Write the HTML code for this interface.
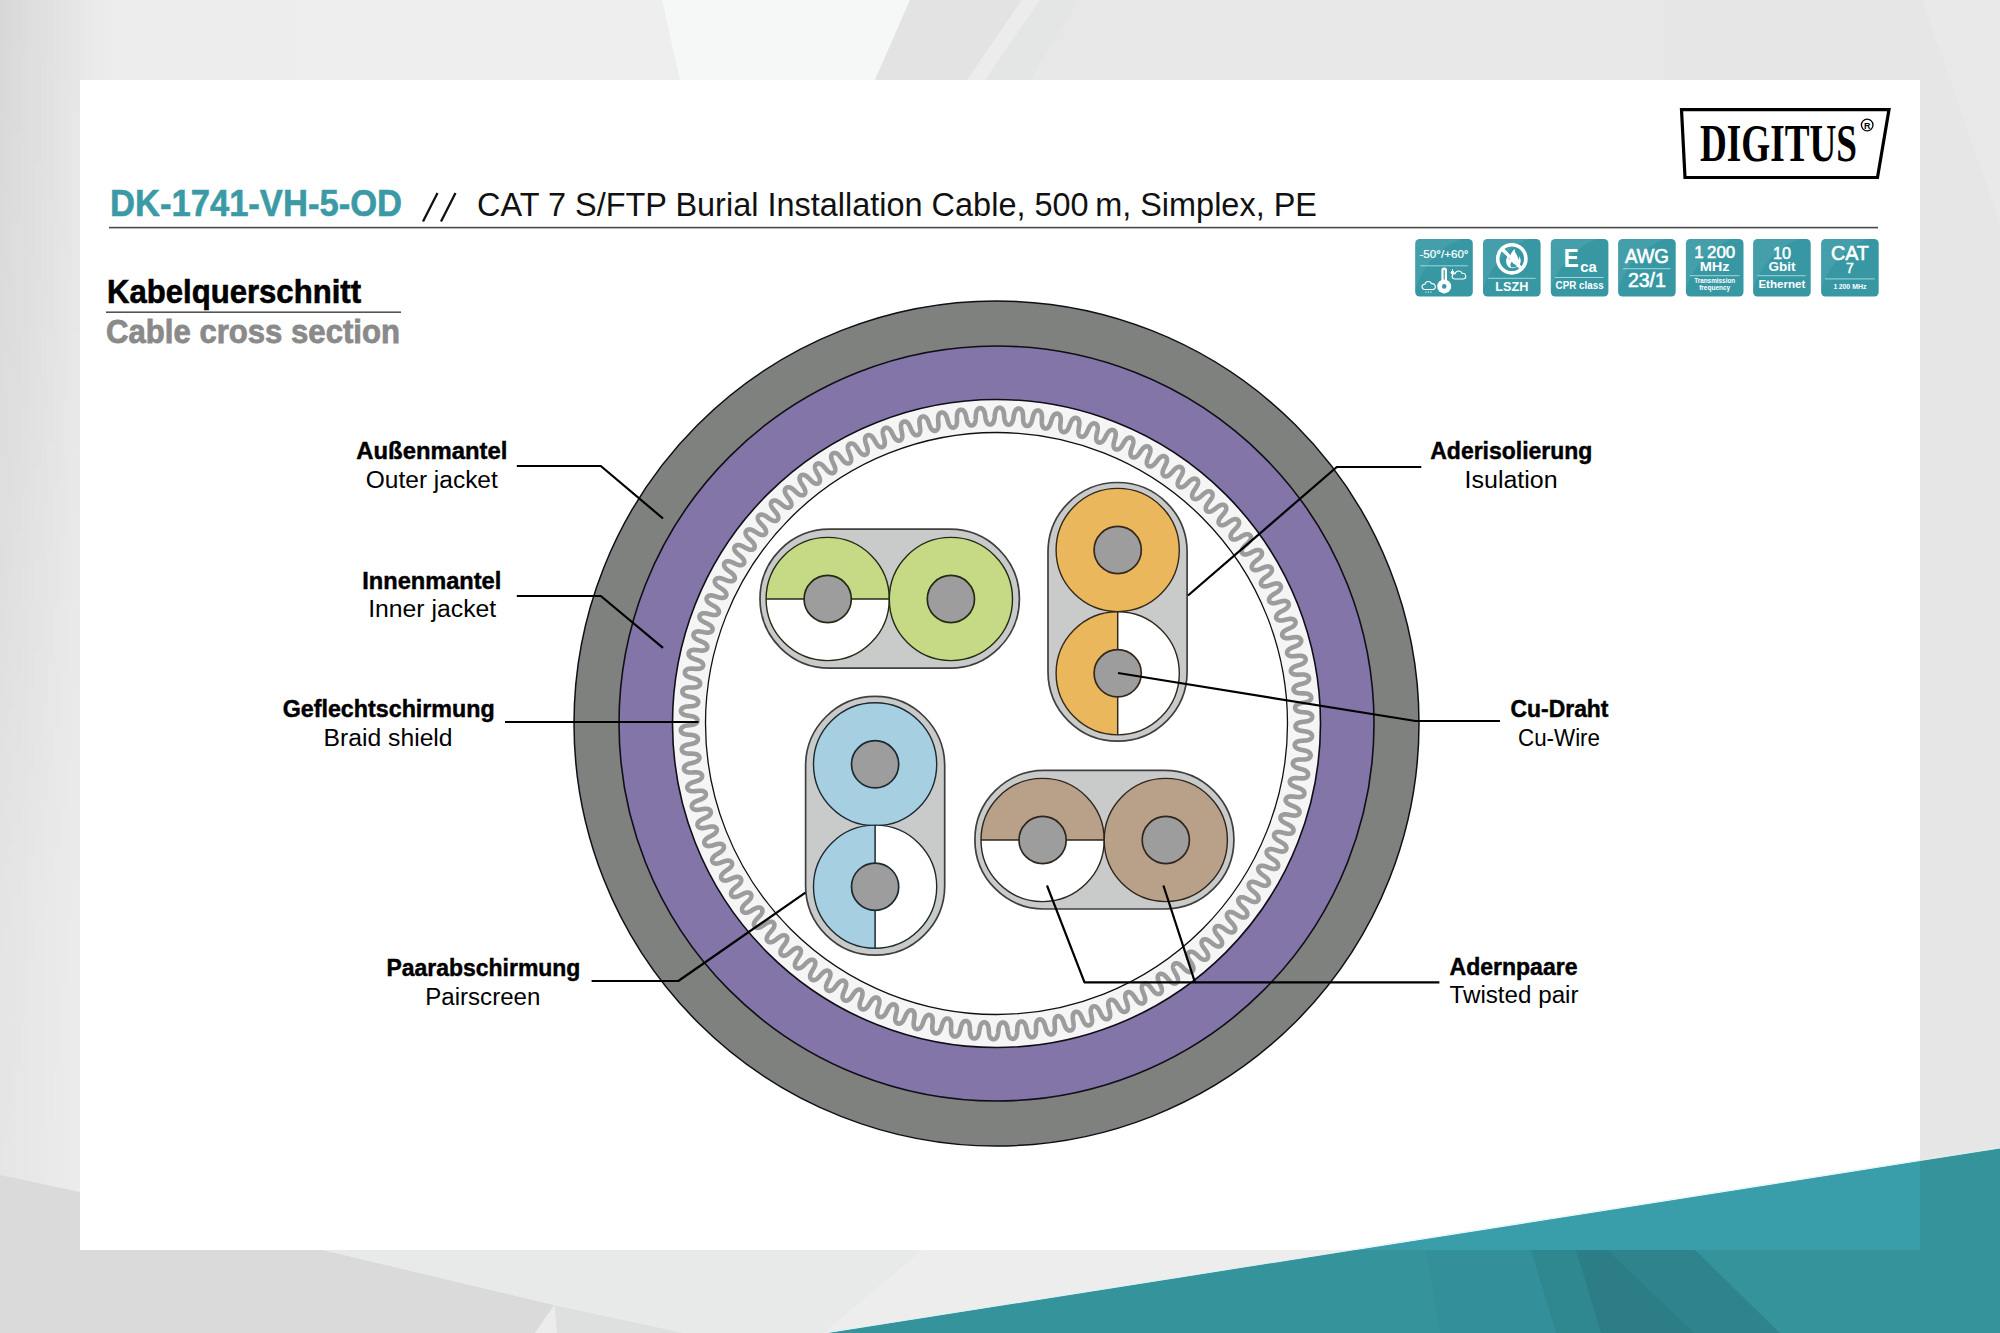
<!DOCTYPE html><html><head><meta charset="utf-8"><style>html,body{margin:0;padding:0;width:2000px;height:1333px;overflow:hidden;background:#e9e9e9}svg{display:block}text{font-family:"Liberation Sans",sans-serif}</style></head><body>
<svg width="2000" height="1333" viewBox="0 0 2000 1333">
<defs><linearGradient id="bgL" x1="0" y1="0" x2="1" y2="0"><stop offset="0" stop-color="#e8e8e8"/><stop offset="0.045" stop-color="#ededed"/><stop offset="0.33" stop-color="#eeeeee"/><stop offset="0.54" stop-color="#e7e7e7"/><stop offset="1" stop-color="#e6e6e6"/></linearGradient><linearGradient id="gloss" x1="0" y1="0" x2="1" y2="1"><stop offset="0" stop-color="#ffffff" stop-opacity="0.10"/><stop offset="0.45" stop-color="#ffffff" stop-opacity="0.06"/><stop offset="0.46" stop-color="#ffffff" stop-opacity="0"/><stop offset="1" stop-color="#ffffff" stop-opacity="0"/></linearGradient><linearGradient id="core" x1="0" y1="0" x2="0" y2="1"><stop offset="0" stop-color="#a9a9a9"/><stop offset="1" stop-color="#979797"/></linearGradient></defs>
<rect x="0" y="0" width="2000" height="1333" fill="url(#bgL)"/>
<defs><linearGradient id="tl" x1="0" y1="0" x2="1" y2="0"><stop offset="0" stop-color="#000" stop-opacity="0.07"/><stop offset="1" stop-color="#000" stop-opacity="0"/></linearGradient><linearGradient id="tv" x1="0" y1="0" x2="0" y2="1"><stop offset="0" stop-color="#fff"/><stop offset="0.25" stop-color="#fff" stop-opacity="0.75"/><stop offset="0.7" stop-color="#fff" stop-opacity="0.2"/><stop offset="1" stop-color="#fff" stop-opacity="0.1"/></linearGradient><mask id="mv" maskUnits="userSpaceOnUse" x="0" y="0" width="200" height="1333"><rect x="0" y="0" width="200" height="1333" fill="url(#tv)"/></mask></defs>
<rect x="0" y="0" width="115" height="1333" fill="url(#tl)" mask="url(#mv)"/>
<polygon points="662,0 910,0 875,80 680,80" fill="#f6f7f7"/>
<polygon points="910,0 1022,0 967,80 875,80" fill="#e3e3e3"/>
<polygon points="1022,0 1040,0 985,80 967,80" fill="#ececec"/>
<polygon points="1040,0 1079,0 1030,80 985,80" fill="#e4e5e5"/>
<polygon points="0,1175 80,1192 80,1250 323,1250 554.5,1305 535,1333 0,1333" fill="#dadada"/>
<polygon points="554.5,1305 557,1333 535,1333" fill="#ececec"/>
<polygon points="554.5,1305 684,1333 557,1333" fill="#dedfdf"/>
<polygon points="323,1250 922,1250 824,1333 684,1333 554.5,1305" fill="#e8e9e9"/>
<polygon points="922,1250 2000,1250 2000,1333 824,1333" fill="#ededed"/>
<polygon points="1923,0 2000,0 2000,225" fill="#e9e9e9"/>
<polygon points="828,1333 2000,1148.4 2000,1333" fill="#34939b"/>
<polygon points="1426,1250 1531,1250 1560,1333 1440,1333" fill="#33909a"/>
<polygon points="1531,1250 1576,1250 1601,1333 1556,1333" fill="#2f8790"/>
<polygon points="1576,1250 1608,1250 1695,1333 1601,1333" fill="#2c7d86"/>
<polygon points="1608,1250 1695,1250 1780,1333 1695,1333" fill="#2f838c"/>
<rect x="80" y="80" width="1840" height="1170" fill="#ffffff"/>
<polygon points="1355.8,1250 1920,1161.1 1920,1250" fill="#3a9eaa"/>
<line x1="828" y1="1332.2" x2="2000" y2="1147.6" stroke="#d6f3f5" stroke-width="1" stroke-opacity="0.8"/>
<circle cx="996.5" cy="723.5" r="422.5" fill="#7f817f" stroke="#110e18" stroke-width="1.5"/>
<circle cx="996.5" cy="723.5" r="377.5" fill="#8475a9" stroke="#110e18" stroke-width="1.6"/>
<circle cx="996.5" cy="723.5" r="324" fill="#f5f5f6" stroke="#110e18" stroke-width="1.6"/>
<path d="M1299.21,722.54 L1298.85,722.66 L1298.50,722.80 L1298.16,722.94 L1297.84,723.10 L1297.54,723.27 L1297.26,723.45 L1296.99,723.64 L1296.75,723.84 L1296.52,724.05 L1296.32,724.27 L1296.13,724.50 L1295.97,724.74 L1295.83,724.98 L1295.72,725.23 L1295.63,725.49 L1295.56,725.75 L1295.51,726.02 L1295.49,726.28 L1295.49,726.55 L1295.51,726.81 L1295.56,727.08 L1295.64,727.34 L1295.73,727.59 L1295.85,727.85 L1295.99,728.09 L1296.16,728.33 L1296.34,728.56 L1296.55,728.78 L1296.78,729.00 L1297.02,729.20 L1297.29,729.39 L1297.58,729.57 L1297.88,729.74 L1298.20,729.90 L1298.54,730.05 L1298.90,730.19 L1299.26,730.31 L1299.64,730.43 L1300.04,730.54 L1300.44,730.63 L1300.85,730.72 L1301.27,730.81 L1301.70,730.88 L1302.14,730.95 L1302.58,731.02 L1303.02,731.08 L1303.47,731.14 L1303.92,731.20 L1304.36,731.26 L1304.81,731.32 L1305.25,731.39 L1305.69,731.45 L1306.12,731.53 L1306.55,731.61 L1306.97,731.70 L1307.37,731.79 L1307.77,731.90 L1308.16,732.02 L1308.53,732.14 L1308.89,732.28 L1309.23,732.43 L1309.56,732.59 L1309.87,732.77 L1310.17,732.95 L1310.44,733.15 L1310.70,733.36 L1310.93,733.58 L1311.15,733.81 L1311.34,734.05 L1311.51,734.30 L1311.66,734.56 L1311.78,734.82 L1311.88,735.09 L1311.96,735.37 L1312.01,735.65 L1312.04,735.93 L1312.04,736.21 L1312.02,736.49 L1311.98,736.77 L1311.91,737.04 L1311.82,737.31 L1311.71,737.58 L1311.57,737.83 L1311.41,738.08 L1311.23,738.32 L1311.02,738.55 L1310.80,738.77 L1310.55,738.97 L1310.28,739.16 L1310.00,739.34 L1309.70,739.51 L1309.38,739.66 L1309.04,739.80 L1308.69,739.92 L1308.33,740.04 L1307.95,740.14 L1307.56,740.23 L1307.16,740.30 L1306.75,740.37 L1306.33,740.43 L1305.90,740.47 L1305.46,740.52 L1305.02,740.55 L1304.58,740.58 L1304.13,740.61 L1303.68,740.63 L1303.23,740.65 L1302.78,740.68 L1302.33,740.70 L1301.88,740.73 L1301.44,740.76 L1301.01,740.80 L1300.58,740.85 L1300.16,740.90 L1299.74,740.96 L1299.34,741.03 L1298.95,741.12 L1298.57,741.21 L1298.20,741.31 L1297.85,741.43 L1297.51,741.56 L1297.18,741.70 L1296.88,741.85 L1296.59,742.02 L1296.32,742.20 L1296.07,742.39 L1295.84,742.59 L1295.63,742.80 L1295.44,743.02 L1295.27,743.25 L1295.13,743.49 L1295.00,743.74 L1294.90,743.99 L1294.83,744.25 L1294.77,744.51 L1294.74,744.78 L1294.74,745.04 L1294.75,745.31 L1294.79,745.57 L1294.86,745.84 L1294.95,746.10 L1295.06,746.36 L1295.19,746.61 L1295.35,746.85 L1295.53,747.09 L1295.73,747.33 L1295.95,747.55 L1296.19,747.76 L1296.45,747.97 L1296.73,748.16 L1297.03,748.35 L1297.35,748.52 L1297.69,748.69 L1298.04,748.84 L1298.40,748.99 L1298.78,749.13 L1299.17,749.25 L1299.57,749.37 L1299.98,749.49 L1300.40,749.59 L1300.82,749.69 L1301.25,749.79 L1301.69,749.88 L1302.13,749.97 L1302.57,750.05 L1303.02,750.14 L1303.46,750.23 L1303.90,750.32 L1304.33,750.41 L1304.76,750.51 L1305.19,750.61 L1305.61,750.72 L1306.01,750.84 L1306.41,750.96 L1306.80,751.09 L1307.17,751.24 L1307.53,751.39 L1307.88,751.55 L1308.21,751.73 L1308.52,751.91 L1308.81,752.11 L1309.09,752.32 L1309.34,752.54 L1309.57,752.76 L1309.79,753.00 L1309.98,753.25 L1310.15,753.50 L1310.29,753.77 L1310.42,754.04 L1310.52,754.31 L1310.59,754.59 L1310.64,754.87 L1310.67,755.15 L1310.67,755.43 L1310.65,755.71 L1310.61,755.99 L1310.54,756.26 L1310.45,756.53 L1310.33,756.79 L1310.19,757.04 L1310.03,757.29 L1309.85,757.52 L1309.64,757.74 L1309.42,757.96 L1309.17,758.15 L1308.91,758.34 L1308.62,758.51 L1308.32,758.66 L1308.01,758.81 L1307.67,758.93 L1307.32,759.05 L1306.96,759.15 L1306.58,759.23 L1306.20,759.30 L1305.80,759.36 L1305.39,759.41 L1304.97,759.45 L1304.54,759.48 L1304.11,759.49 L1303.67,759.51 L1303.23,759.51 L1302.78,759.51 L1302.33,759.51 L1301.88,759.51 L1301.43,759.50 L1300.98,759.50 L1300.53,759.50 L1300.09,759.50 L1299.65,759.51 L1299.21,759.52 L1298.78,759.54 L1298.36,759.57 L1297.95,759.61 L1297.54,759.66 L1297.15,759.73 L1296.77,759.80 L1296.40,759.89 L1296.05,759.98 L1295.71,760.10 L1295.38,760.22 L1295.07,760.36 L1294.78,760.51 L1294.51,760.68 L1294.25,760.86 L1294.02,761.05 L1293.80,761.25 L1293.60,761.47 L1293.43,761.69 L1293.28,761.92 L1293.15,762.16 L1293.04,762.41 L1292.96,762.67 L1292.89,762.93 L1292.86,763.19 L1292.84,763.45 L1292.85,763.72 L1292.88,763.99 L1292.94,764.26 L1293.02,764.52 L1293.12,764.78 L1293.25,765.04 L1293.40,765.30 L1293.57,765.54 L1293.76,765.79 L1293.98,766.02 L1294.21,766.25 L1294.47,766.46 L1294.75,766.67 L1295.04,766.87 L1295.35,767.06 L1295.68,767.25 L1296.03,767.42 L1296.39,767.58 L1296.76,767.74 L1297.14,767.89 L1297.54,768.03 L1297.95,768.17 L1298.36,768.29 L1298.78,768.42 L1299.21,768.54 L1299.64,768.66 L1300.08,768.77 L1300.51,768.89 L1300.95,769.00 L1301.38,769.12 L1301.82,769.23 L1302.24,769.35 L1302.67,769.48 L1303.08,769.61 L1303.49,769.75 L1303.88,769.89 L1304.27,770.04 L1304.64,770.20 L1305.00,770.37 L1305.34,770.55 L1305.67,770.74 L1305.98,770.94 L1306.28,771.14 L1306.55,771.36 L1306.81,771.59 L1307.04,771.82 L1307.25,772.07 L1307.44,772.32 L1307.61,772.58 L1307.76,772.85 L1307.88,773.12 L1307.97,773.40 L1308.05,773.68 L1308.10,773.96 L1308.12,774.25 L1308.12,774.53 L1308.10,774.81 L1308.05,775.09 L1307.98,775.36 L1307.89,775.62 L1307.77,775.88 L1307.63,776.13 L1307.47,776.37 L1307.29,776.60 L1307.08,776.82 L1306.86,777.03 L1306.61,777.22 L1306.35,777.40 L1306.07,777.56 L1305.77,777.71 L1305.45,777.84 L1305.12,777.95 L1304.78,778.06 L1304.42,778.14 L1304.04,778.21 L1303.66,778.27 L1303.26,778.31 L1302.86,778.34 L1302.45,778.36 L1302.02,778.37 L1301.59,778.37 L1301.16,778.36 L1300.72,778.34 L1300.27,778.32 L1299.83,778.29 L1299.38,778.26 L1298.93,778.23 L1298.48,778.19 L1298.03,778.16 L1297.58,778.14 L1297.14,778.11 L1296.70,778.10 L1296.27,778.09 L1295.84,778.08 L1295.42,778.09 L1295.01,778.11 L1294.61,778.14 L1294.21,778.18 L1293.83,778.24 L1293.46,778.30 L1293.11,778.39 L1292.77,778.48 L1292.44,778.59 L1292.13,778.72 L1291.83,778.86 L1291.56,779.01 L1291.30,779.18 L1291.06,779.36 L1290.84,779.55 L1290.64,779.76 L1290.46,779.97 L1290.30,780.20 L1290.16,780.44 L1290.04,780.68 L1289.95,780.93 L1289.88,781.19 L1289.84,781.45 L1289.81,781.72 L1289.81,781.98 L1289.84,782.25 L1289.89,782.52 L1289.96,782.79 L1290.05,783.06 L1290.17,783.33 L1290.31,783.59 L1290.48,783.84 L1290.66,784.09 L1290.87,784.34 L1291.10,784.57 L1291.35,784.81 L1291.62,785.03 L1291.91,785.24 L1292.21,785.45 L1292.54,785.65 L1292.88,785.84 L1293.23,786.03 L1293.60,786.20 L1293.98,786.37 L1294.37,786.54 L1294.77,786.69 L1295.18,786.85 L1295.59,786.99 L1296.01,787.14 L1296.44,787.28 L1296.86,787.42 L1297.29,787.56 L1297.72,787.71 L1298.15,787.85 L1298.57,787.99 L1298.99,788.14 L1299.40,788.29 L1299.80,788.45 L1300.20,788.62 L1300.58,788.79 L1300.95,788.96 L1301.31,789.15 L1301.65,789.34 L1301.98,789.55 L1302.29,789.76 L1302.58,789.98 L1302.85,790.20 L1303.10,790.44 L1303.34,790.69 L1303.55,790.94 L1303.74,791.20 L1303.90,791.47 L1304.05,791.74 L1304.17,792.02 L1304.26,792.30 L1304.33,792.58 L1304.38,792.87 L1304.41,793.15 L1304.41,793.43 L1304.38,793.71 L1304.33,793.99 L1304.26,794.26 L1304.16,794.53 L1304.05,794.79 L1303.91,795.03 L1303.74,795.27 L1303.56,795.50 L1303.35,795.71 L1303.13,795.91 L1302.89,796.10 L1302.62,796.27 L1302.34,796.42 L1302.05,796.56 L1301.73,796.68 L1301.40,796.79 L1301.06,796.88 L1300.71,796.95 L1300.34,797.01 L1299.96,797.06 L1299.57,797.08 L1299.17,797.10 L1298.76,797.10 L1298.34,797.09 L1297.91,797.07 L1297.48,797.03 L1297.05,796.99 L1296.61,796.95 L1296.17,796.89 L1295.72,796.84 L1295.27,796.78 L1294.83,796.72 L1294.38,796.66 L1293.93,796.60 L1293.49,796.55 L1293.05,796.50 L1292.62,796.46 L1292.19,796.43 L1291.76,796.40 L1291.35,796.39 L1290.94,796.38 L1290.54,796.39 L1290.15,796.41 L1289.77,796.45 L1289.40,796.50 L1289.04,796.57 L1288.70,796.65 L1288.37,796.74 L1288.06,796.85 L1287.76,796.98 L1287.48,797.12 L1287.22,797.28 L1286.98,797.45 L1286.75,797.63 L1286.54,797.83 L1286.36,798.04 L1286.19,798.26 L1286.05,798.49 L1285.93,798.73 L1285.83,798.98 L1285.75,799.23 L1285.70,799.49 L1285.67,799.76 L1285.66,800.03 L1285.67,800.30 L1285.71,800.57 L1285.78,800.84 L1285.86,801.12 L1285.97,801.39 L1286.11,801.65 L1286.26,801.92 L1286.44,802.18 L1286.64,802.43 L1286.86,802.68 L1287.11,802.93 L1287.37,803.16 L1287.65,803.39 L1287.95,803.62 L1288.26,803.83 L1288.59,804.04 L1288.94,804.24 L1289.30,804.44 L1289.67,804.63 L1290.06,804.82 L1290.45,805.00 L1290.85,805.17 L1291.26,805.35 L1291.67,805.52 L1292.09,805.68 L1292.51,805.85 L1292.93,806.02 L1293.35,806.19 L1293.76,806.36 L1294.17,806.53 L1294.58,806.70 L1294.98,806.88 L1295.36,807.07 L1295.74,807.26 L1296.11,807.45 L1296.47,807.65 L1296.81,807.86 L1297.13,808.08 L1297.44,808.31 L1297.73,808.54 L1298.00,808.78 L1298.25,809.03 L1298.48,809.28 L1298.69,809.54 L1298.88,809.81 L1299.04,810.08 L1299.18,810.36 L1299.30,810.64 L1299.40,810.93 L1299.47,811.21 L1299.51,811.50 L1299.53,811.79 L1299.53,812.07 L1299.50,812.35 L1299.45,812.63 L1299.38,812.90 L1299.28,813.17 L1299.16,813.42 L1299.02,813.67 L1298.86,813.90 L1298.67,814.13 L1298.47,814.34 L1298.25,814.53 L1298.00,814.71 L1297.74,814.88 L1297.46,815.02 L1297.17,815.16 L1296.86,815.27 L1296.53,815.37 L1296.19,815.45 L1295.84,815.51 L1295.48,815.56 L1295.10,815.59 L1294.72,815.60 L1294.32,815.60 L1293.92,815.58 L1293.51,815.56 L1293.09,815.51 L1292.66,815.46 L1292.23,815.40 L1291.80,815.33 L1291.36,815.26 L1290.92,815.17 L1290.48,815.09 L1290.04,815.00 L1289.60,814.92 L1289.16,814.83 L1288.72,814.75 L1288.28,814.67 L1287.84,814.59 L1287.41,814.53 L1286.99,814.47 L1286.57,814.42 L1286.15,814.39 L1285.75,814.36 L1285.35,814.35 L1284.96,814.36 L1284.59,814.37 L1284.22,814.41 L1283.87,814.46 L1283.52,814.52 L1283.20,814.60 L1282.88,814.70 L1282.58,814.81 L1282.30,814.94 L1282.04,815.09 L1281.79,815.25 L1281.56,815.42 L1281.35,815.61 L1281.15,815.81 L1280.98,816.03 L1280.83,816.25 L1280.70,816.49 L1280.60,816.73 L1280.51,816.98 L1280.45,817.24 L1280.41,817.51 L1280.40,817.78 L1280.40,818.05 L1280.43,818.33 L1280.49,818.60 L1280.57,818.88 L1280.67,819.16 L1280.79,819.43 L1280.94,819.70 L1281.11,819.97 L1281.30,820.24 L1281.52,820.50 L1281.75,820.75 L1282.00,821.00 L1282.28,821.25 L1282.57,821.49 L1282.87,821.72 L1283.20,821.95 L1283.54,822.17 L1283.89,822.39 L1284.25,822.60 L1284.63,822.81 L1285.01,823.01 L1285.40,823.21 L1285.80,823.41 L1286.21,823.60 L1286.61,823.79 L1287.02,823.99 L1287.43,824.18 L1287.83,824.37 L1288.24,824.57 L1288.64,824.76 L1289.03,824.97 L1289.41,825.17 L1289.78,825.38 L1290.15,825.59 L1290.50,825.81 L1290.83,826.04 L1291.15,826.27 L1291.46,826.51 L1291.75,826.76 L1292.01,827.01 L1292.26,827.27 L1292.49,827.53 L1292.70,827.80 L1292.88,828.08 L1293.05,828.36 L1293.18,828.64 L1293.30,828.93 L1293.39,829.22 L1293.46,829.51 L1293.50,829.80 L1293.52,830.09 L1293.52,830.38 L1293.49,830.66 L1293.44,830.94 L1293.36,831.21 L1293.26,831.47 L1293.14,831.73 L1293.00,831.97 L1292.84,832.20 L1292.65,832.42 L1292.45,832.63 L1292.22,832.82 L1291.98,832.99 L1291.72,833.15 L1291.45,833.30 L1291.15,833.42 L1290.85,833.53 L1290.52,833.62 L1290.19,833.69 L1289.84,833.74 L1289.48,833.77 L1289.11,833.79 L1288.73,833.79 L1288.34,833.78 L1287.95,833.75 L1287.54,833.70 L1287.13,833.64 L1286.71,833.57 L1286.29,833.49 L1285.87,833.40 L1285.44,833.30 L1285.00,833.20 L1284.57,833.09 L1284.13,832.97 L1283.70,832.86 L1283.26,832.74 L1282.82,832.63 L1282.39,832.52 L1281.96,832.42 L1281.53,832.32 L1281.11,832.23 L1280.69,832.15 L1280.27,832.08 L1279.87,832.03 L1279.47,831.98 L1279.07,831.95 L1278.69,831.94 L1278.32,831.94 L1277.95,831.95 L1277.60,831.99 L1277.26,832.04 L1276.93,832.10 L1276.62,832.19 L1276.32,832.29 L1276.03,832.41 L1275.76,832.54 L1275.51,832.69 L1275.28,832.86 L1275.06,833.04 L1274.86,833.23 L1274.69,833.44 L1274.53,833.66 L1274.40,833.89 L1274.28,834.13 L1274.19,834.38 L1274.12,834.64 L1274.07,834.90 L1274.05,835.17 L1274.05,835.45 L1274.07,835.72 L1274.12,836.00 L1274.18,836.29 L1274.28,836.57 L1274.39,836.85 L1274.53,837.13 L1274.69,837.41 L1274.87,837.68 L1275.08,837.96 L1275.30,838.22 L1275.55,838.49 L1275.81,838.75 L1276.09,839.00 L1276.39,839.25 L1276.71,839.50 L1277.04,839.74 L1277.38,839.98 L1277.73,840.21 L1278.10,840.44 L1278.47,840.66 L1278.85,840.88 L1279.24,841.10 L1279.63,841.32 L1280.03,841.54 L1280.42,841.76 L1280.82,841.97 L1281.21,842.19 L1281.60,842.41 L1281.98,842.64 L1282.36,842.86 L1282.72,843.09 L1283.08,843.32 L1283.42,843.56 L1283.76,843.81 L1284.07,844.05 L1284.37,844.31 L1284.66,844.57 L1284.92,844.83 L1285.17,845.10 L1285.39,845.38 L1285.59,845.66 L1285.78,845.94 L1285.94,846.23 L1286.07,846.52 L1286.19,846.81 L1286.28,847.11 L1286.34,847.40 L1286.38,847.69 L1286.40,847.99 L1286.39,848.27 L1286.36,848.56 L1286.31,848.84 L1286.23,849.11 L1286.13,849.37 L1286.01,849.62 L1285.87,849.87 L1285.70,850.10 L1285.52,850.31 L1285.31,850.52 L1285.09,850.70 L1284.85,850.87 L1284.59,851.03 L1284.31,851.17 L1284.02,851.28 L1283.72,851.38 L1283.40,851.47 L1283.07,851.53 L1282.73,851.57 L1282.37,851.60 L1282.01,851.60 L1281.63,851.59 L1281.25,851.56 L1280.86,851.52 L1280.47,851.46 L1280.06,851.38 L1279.65,851.29 L1279.24,851.19 L1278.82,851.08 L1278.40,850.96 L1277.98,850.83 L1277.55,850.70 L1277.12,850.56 L1276.70,850.42 L1276.27,850.28 L1275.84,850.14 L1275.41,850.00 L1274.99,849.87 L1274.56,849.74 L1274.14,849.62 L1273.73,849.51 L1273.32,849.41 L1272.91,849.32 L1272.51,849.24 L1272.11,849.18 L1271.73,849.13 L1271.35,849.09 L1270.98,849.08 L1270.62,849.08 L1270.26,849.09 L1269.93,849.13 L1269.60,849.18 L1269.28,849.25 L1268.98,849.34 L1268.70,849.45 L1268.43,849.57 L1268.17,849.71 L1267.93,849.87 L1267.71,850.04 L1267.51,850.23 L1267.33,850.43 L1267.17,850.64 L1267.02,850.87 L1266.90,851.10 L1266.80,851.35 L1266.73,851.61 L1266.67,851.87 L1266.64,852.14 L1266.63,852.42 L1266.64,852.70 L1266.68,852.98 L1266.74,853.27 L1266.82,853.56 L1266.93,853.84 L1267.06,854.13 L1267.21,854.42 L1267.38,854.70 L1267.58,854.99 L1267.79,855.27 L1268.03,855.55 L1268.28,855.82 L1268.55,856.09 L1268.84,856.36 L1269.14,856.62 L1269.46,856.88 L1269.79,857.14 L1270.14,857.39 L1270.49,857.64 L1270.85,857.88 L1271.22,858.13 L1271.60,858.37 L1271.98,858.61 L1272.36,858.86 L1272.74,859.10 L1273.12,859.34 L1273.50,859.58 L1273.87,859.83 L1274.23,860.07 L1274.59,860.32 L1274.94,860.57 L1275.28,860.83 L1275.60,861.09 L1275.91,861.36 L1276.21,861.62 L1276.49,861.90 L1276.75,862.17 L1276.99,862.46 L1277.21,862.74 L1277.41,863.03 L1277.59,863.33 L1277.74,863.62 L1277.88,863.92 L1277.99,864.22 L1278.07,864.52 L1278.14,864.82 L1278.17,865.11 L1278.19,865.41 L1278.18,865.70 L1278.15,865.98 L1278.09,866.26 L1278.01,866.53 L1277.91,866.80 L1277.79,867.05 L1277.64,867.29 L1277.48,867.52 L1277.29,867.73 L1277.09,867.93 L1276.86,868.12 L1276.62,868.28 L1276.37,868.43 L1276.09,868.57 L1275.80,868.68 L1275.50,868.77 L1275.19,868.85 L1274.86,868.90 L1274.52,868.94 L1274.17,868.95 L1273.82,868.95 L1273.45,868.92 L1273.07,868.88 L1272.69,868.83 L1272.30,868.75 L1271.91,868.66 L1271.51,868.56 L1271.11,868.44 L1270.70,868.31 L1270.29,868.17 L1269.87,868.02 L1269.46,867.86 L1269.04,867.70 L1268.62,867.54 L1268.20,867.37 L1267.78,867.21 L1267.37,867.04 L1266.95,866.88 L1266.53,866.72 L1266.12,866.57 L1265.71,866.42 L1265.30,866.29 L1264.90,866.17 L1264.50,866.06 L1264.11,865.96 L1263.72,865.88 L1263.34,865.81 L1262.96,865.76 L1262.60,865.73 L1262.24,865.71 L1261.89,865.71 L1261.56,865.73 L1261.23,865.77 L1260.92,865.83 L1260.61,865.91 L1260.33,866.00 L1260.06,866.11 L1259.80,866.25 L1259.56,866.39 L1259.33,866.56 L1259.13,866.74 L1258.94,866.93 L1258.77,867.14 L1258.62,867.36 L1258.49,867.59 L1258.39,867.84 L1258.30,868.09 L1258.24,868.35 L1258.19,868.62 L1258.18,868.90 L1258.18,869.18 L1258.21,869.47 L1258.26,869.76 L1258.33,870.05 L1258.43,870.35 L1258.55,870.64 L1258.69,870.94 L1258.85,871.24 L1259.03,871.53 L1259.24,871.82 L1259.46,872.11 L1259.71,872.40 L1259.97,872.69 L1260.24,872.97 L1260.54,873.25 L1260.84,873.53 L1261.16,873.80 L1261.49,874.08 L1261.84,874.35 L1262.18,874.61 L1262.54,874.88 L1262.90,875.15 L1263.27,875.41 L1263.63,875.67 L1264.00,875.94 L1264.36,876.20 L1264.72,876.47 L1265.07,876.74 L1265.42,877.01 L1265.76,877.28 L1266.09,877.55 L1266.40,877.83 L1266.71,878.11 L1267.00,878.40 L1267.27,878.68 L1267.52,878.97 L1267.76,879.27 L1267.97,879.57 L1268.17,879.87 L1268.34,880.17 L1268.50,880.47 L1268.63,880.78 L1268.73,881.08 L1268.82,881.39 L1268.88,881.69 L1268.91,881.99 L1268.92,882.29 L1268.91,882.58 L1268.88,882.87 L1268.82,883.15 L1268.74,883.42 L1268.63,883.68 L1268.51,883.94 L1268.36,884.18 L1268.20,884.40 L1268.01,884.62 L1267.80,884.81 L1267.58,884.99 L1267.34,885.16 L1267.09,885.30 L1266.81,885.43 L1266.53,885.54 L1266.23,885.63 L1265.92,885.69 L1265.60,885.74 L1265.26,885.77 L1264.92,885.78 L1264.57,885.76 L1264.21,885.73 L1263.84,885.68 L1263.47,885.61 L1263.09,885.52 L1262.70,885.42 L1262.31,885.30 L1261.92,885.16 L1261.52,885.02 L1261.12,884.86 L1260.72,884.69 L1260.32,884.51 L1259.91,884.33 L1259.50,884.14 L1259.10,883.95 L1258.69,883.76 L1258.28,883.57 L1257.87,883.38 L1257.47,883.19 L1257.06,883.01 L1256.66,882.83 L1256.26,882.67 L1255.86,882.51 L1255.47,882.37 L1255.08,882.24 L1254.69,882.12 L1254.31,882.02 L1253.94,881.94 L1253.57,881.87 L1253.21,881.82 L1252.86,881.79 L1252.51,881.78 L1252.18,881.78 L1251.86,881.81 L1251.54,881.86 L1251.24,881.92 L1250.95,882.00 L1250.68,882.11 L1250.42,882.23 L1250.18,882.37 L1249.95,882.52 L1249.74,882.69 L1249.54,882.88 L1249.37,883.08 L1249.21,883.30 L1249.08,883.53 L1248.96,883.77 L1248.87,884.02 L1248.80,884.28 L1248.75,884.55 L1248.72,884.83 L1248.72,885.12 L1248.73,885.41 L1248.77,885.70 L1248.84,886.00 L1248.92,886.30 L1249.03,886.60 L1249.16,886.91 L1249.31,887.21 L1249.49,887.52 L1249.68,887.82 L1249.89,888.13 L1250.12,888.43 L1250.37,888.73 L1250.64,889.03 L1250.92,889.33 L1251.21,889.62 L1251.52,889.91 L1251.84,890.21 L1252.16,890.50 L1252.50,890.78 L1252.84,891.07 L1253.18,891.36 L1253.53,891.64 L1253.88,891.93 L1254.23,892.22 L1254.57,892.50 L1254.91,892.79 L1255.25,893.08 L1255.58,893.37 L1255.89,893.67 L1256.20,893.96 L1256.49,894.26 L1256.77,894.56 L1257.04,894.86 L1257.29,895.17 L1257.52,895.47 L1257.73,895.78 L1257.92,896.09 L1258.09,896.40 L1258.23,896.72 L1258.36,897.03 L1258.46,897.34 L1258.54,897.65 L1258.60,897.96 L1258.63,898.27 L1258.64,898.57 L1258.62,898.86 L1258.59,899.15 L1258.53,899.43 L1258.44,899.71 L1258.34,899.97 L1258.21,900.22 L1258.06,900.46 L1257.89,900.69 L1257.71,900.90 L1257.50,901.09 L1257.28,901.27 L1257.04,901.43 L1256.78,901.57 L1256.52,901.70 L1256.23,901.80 L1255.94,901.88 L1255.63,901.94 L1255.31,901.98 L1254.98,902.00 L1254.64,902.00 L1254.30,901.98 L1253.95,901.94 L1253.59,901.88 L1253.22,901.80 L1252.85,901.70 L1252.48,901.58 L1252.10,901.45 L1251.71,901.30 L1251.33,901.14 L1250.94,900.96 L1250.55,900.77 L1250.16,900.58 L1249.76,900.38 L1249.37,900.17 L1248.98,899.95 L1248.58,899.74 L1248.19,899.52 L1247.79,899.30 L1247.40,899.09 L1247.00,898.88 L1246.61,898.68 L1246.22,898.48 L1245.83,898.29 L1245.44,898.12 L1245.06,897.96 L1244.68,897.81 L1244.31,897.67 L1243.93,897.55 L1243.57,897.45 L1243.21,897.37 L1242.85,897.30 L1242.51,897.26 L1242.17,897.23 L1241.83,897.22 L1241.51,897.24 L1241.20,897.27 L1240.90,897.32 L1240.61,897.40 L1240.34,897.49 L1240.08,897.60 L1239.83,897.73 L1239.60,897.88 L1239.38,898.04 L1239.19,898.22 L1239.00,898.42 L1238.84,898.63 L1238.70,898.86 L1238.58,899.09 L1238.48,899.34 L1238.40,899.60 L1238.34,899.87 L1238.30,900.15 L1238.29,900.44 L1238.29,900.73 L1238.32,901.03 L1238.38,901.33 L1238.45,901.64 L1238.55,901.95 L1238.67,902.26 L1238.81,902.58 L1238.97,902.89 L1239.15,903.21 L1239.35,903.53 L1239.57,903.84 L1239.80,904.16 L1240.06,904.47 L1240.32,904.78 L1240.60,905.10 L1240.89,905.41 L1241.20,905.72 L1241.51,906.03 L1241.83,906.34 L1242.15,906.64 L1242.48,906.95 L1242.81,907.26 L1243.14,907.56 L1243.47,907.87 L1243.79,908.18 L1244.11,908.49 L1244.43,908.80 L1244.73,909.11 L1245.03,909.42 L1245.31,909.74 L1245.58,910.05 L1245.84,910.37 L1246.08,910.69 L1246.30,911.01 L1246.50,911.33 L1246.69,911.65 L1246.85,911.97 L1246.99,912.29 L1247.11,912.61 L1247.21,912.93 L1247.29,913.25 L1247.34,913.56 L1247.37,913.87 L1247.37,914.18 L1247.36,914.48 L1247.31,914.77 L1247.25,915.05 L1247.17,915.33 L1247.06,915.59 L1246.93,915.84 L1246.78,916.08 L1246.61,916.30 L1246.42,916.51 L1246.22,916.71 L1245.99,916.88 L1245.75,917.04 L1245.50,917.18 L1245.23,917.30 L1244.95,917.40 L1244.66,917.48 L1244.35,917.53 L1244.04,917.57 L1243.72,917.58 L1243.38,917.57 L1243.05,917.54 L1242.70,917.49 L1242.35,917.42 L1241.99,917.33 L1241.63,917.22 L1241.26,917.09 L1240.90,916.95 L1240.53,916.79 L1240.15,916.61 L1239.78,916.42 L1239.40,916.21 L1239.02,916.00 L1238.64,915.78 L1238.26,915.55 L1237.88,915.31 L1237.50,915.07 L1237.12,914.83 L1236.74,914.59 L1236.36,914.35 L1235.98,914.12 L1235.60,913.89 L1235.22,913.66 L1234.84,913.45 L1234.46,913.24 L1234.09,913.05 L1233.72,912.86 L1233.35,912.70 L1232.98,912.55 L1232.62,912.41 L1232.26,912.29 L1231.91,912.19 L1231.56,912.11 L1231.22,912.05 L1230.89,912.01 L1230.56,911.99 L1230.24,911.99 L1229.93,912.01 L1229.63,912.06 L1229.35,912.12 L1229.07,912.20 L1228.81,912.30 L1228.56,912.42 L1228.32,912.56 L1228.10,912.72 L1227.90,912.90 L1227.71,913.09 L1227.55,913.29 L1227.40,913.51 L1227.27,913.75 L1227.16,914.00 L1227.07,914.25 L1227.00,914.52 L1226.95,914.80 L1226.93,915.09 L1226.93,915.39 L1226.95,915.69 L1226.99,916.00 L1227.05,916.31 L1227.14,916.63 L1227.24,916.95 L1227.37,917.27 L1227.52,917.59 L1227.69,917.92 L1227.87,918.25 L1228.08,918.58 L1228.30,918.91 L1228.54,919.24 L1228.79,919.57 L1229.05,919.90 L1229.33,920.22 L1229.62,920.55 L1229.91,920.88 L1230.21,921.21 L1230.52,921.53 L1230.83,921.86 L1231.14,922.19 L1231.45,922.51 L1231.76,922.84 L1232.06,923.17 L1232.36,923.50 L1232.65,923.83 L1232.94,924.16 L1233.21,924.49 L1233.47,924.82 L1233.71,925.15 L1233.94,925.48 L1234.15,925.81 L1234.35,926.15 L1234.53,926.48 L1234.68,926.81 L1234.82,927.14 L1234.93,927.47 L1235.03,927.80 L1235.10,928.12 L1235.14,928.44 L1235.17,928.76 L1235.17,929.06 L1235.15,929.37 L1235.10,929.66 L1235.04,929.95 L1234.95,930.22 L1234.84,930.49 L1234.71,930.74 L1234.56,930.98 L1234.39,931.20 L1234.20,931.41 L1233.99,931.60 L1233.77,931.77 L1233.53,931.93 L1233.28,932.06 L1233.01,932.18 L1232.73,932.27 L1232.44,932.35 L1232.14,932.40 L1231.83,932.43 L1231.51,932.44 L1231.18,932.42 L1230.85,932.39 L1230.51,932.33 L1230.17,932.25 L1229.82,932.15 L1229.47,932.03 L1229.11,931.89 L1228.76,931.74 L1228.40,931.56 L1228.04,931.37 L1227.67,931.17 L1227.31,930.95 L1226.95,930.72 L1226.58,930.48 L1226.22,930.23 L1225.85,929.98 L1225.49,929.72 L1225.12,929.45 L1224.75,929.19 L1224.39,928.93 L1224.02,928.66 L1223.66,928.41 L1223.29,928.16 L1222.93,927.91 L1222.57,927.68 L1222.21,927.45 L1221.84,927.24 L1221.49,927.04 L1221.13,926.86 L1220.77,926.69 L1220.42,926.54 L1220.07,926.40 L1219.73,926.29 L1219.39,926.20 L1219.05,926.12 L1218.72,926.07 L1218.40,926.04 L1218.08,926.02 L1217.78,926.03 L1217.48,926.06 L1217.19,926.12 L1216.92,926.19 L1216.65,926.28 L1216.40,926.39 L1216.16,926.52 L1215.94,926.67 L1215.73,926.84 L1215.54,927.03 L1215.36,927.23 L1215.21,927.45 L1215.07,927.68 L1214.95,927.92 L1214.86,928.18 L1214.78,928.45 L1214.72,928.73 L1214.69,929.02 L1214.67,929.31 L1214.68,929.62 L1214.71,929.93 L1214.77,930.25 L1214.84,930.57 L1214.93,930.90 L1215.05,931.23 L1215.18,931.57 L1215.34,931.90 L1215.51,932.24 L1215.70,932.59 L1215.91,932.93 L1216.13,933.27 L1216.36,933.62 L1216.61,933.96 L1216.87,934.31 L1217.14,934.65 L1217.42,935.00 L1217.70,935.34 L1217.99,935.69 L1218.28,936.03 L1218.57,936.38 L1218.85,936.72 L1219.14,937.07 L1219.42,937.41 L1219.70,937.76 L1219.97,938.11 L1220.22,938.45 L1220.47,938.80 L1220.70,939.14 L1220.92,939.49 L1221.13,939.84 L1221.31,940.18 L1221.48,940.53 L1221.63,940.87 L1221.76,941.21 L1221.87,941.55 L1221.95,941.88 L1222.02,942.21 L1222.06,942.54 L1222.08,942.86 L1222.08,943.17 L1222.05,943.47 L1222.00,943.77 L1221.93,944.06 L1221.84,944.34 L1221.73,944.60 L1221.60,944.85 L1221.44,945.09 L1221.27,945.31 L1221.08,945.52 L1220.87,945.71 L1220.65,945.88 L1220.41,946.04 L1220.16,946.17 L1219.89,946.28 L1219.62,946.37 L1219.33,946.44 L1219.03,946.49 L1218.72,946.52 L1218.41,946.52 L1218.09,946.50 L1217.76,946.46 L1217.43,946.39 L1217.09,946.31 L1216.75,946.20 L1216.41,946.07 L1216.07,945.92 L1215.72,945.76 L1215.37,945.57 L1215.03,945.37 L1214.68,945.15 L1214.33,944.92 L1213.98,944.68 L1213.63,944.42 L1213.28,944.16 L1212.93,943.88 L1212.58,943.61 L1212.23,943.32 L1211.88,943.04 L1211.54,942.75 L1211.19,942.47 L1210.84,942.18 L1210.49,941.91 L1210.14,941.63 L1209.79,941.37 L1209.45,941.12 L1209.10,940.88 L1208.75,940.65 L1208.41,940.43 L1208.06,940.23 L1207.72,940.05 L1207.38,939.88 L1207.04,939.73 L1206.70,939.61 L1206.37,939.50 L1206.04,939.41 L1205.72,939.34 L1205.40,939.30 L1205.09,939.27 L1204.78,939.27 L1204.49,939.29 L1204.20,939.33 L1203.92,939.40 L1203.66,939.48 L1203.40,939.58 L1203.16,939.71 L1202.93,939.85 L1202.72,940.01 L1202.53,940.19 L1202.35,940.39 L1202.18,940.60 L1202.04,940.83 L1201.91,941.07 L1201.81,941.32 L1201.72,941.59 L1201.65,941.87 L1201.61,942.16 L1201.58,942.46 L1201.58,942.77 L1201.60,943.08 L1201.64,943.41 L1201.70,943.74 L1201.78,944.07 L1201.88,944.41 L1202.00,944.76 L1202.14,945.10 L1202.30,945.46 L1202.48,945.81 L1202.67,946.16 L1202.87,946.52 L1203.09,946.88 L1203.32,947.24 L1203.56,947.60 L1203.81,947.96 L1204.07,948.32 L1204.33,948.68 L1204.60,949.05 L1204.87,949.41 L1205.13,949.77 L1205.40,950.13 L1205.66,950.50 L1205.92,950.86 L1206.17,951.22 L1206.42,951.58 L1206.65,951.94 L1206.87,952.31 L1207.08,952.66 L1207.27,953.02 L1207.44,953.38 L1207.60,953.74 L1207.74,954.09 L1207.86,954.44 L1207.96,954.78 L1208.04,955.13 L1208.10,955.46 L1208.14,955.79 L1208.15,956.12 L1208.14,956.44 L1208.11,956.75 L1208.06,957.05 L1207.99,957.34 L1207.89,957.62 L1207.78,957.88 L1207.64,958.13 L1207.49,958.37 L1207.31,958.59 L1207.12,958.80 L1206.91,958.99 L1206.69,959.16 L1206.45,959.31 L1206.20,959.44 L1205.93,959.55 L1205.66,959.64 L1205.37,959.71 L1205.07,959.75 L1204.77,959.77 L1204.46,959.77 L1204.15,959.75 L1203.83,959.70 L1203.50,959.63 L1203.17,959.54 L1202.84,959.42 L1202.51,959.29 L1202.17,959.13 L1201.84,958.96 L1201.50,958.76 L1201.17,958.55 L1200.83,958.32 L1200.50,958.08 L1200.17,957.82 L1199.83,957.55 L1199.50,957.27 L1199.17,956.98 L1198.84,956.69 L1198.51,956.38 L1198.18,956.08 L1197.84,955.77 L1197.51,955.46 L1197.18,955.16 L1196.85,954.86 L1196.52,954.56 L1196.19,954.27 L1195.86,953.99 L1195.53,953.72 L1195.20,953.46 L1194.86,953.22 L1194.53,952.98 L1194.20,952.77 L1193.87,952.57 L1193.54,952.39 L1193.21,952.23 L1192.88,952.09 L1192.56,951.97 L1192.24,951.87 L1191.92,951.79 L1191.61,951.73 L1191.30,951.70 L1191.00,951.68 L1190.71,951.69 L1190.42,951.72 L1190.14,951.78 L1189.88,951.85 L1189.62,951.95 L1189.38,952.06 L1189.14,952.20 L1188.93,952.35 L1188.73,952.53 L1188.54,952.72 L1188.37,952.92 L1188.22,953.15 L1188.08,953.39 L1187.97,953.64 L1187.87,953.91 L1187.80,954.19 L1187.74,954.48 L1187.71,954.78 L1187.69,955.09 L1187.70,955.41 L1187.72,955.74 L1187.77,956.07 L1187.84,956.41 L1187.93,956.76 L1188.03,957.11 L1188.16,957.47 L1188.30,957.83 L1188.46,958.20 L1188.63,958.56 L1188.82,958.93 L1189.02,959.31 L1189.23,959.68 L1189.45,960.05 L1189.68,960.43 L1189.92,960.81 L1190.16,961.18 L1190.40,961.56 L1190.65,961.94 L1190.90,962.32 L1191.14,962.70 L1191.38,963.08 L1191.61,963.45 L1191.84,963.83 L1192.05,964.21 L1192.26,964.58 L1192.45,964.95 L1192.63,965.32 L1192.79,965.69 L1192.94,966.06 L1193.07,966.42 L1193.18,966.78 L1193.27,967.14 L1193.35,967.49 L1193.40,967.83 L1193.43,968.17 L1193.44,968.50 L1193.42,968.82 L1193.39,969.13 L1193.33,969.44 L1193.25,969.73 L1193.15,970.01 L1193.03,970.28 L1192.90,970.53 L1192.74,970.77 L1192.56,970.99 L1192.37,971.20 L1192.16,971.38 L1191.93,971.55 L1191.70,971.70 L1191.44,971.83 L1191.18,971.94 L1190.91,972.02 L1190.62,972.09 L1190.33,972.13 L1190.03,972.15 L1189.72,972.14 L1189.41,972.11 L1189.10,972.06 L1188.78,971.98 L1188.46,971.89 L1188.14,971.77 L1187.81,971.62 L1187.49,971.46 L1187.17,971.28 L1186.84,971.08 L1186.52,970.85 L1186.20,970.62 L1185.88,970.36 L1185.56,970.09 L1185.24,969.81 L1184.93,969.52 L1184.61,969.22 L1184.30,968.90 L1183.99,968.59 L1183.68,968.26 L1183.37,967.94 L1183.05,967.61 L1182.74,967.28 L1182.43,966.96 L1182.12,966.64 L1181.81,966.33 L1181.50,966.02 L1181.18,965.72 L1180.87,965.44 L1180.55,965.16 L1180.24,964.90 L1179.92,964.66 L1179.60,964.43 L1179.28,964.21 L1178.96,964.02 L1178.64,963.85 L1178.33,963.69 L1178.01,963.56 L1177.70,963.45 L1177.39,963.36 L1177.08,963.29 L1176.78,963.24 L1176.48,963.22 L1176.19,963.22 L1175.90,963.24 L1175.63,963.28 L1175.36,963.35 L1175.10,963.44 L1174.85,963.54 L1174.62,963.67 L1174.40,963.82 L1174.19,963.99 L1174.00,964.17 L1173.82,964.37 L1173.66,964.59 L1173.52,964.83 L1173.40,965.08 L1173.29,965.35 L1173.20,965.62 L1173.14,965.92 L1173.09,966.22 L1173.07,966.53 L1173.06,966.85 L1173.07,967.19 L1173.11,967.53 L1173.16,967.87 L1173.23,968.23 L1173.32,968.59 L1173.43,968.95 L1173.56,969.33 L1173.70,969.70 L1173.85,970.08 L1174.02,970.46 L1174.20,970.85 L1174.39,971.23 L1174.60,971.62 L1174.80,972.01 L1175.02,972.40 L1175.24,972.79 L1175.46,973.19 L1175.68,973.58 L1175.90,973.97 L1176.12,974.36 L1176.33,974.76 L1176.54,975.15 L1176.74,975.54 L1176.93,975.92 L1177.11,976.31 L1177.27,976.69 L1177.42,977.07 L1177.56,977.45 L1177.68,977.82 L1177.78,978.19 L1177.86,978.56 L1177.92,978.91 L1177.97,979.26 L1177.99,979.61 L1177.99,979.94 L1177.97,980.27 L1177.93,980.59 L1177.87,980.90 L1177.79,981.19 L1177.68,981.47 L1177.56,981.74 L1177.42,982.00 L1177.26,982.24 L1177.08,982.46 L1176.88,982.66 L1176.67,982.85 L1176.45,983.02 L1176.21,983.16 L1175.96,983.29 L1175.69,983.40 L1175.42,983.48 L1175.14,983.54 L1174.85,983.58 L1174.55,983.59 L1174.25,983.58 L1173.94,983.55 L1173.63,983.49 L1173.32,983.41 L1173.01,983.31 L1172.69,983.19 L1172.38,983.04 L1172.06,982.87 L1171.75,982.68 L1171.44,982.47 L1171.13,982.24 L1170.82,981.99 L1170.52,981.73 L1170.22,981.45 L1169.92,981.16 L1169.62,980.86 L1169.32,980.54 L1169.03,980.21 L1168.73,979.88 L1168.44,979.54 L1168.15,979.20 L1167.86,978.86 L1167.57,978.51 L1167.28,978.17 L1166.99,977.82 L1166.70,977.49 L1166.41,977.16 L1166.11,976.84 L1165.82,976.52 L1165.52,976.22 L1165.22,975.93 L1164.92,975.66 L1164.62,975.40 L1164.31,975.16 L1164.01,974.93 L1163.70,974.73 L1163.40,974.54 L1163.09,974.37 L1162.78,974.23 L1162.48,974.11 L1162.17,974.00 L1161.87,973.92 L1161.57,973.87 L1161.28,973.83 L1160.99,973.82 L1160.70,973.84 L1160.43,973.87 L1160.16,973.93 L1159.90,974.01 L1159.65,974.11 L1159.41,974.23 L1159.19,974.37 L1158.98,974.53 L1158.78,974.71 L1158.59,974.91 L1158.43,975.12 L1158.28,975.35 L1158.14,975.60 L1158.03,975.87 L1157.93,976.14 L1157.85,976.43 L1157.80,976.74 L1157.76,977.05 L1157.74,977.38 L1157.74,977.71 L1157.76,978.06 L1157.80,978.41 L1157.85,978.77 L1157.93,979.14 L1158.02,979.51 L1158.13,979.89 L1158.25,980.28 L1158.39,980.67 L1158.54,981.06 L1158.70,981.46 L1158.87,981.85 L1159.05,982.26 L1159.23,982.66 L1159.43,983.06 L1159.62,983.47 L1159.82,983.87 L1160.02,984.28 L1160.21,984.68 L1160.40,985.09 L1160.59,985.49 L1160.77,985.89 L1160.94,986.29 L1161.10,986.69 L1161.25,987.09 L1161.39,987.48 L1161.51,987.87 L1161.62,988.25 L1161.71,988.63 L1161.78,989.00 L1161.83,989.36 L1161.86,989.72 L1161.88,990.07 L1161.87,990.42 L1161.85,990.75 L1161.80,991.07 L1161.73,991.38 L1161.65,991.68 L1161.54,991.96 L1161.41,992.23 L1161.27,992.49 L1161.10,992.73 L1160.92,992.95 L1160.72,993.15 L1160.51,993.34 L1160.28,993.50 L1160.04,993.65 L1159.79,993.78 L1159.53,993.88 L1159.26,993.96 L1158.97,994.02 L1158.69,994.05 L1158.39,994.06 L1158.10,994.05 L1157.79,994.02 L1157.49,993.96 L1157.18,993.87 L1156.88,993.77 L1156.57,993.64 L1156.26,993.48 L1155.96,993.31 L1155.66,993.11 L1155.36,992.90 L1155.06,992.66 L1154.77,992.41 L1154.48,992.14 L1154.19,991.85 L1153.91,991.55 L1153.63,991.23 L1153.35,990.91 L1153.07,990.57 L1152.80,990.23 L1152.53,989.87 L1152.26,989.52 L1151.99,989.15 L1151.72,988.79 L1151.45,988.43 L1151.18,988.07 L1150.91,987.71 L1150.64,987.36 L1150.37,987.02 L1150.10,986.68 L1149.82,986.35 L1149.54,986.04 L1149.26,985.74 L1148.98,985.45 L1148.69,985.18 L1148.40,984.92 L1148.11,984.69 L1147.82,984.47 L1147.52,984.27 L1147.22,984.09 L1146.93,983.94 L1146.63,983.80 L1146.33,983.69 L1146.04,983.60 L1145.74,983.53 L1145.45,983.49 L1145.16,983.47 L1144.88,983.47 L1144.61,983.50 L1144.34,983.55 L1144.08,983.62 L1143.83,983.71 L1143.59,983.82 L1143.36,983.96 L1143.14,984.11 L1142.93,984.29 L1142.74,984.48 L1142.57,984.69 L1142.41,984.92 L1142.27,985.16 L1142.14,985.42 L1142.04,985.70 L1141.95,985.99 L1141.88,986.29 L1141.83,986.61 L1141.79,986.94 L1141.78,987.28 L1141.79,987.63 L1141.81,987.98 L1141.85,988.35 L1141.91,988.73 L1141.98,989.11 L1142.07,989.49 L1142.17,989.89 L1142.29,990.29 L1142.42,990.69 L1142.56,991.10 L1142.71,991.51 L1142.87,991.92 L1143.03,992.33 L1143.20,992.75 L1143.37,993.16 L1143.54,993.58 L1143.71,994.00 L1143.88,994.41 L1144.05,994.83 L1144.21,995.24 L1144.36,995.65 L1144.50,996.06 L1144.63,996.47 L1144.75,996.87 L1144.86,997.27 L1144.95,997.66 L1145.03,998.05 L1145.09,998.43 L1145.13,998.80 L1145.16,999.17 L1145.16,999.52 L1145.15,999.87 L1145.11,1000.21 L1145.06,1000.53 L1144.99,1000.85 L1144.89,1001.15 L1144.78,1001.43 L1144.65,1001.71 L1144.50,1001.96 L1144.33,1002.20 L1144.15,1002.43 L1143.95,1002.63 L1143.73,1002.81 L1143.51,1002.98 L1143.26,1003.12 L1143.01,1003.25 L1142.75,1003.35 L1142.48,1003.43 L1142.20,1003.48 L1141.91,1003.52 L1141.62,1003.52 L1141.33,1003.51 L1141.03,1003.47 L1140.73,1003.41 L1140.43,1003.32 L1140.13,1003.21 L1139.83,1003.08 L1139.53,1002.92 L1139.24,1002.74 L1138.95,1002.54 L1138.66,1002.32 L1138.37,1002.08 L1138.09,1001.82 L1137.82,1001.54 L1137.55,1001.25 L1137.28,1000.94 L1137.01,1000.62 L1136.75,1000.28 L1136.50,999.93 L1136.25,999.58 L1135.99,999.21 L1135.75,998.84 L1135.50,998.47 L1135.25,998.09 L1135.01,997.71 L1134.76,997.33 L1134.52,996.96 L1134.27,996.59 L1134.02,996.22 L1133.77,995.86 L1133.51,995.51 L1133.26,995.17 L1133.00,994.85 L1132.73,994.53 L1132.47,994.23 L1132.20,993.95 L1131.92,993.69 L1131.64,993.44 L1131.36,993.21 L1131.08,993.00 L1130.79,992.81 L1130.51,992.65 L1130.22,992.50 L1129.93,992.38 L1129.64,992.28 L1129.35,992.20 L1129.06,992.15 L1128.78,992.12 L1128.50,992.12 L1128.22,992.13 L1127.96,992.17 L1127.69,992.23 L1127.44,992.32 L1127.20,992.42 L1126.96,992.55 L1126.74,992.70 L1126.53,992.87 L1126.33,993.05 L1126.15,993.26 L1125.98,993.49 L1125.83,993.73 L1125.70,993.99 L1125.58,994.26 L1125.48,994.55 L1125.40,994.85 L1125.33,995.17 L1125.29,995.50 L1125.26,995.84 L1125.25,996.19 L1125.25,996.56 L1125.28,996.93 L1125.32,997.31 L1125.37,997.70 L1125.45,998.09 L1125.53,998.49 L1125.63,998.90 L1125.73,999.31 L1125.85,999.73 L1125.98,1000.15 L1126.11,1000.57 L1126.25,1000.99 L1126.40,1001.42 L1126.54,1001.84 L1126.69,1002.27 L1126.83,1002.70 L1126.97,1003.12 L1127.11,1003.55 L1127.24,1003.97 L1127.37,1004.39 L1127.48,1004.80 L1127.58,1005.22 L1127.67,1005.62 L1127.75,1006.02 L1127.81,1006.42 L1127.86,1006.81 L1127.89,1007.19 L1127.91,1007.56 L1127.90,1007.92 L1127.88,1008.27 L1127.84,1008.62 L1127.77,1008.95 L1127.69,1009.26 L1127.59,1009.57 L1127.48,1009.86 L1127.34,1010.13 L1127.19,1010.39 L1127.01,1010.63 L1126.83,1010.85 L1126.62,1011.06 L1126.41,1011.24 L1126.18,1011.40 L1125.93,1011.55 L1125.68,1011.67 L1125.42,1011.77 L1125.15,1011.85 L1124.87,1011.90 L1124.58,1011.93 L1124.30,1011.94 L1124.00,1011.92 L1123.71,1011.88 L1123.41,1011.81 L1123.12,1011.72 L1122.83,1011.61 L1122.53,1011.47 L1122.24,1011.31 L1121.96,1011.13 L1121.68,1010.92 L1121.40,1010.70 L1121.13,1010.45 L1120.86,1010.19 L1120.60,1009.91 L1120.34,1009.61 L1120.09,1009.29 L1119.85,1008.96 L1119.60,1008.62 L1119.37,1008.26 L1119.13,1007.90 L1118.90,1007.52 L1118.68,1007.14 L1118.45,1006.75 L1118.23,1006.36 L1118.01,1005.97 L1117.79,1005.58 L1117.56,1005.19 L1117.34,1004.80 L1117.12,1004.41 L1116.89,1004.04 L1116.66,1003.67 L1116.43,1003.31 L1116.19,1002.96 L1115.95,1002.62 L1115.70,1002.29 L1115.45,1001.98 L1115.20,1001.69 L1114.94,1001.41 L1114.68,1001.16 L1114.41,1000.92 L1114.14,1000.70 L1113.86,1000.50 L1113.58,1000.33 L1113.30,1000.17 L1113.02,1000.04 L1112.74,999.93 L1112.46,999.85 L1112.17,999.78 L1111.89,999.74 L1111.61,999.73 L1111.34,999.74 L1111.07,999.77 L1110.81,999.82 L1110.55,999.90 L1110.31,1000.00 L1110.07,1000.12 L1109.84,1000.26 L1109.63,1000.42 L1109.42,1000.60 L1109.23,1000.80 L1109.06,1001.02 L1108.90,1001.26 L1108.75,1001.52 L1108.62,1001.79 L1108.51,1002.08 L1108.42,1002.38 L1108.34,1002.70 L1108.28,1003.03 L1108.24,1003.38 L1108.21,1003.73 L1108.20,1004.10 L1108.21,1004.47 L1108.23,1004.86 L1108.27,1005.25 L1108.32,1005.65 L1108.38,1006.06 L1108.46,1006.47 L1108.54,1006.89 L1108.64,1007.32 L1108.74,1007.74 L1108.85,1008.17 L1108.96,1008.61 L1109.08,1009.04 L1109.20,1009.48 L1109.32,1009.91 L1109.44,1010.34 L1109.55,1010.78 L1109.66,1011.21 L1109.76,1011.64 L1109.86,1012.06 L1109.94,1012.48 L1110.02,1012.90 L1110.08,1013.31 L1110.13,1013.71 L1110.16,1014.10 L1110.18,1014.49 L1110.18,1014.87 L1110.16,1015.24 L1110.13,1015.60 L1110.08,1015.94 L1110.01,1016.28 L1109.92,1016.60 L1109.81,1016.90 L1109.69,1017.20 L1109.55,1017.47 L1109.39,1017.73 L1109.21,1017.97 L1109.02,1018.20 L1108.82,1018.40 L1108.60,1018.58 L1108.36,1018.75 L1108.12,1018.89 L1107.87,1019.01 L1107.60,1019.11 L1107.33,1019.18 L1107.05,1019.23 L1106.77,1019.26 L1106.48,1019.27 L1106.19,1019.25 L1105.90,1019.20 L1105.61,1019.13 L1105.32,1019.04 L1105.03,1018.93 L1104.75,1018.79 L1104.47,1018.62 L1104.19,1018.44 L1103.92,1018.23 L1103.65,1018.00 L1103.39,1017.75 L1103.14,1017.48 L1102.89,1017.20 L1102.65,1016.89 L1102.41,1016.57 L1102.18,1016.24 L1101.96,1015.89 L1101.74,1015.53 L1101.53,1015.15 L1101.32,1014.77 L1101.12,1014.38 L1100.91,1013.98 L1100.71,1013.58 L1100.52,1013.18 L1100.32,1012.77 L1100.12,1012.37 L1099.92,1011.96 L1099.72,1011.56 L1099.52,1011.17 L1099.32,1010.78 L1099.11,1010.40 L1098.90,1010.03 L1098.68,1009.67 L1098.46,1009.32 L1098.23,1008.99 L1098.00,1008.67 L1097.76,1008.37 L1097.52,1008.08 L1097.27,1007.81 L1097.02,1007.57 L1096.76,1007.34 L1096.49,1007.13 L1096.23,1006.95 L1095.95,1006.78 L1095.68,1006.64 L1095.40,1006.52 L1095.13,1006.43 L1094.85,1006.36 L1094.57,1006.31 L1094.29,1006.29 L1094.02,1006.28 L1093.75,1006.31 L1093.49,1006.35 L1093.23,1006.42 L1092.98,1006.51 L1092.74,1006.63 L1092.51,1006.76 L1092.29,1006.92 L1092.08,1007.09 L1091.88,1007.29 L1091.70,1007.51 L1091.53,1007.74 L1091.37,1007.99 L1091.23,1008.26 L1091.11,1008.55 L1091.00,1008.85 L1090.91,1009.17 L1090.83,1009.50 L1090.78,1009.85 L1090.73,1010.20 L1090.71,1010.57 L1090.70,1010.95 L1090.70,1011.34 L1090.72,1011.74 L1090.75,1012.14 L1090.79,1012.56 L1090.84,1012.98 L1090.91,1013.40 L1090.98,1013.83 L1091.06,1014.27 L1091.14,1014.70 L1091.23,1015.14 L1091.32,1015.59 L1091.42,1016.03 L1091.51,1016.47 L1091.60,1016.91 L1091.68,1017.35 L1091.76,1017.78 L1091.84,1018.21 L1091.90,1018.64 L1091.96,1019.07 L1092.00,1019.48 L1092.03,1019.89 L1092.05,1020.29 L1092.05,1020.69 L1092.04,1021.07 L1092.01,1021.45 L1091.97,1021.81 L1091.91,1022.16 L1091.83,1022.50 L1091.73,1022.82 L1091.62,1023.13 L1091.49,1023.43 L1091.34,1023.70 L1091.18,1023.96 L1091.00,1024.21 L1090.80,1024.43 L1090.59,1024.63 L1090.37,1024.82 L1090.13,1024.98 L1089.89,1025.12 L1089.63,1025.24 L1089.37,1025.34 L1089.10,1025.41 L1088.82,1025.46 L1088.54,1025.49 L1088.25,1025.49 L1087.97,1025.47 L1087.68,1025.42 L1087.39,1025.35 L1087.11,1025.25 L1086.82,1025.14 L1086.54,1024.99 L1086.27,1024.83 L1086.00,1024.64 L1085.74,1024.43 L1085.48,1024.20 L1085.23,1023.95 L1084.99,1023.68 L1084.75,1023.39 L1084.53,1023.08 L1084.31,1022.76 L1084.10,1022.42 L1083.89,1022.06 L1083.69,1021.69 L1083.50,1021.32 L1083.31,1020.93 L1083.13,1020.53 L1082.95,1020.13 L1082.77,1019.72 L1082.60,1019.30 L1082.43,1018.89 L1082.25,1018.47 L1082.08,1018.05 L1081.91,1017.64 L1081.73,1017.23 L1081.56,1016.82 L1081.37,1016.42 L1081.19,1016.03 L1081.00,1015.66 L1080.80,1015.29 L1080.60,1014.93 L1080.39,1014.59 L1080.18,1014.26 L1079.96,1013.95 L1079.73,1013.66 L1079.49,1013.38 L1079.25,1013.13 L1079.01,1012.89 L1078.75,1012.68 L1078.50,1012.48 L1078.23,1012.31 L1077.97,1012.16 L1077.70,1012.03 L1077.42,1011.93 L1077.15,1011.85 L1076.88,1011.79 L1076.60,1011.76 L1076.33,1011.75 L1076.06,1011.77 L1075.80,1011.80 L1075.54,1011.86 L1075.29,1011.95 L1075.04,1012.05 L1074.81,1012.18 L1074.58,1012.33 L1074.36,1012.50 L1074.16,1012.69 L1073.97,1012.90 L1073.79,1013.14 L1073.62,1013.38 L1073.47,1013.65 L1073.33,1013.94 L1073.21,1014.24 L1073.11,1014.55 L1073.02,1014.88 L1072.94,1015.23 L1072.89,1015.59 L1072.84,1015.96 L1072.81,1016.34 L1072.80,1016.73 L1072.79,1017.13 L1072.80,1017.54 L1072.82,1017.96 L1072.86,1018.39 L1072.90,1018.82 L1072.94,1019.25 L1073.00,1019.69 L1073.06,1020.14 L1073.12,1020.58 L1073.19,1021.03 L1073.25,1021.47 L1073.31,1021.92 L1073.38,1022.36 L1073.43,1022.80 L1073.48,1023.24 L1073.53,1023.68 L1073.56,1024.11 L1073.59,1024.53 L1073.60,1024.95 L1073.60,1025.35 L1073.59,1025.75 L1073.57,1026.14 L1073.53,1026.52 L1073.47,1026.89 L1073.40,1027.24 L1073.31,1027.59 L1073.20,1027.91 L1073.08,1028.23 L1072.94,1028.52 L1072.79,1028.80 L1072.62,1029.06 L1072.43,1029.31 L1072.23,1029.53 L1072.02,1029.73 L1071.79,1029.92 L1071.56,1030.08 L1071.31,1030.22 L1071.05,1030.34 L1070.79,1030.43 L1070.51,1030.50 L1070.24,1030.55 L1069.96,1030.58 L1069.67,1030.58 L1069.39,1030.55 L1069.10,1030.50 L1068.82,1030.43 L1068.54,1030.33 L1068.26,1030.21 L1067.99,1030.07 L1067.72,1029.90 L1067.46,1029.71 L1067.20,1029.50 L1066.96,1029.27 L1066.72,1029.02 L1066.49,1028.74 L1066.27,1028.45 L1066.05,1028.14 L1065.85,1027.81 L1065.65,1027.47 L1065.46,1027.11 L1065.28,1026.74 L1065.11,1026.36 L1064.94,1025.97 L1064.78,1025.56 L1064.62,1025.15 L1064.47,1024.74 L1064.32,1024.32 L1064.17,1023.89 L1064.03,1023.46 L1063.88,1023.04 L1063.73,1022.61 L1063.59,1022.19 L1063.44,1021.77 L1063.28,1021.36 L1063.12,1020.95 L1062.96,1020.55 L1062.79,1020.17 L1062.62,1019.79 L1062.43,1019.43 L1062.25,1019.08 L1062.05,1018.75 L1061.84,1018.43 L1061.63,1018.13 L1061.41,1017.84 L1061.19,1017.58 L1060.95,1017.34 L1060.71,1017.11 L1060.46,1016.91 L1060.21,1016.73 L1059.95,1016.57 L1059.69,1016.44 L1059.42,1016.33 L1059.15,1016.24 L1058.88,1016.17 L1058.61,1016.13 L1058.34,1016.12 L1058.07,1016.12 L1057.81,1016.15 L1057.55,1016.20 L1057.29,1016.28 L1057.04,1016.38 L1056.80,1016.50 L1056.57,1016.64 L1056.35,1016.81 L1056.13,1016.99 L1055.93,1017.20 L1055.74,1017.43 L1055.57,1017.67 L1055.41,1017.94 L1055.26,1018.22 L1055.12,1018.52 L1055.00,1018.83 L1054.90,1019.16 L1054.81,1019.51 L1054.73,1019.86 L1054.67,1020.24 L1054.62,1020.62 L1054.59,1021.01 L1054.57,1021.42 L1054.55,1021.83 L1054.55,1022.25 L1054.56,1022.68 L1054.58,1023.11 L1054.60,1023.55 L1054.63,1024.00 L1054.66,1024.44 L1054.70,1024.89 L1054.74,1025.34 L1054.77,1025.79 L1054.81,1026.24 L1054.84,1026.69 L1054.87,1027.13 L1054.89,1027.57 L1054.91,1028.00 L1054.91,1028.43 L1054.91,1028.85 L1054.89,1029.27 L1054.86,1029.67 L1054.82,1030.06 L1054.77,1030.45 L1054.70,1030.82 L1054.61,1031.18 L1054.51,1031.52 L1054.40,1031.85 L1054.27,1032.17 L1054.12,1032.46 L1053.96,1032.75 L1053.78,1033.01 L1053.59,1033.25 L1053.39,1033.48 L1053.17,1033.68 L1052.94,1033.86 L1052.70,1034.02 L1052.45,1034.16 L1052.19,1034.28 L1051.93,1034.37 L1051.65,1034.44 L1051.38,1034.49 L1051.10,1034.51 L1050.81,1034.51 L1050.53,1034.49 L1050.25,1034.44 L1049.97,1034.36 L1049.69,1034.26 L1049.42,1034.14 L1049.15,1034.00 L1048.89,1033.83 L1048.63,1033.64 L1048.39,1033.42 L1048.15,1033.19 L1047.92,1032.93 L1047.70,1032.66 L1047.49,1032.37 L1047.29,1032.05 L1047.10,1031.73 L1046.92,1031.38 L1046.75,1031.02 L1046.58,1030.65 L1046.43,1030.26 L1046.28,1029.87 L1046.14,1029.46 L1046.01,1029.05 L1045.88,1028.63 L1045.75,1028.20 L1045.63,1027.77 L1045.51,1027.33 L1045.39,1026.90 L1045.27,1026.46 L1045.15,1026.03 L1045.03,1025.60 L1044.90,1025.18 L1044.77,1024.76 L1044.64,1024.34 L1044.50,1023.94 L1044.35,1023.55 L1044.20,1023.17 L1044.03,1022.80 L1043.86,1022.44 L1043.68,1022.10 L1043.50,1021.78 L1043.30,1021.47 L1043.10,1021.18 L1042.88,1020.91 L1042.66,1020.66 L1042.43,1020.43 L1042.19,1020.22 L1041.95,1020.03 L1041.70,1019.87 L1041.44,1019.73 L1041.18,1019.61 L1040.92,1019.51 L1040.65,1019.44 L1040.38,1019.39 L1040.12,1019.36 L1039.85,1019.36 L1039.58,1019.38 L1039.32,1019.43 L1039.06,1019.49 L1038.81,1019.58 L1038.56,1019.70 L1038.33,1019.84 L1038.10,1019.99 L1037.88,1020.17 L1037.67,1020.37 L1037.47,1020.60 L1037.28,1020.84 L1037.11,1021.10 L1036.95,1021.38 L1036.80,1021.67 L1036.67,1021.98 L1036.55,1022.31 L1036.44,1022.66 L1036.35,1023.02 L1036.27,1023.39 L1036.20,1023.77 L1036.15,1024.17 L1036.10,1024.57 L1036.07,1024.99 L1036.04,1025.41 L1036.03,1025.84 L1036.02,1026.28 L1036.02,1026.72 L1036.02,1027.16 L1036.03,1027.61 L1036.04,1028.06 L1036.05,1028.51 L1036.06,1028.96 L1036.06,1029.41 L1036.07,1029.86 L1036.07,1030.30 L1036.06,1030.74 L1036.04,1031.17 L1036.02,1031.60 L1035.98,1032.02 L1035.94,1032.42 L1035.88,1032.82 L1035.81,1033.21 L1035.73,1033.58 L1035.63,1033.94 L1035.52,1034.29 L1035.40,1034.62 L1035.26,1034.94 L1035.10,1035.24 L1034.93,1035.52 L1034.75,1035.79 L1034.55,1036.03 L1034.34,1036.26 L1034.12,1036.46 L1033.89,1036.64 L1033.64,1036.80 L1033.39,1036.94 L1033.13,1037.06 L1032.86,1037.15 L1032.59,1037.22 L1032.31,1037.26 L1032.03,1037.28 L1031.75,1037.28 L1031.47,1037.25 L1031.18,1037.20 L1030.91,1037.13 L1030.63,1037.03 L1030.36,1036.90 L1030.10,1036.76 L1029.84,1036.59 L1029.60,1036.39 L1029.36,1036.18 L1029.13,1035.94 L1028.91,1035.69 L1028.70,1035.41 L1028.50,1035.12 L1028.31,1034.81 L1028.14,1034.48 L1027.97,1034.13 L1027.82,1033.77 L1027.67,1033.40 L1027.53,1033.01 L1027.41,1032.61 L1027.29,1032.21 L1027.17,1031.79 L1027.07,1031.37 L1026.96,1030.93 L1026.87,1030.50 L1026.77,1030.06 L1026.68,1029.62 L1026.59,1029.18 L1026.50,1028.74 L1026.40,1028.30 L1026.30,1027.86 L1026.20,1027.43 L1026.10,1027.01 L1025.99,1026.59 L1025.87,1026.18 L1025.74,1025.79 L1025.61,1025.40 L1025.47,1025.03 L1025.32,1024.67 L1025.16,1024.32 L1024.98,1023.99 L1024.80,1023.68 L1024.61,1023.38 L1024.41,1023.11 L1024.20,1022.85 L1023.99,1022.61 L1023.76,1022.40 L1023.52,1022.20 L1023.28,1022.03 L1023.03,1021.88 L1022.78,1021.75 L1022.52,1021.65 L1022.26,1021.57 L1021.99,1021.51 L1021.73,1021.48 L1021.46,1021.47 L1021.19,1021.48 L1020.93,1021.52 L1020.67,1021.58 L1020.41,1021.66 L1020.16,1021.77 L1019.92,1021.90 L1019.68,1022.05 L1019.46,1022.22 L1019.24,1022.42 L1019.03,1022.63 L1018.83,1022.87 L1018.65,1023.12 L1018.47,1023.40 L1018.31,1023.69 L1018.17,1024.00 L1018.03,1024.33 L1017.91,1024.67 L1017.80,1025.03 L1017.70,1025.40 L1017.61,1025.78 L1017.54,1026.18 L1017.47,1026.58 L1017.41,1027.00 L1017.37,1027.42 L1017.33,1027.85 L1017.30,1028.29 L1017.27,1028.73 L1017.25,1029.18 L1017.23,1029.63 L1017.21,1030.08 L1017.19,1030.53 L1017.17,1030.98 L1017.15,1031.43 L1017.12,1031.87 L1017.09,1032.31 L1017.06,1032.75 L1017.01,1033.17 L1016.96,1033.59 L1016.89,1034.00 L1016.82,1034.41 L1016.73,1034.80 L1016.64,1035.17 L1016.53,1035.54 L1016.40,1035.89 L1016.27,1036.22 L1016.11,1036.54 L1015.95,1036.84 L1015.77,1037.12 L1015.58,1037.39 L1015.38,1037.63 L1015.16,1037.86 L1014.93,1038.06 L1014.70,1038.24 L1014.45,1038.40 L1014.19,1038.54 L1013.93,1038.66 L1013.66,1038.75 L1013.39,1038.81 L1013.11,1038.86 L1012.83,1038.88 L1012.55,1038.87 L1012.26,1038.84 L1011.99,1038.79 L1011.71,1038.71 L1011.44,1038.61 L1011.17,1038.49 L1010.92,1038.34 L1010.67,1038.17 L1010.42,1037.97 L1010.19,1037.76 L1009.97,1037.52 L1009.76,1037.27 L1009.56,1036.99 L1009.37,1036.70 L1009.20,1036.39 L1009.03,1036.06 L1008.88,1035.71 L1008.74,1035.35 L1008.61,1034.98 L1008.49,1034.59 L1008.38,1034.19 L1008.28,1033.79 L1008.19,1033.37 L1008.11,1032.94 L1008.03,1032.51 L1007.96,1032.07 L1007.89,1031.63 L1007.82,1031.18 L1007.75,1030.74 L1007.69,1030.29 L1007.62,1029.85 L1007.56,1029.40 L1007.49,1028.97 L1007.41,1028.53 L1007.33,1028.10 L1007.24,1027.68 L1007.14,1027.27 L1007.04,1026.87 L1006.93,1026.48 L1006.81,1026.11 L1006.67,1025.74 L1006.53,1025.39 L1006.38,1025.06 L1006.21,1024.74 L1006.04,1024.44 L1005.85,1024.16 L1005.65,1023.90 L1005.45,1023.66 L1005.23,1023.43 L1005.00,1023.23 L1004.77,1023.05 L1004.53,1022.90 L1004.28,1022.76 L1004.03,1022.65 L1003.77,1022.56 L1003.50,1022.49 L1003.24,1022.45 L1002.97,1022.43 L1002.71,1022.44 L1002.44,1022.47 L1002.18,1022.52 L1001.92,1022.60 L1001.67,1022.70 L1001.42,1022.82 L1001.17,1022.96 L1000.94,1023.13 L1000.71,1023.32 L1000.50,1023.53 L1000.29,1023.76 L1000.09,1024.01 L999.91,1024.28 L999.73,1024.57 L999.57,1024.88 L999.42,1025.20 L999.28,1025.54 L999.15,1025.89 L999.03,1026.26 L998.93,1026.64 L998.83,1027.04 L998.74,1027.44 L998.66,1027.86 L998.59,1028.28 L998.53,1028.71 L998.47,1029.15 L998.42,1029.59 L998.37,1030.03 L998.33,1030.48 L998.28,1030.93 L998.23,1031.38 L998.19,1031.83 L998.14,1032.27 L998.08,1032.71 L998.02,1033.15 L997.95,1033.58 L997.88,1034.00 L997.80,1034.41 L997.71,1034.81 L997.60,1035.20 L997.49,1035.58 L997.37,1035.95 L997.23,1036.30 L997.08,1036.64 L996.92,1036.96 L996.74,1037.26 L996.56,1037.54 L996.36,1037.81 L996.15,1038.05 L995.92,1038.28 L995.69,1038.48 L995.45,1038.66 L995.20,1038.82 L994.94,1038.96 L994.67,1039.07 L994.40,1039.16 L994.12,1039.23 L993.84,1039.27 L993.56,1039.28 L993.28,1039.28 L993.00,1039.25 L992.72,1039.19 L992.45,1039.11 L992.18,1039.01 L991.92,1038.89 L991.67,1038.74 L991.42,1038.56 L991.18,1038.37 L990.96,1038.16 L990.75,1037.92 L990.54,1037.67 L990.35,1037.39 L990.18,1037.10 L990.01,1036.79 L989.86,1036.46 L989.72,1036.11 L989.59,1035.75 L989.48,1035.38 L989.38,1035.00 L989.29,1034.60 L989.21,1034.19 L989.14,1033.77 L989.07,1033.35 L989.02,1032.92 L988.97,1032.48 L988.92,1032.03 L988.88,1031.59 L988.84,1031.14 L988.81,1030.69 L988.77,1030.24 L988.73,1029.79 L988.69,1029.35 L988.64,1028.91 L988.59,1028.47 L988.53,1028.04 L988.47,1027.62 L988.40,1027.21 L988.32,1026.81 L988.22,1026.41 L988.12,1026.03 L988.01,1025.67 L987.88,1025.32 L987.74,1024.98 L987.59,1024.66 L987.43,1024.35 L987.26,1024.07 L987.08,1023.80 L986.88,1023.55 L986.67,1023.32 L986.46,1023.12 L986.23,1022.93 L986.00,1022.77 L985.76,1022.62 L985.51,1022.50 L985.25,1022.41 L984.99,1022.33 L984.73,1022.28 L984.47,1022.26 L984.20,1022.26 L983.93,1022.28 L983.67,1022.32 L983.41,1022.39 L983.15,1022.48 L982.89,1022.60 L982.64,1022.73 L982.40,1022.89 L982.17,1023.08 L981.94,1023.28 L981.72,1023.51 L981.51,1023.75 L981.31,1024.02 L981.13,1024.30 L980.95,1024.60 L980.78,1024.92 L980.62,1025.26 L980.48,1025.61 L980.34,1025.97 L980.22,1026.35 L980.10,1026.74 L979.99,1027.15 L979.89,1027.56 L979.80,1027.98 L979.71,1028.41 L979.63,1028.84 L979.55,1029.28 L979.47,1029.72 L979.40,1030.17 L979.32,1030.61 L979.25,1031.06 L979.17,1031.50 L979.10,1031.94 L979.01,1032.37 L978.92,1032.80 L978.83,1033.22 L978.73,1033.64 L978.62,1034.04 L978.50,1034.43 L978.37,1034.81 L978.23,1035.18 L978.08,1035.53 L977.91,1035.87 L977.74,1036.19 L977.55,1036.49 L977.36,1036.78 L977.15,1037.04 L976.93,1037.29 L976.70,1037.51 L976.46,1037.71 L976.21,1037.89 L975.96,1038.05 L975.69,1038.19 L975.42,1038.30 L975.15,1038.39 L974.87,1038.45 L974.59,1038.49 L974.31,1038.51 L974.03,1038.50 L973.75,1038.47 L973.47,1038.41 L973.20,1038.33 L972.94,1038.23 L972.68,1038.10 L972.43,1037.95 L972.19,1037.78 L971.95,1037.58 L971.74,1037.37 L971.53,1037.13 L971.33,1036.88 L971.15,1036.60 L970.98,1036.31 L970.83,1036.00 L970.69,1035.67 L970.56,1035.33 L970.45,1034.98 L970.35,1034.60 L970.27,1034.22 L970.19,1033.83 L970.13,1033.42 L970.08,1033.01 L970.03,1032.58 L970.00,1032.15 L969.97,1031.71 L969.95,1031.27 L969.94,1030.83 L969.93,1030.38 L969.92,1029.93 L969.91,1029.47 L969.90,1029.02 L969.88,1028.58 L969.87,1028.13 L969.85,1027.69 L969.82,1027.25 L969.79,1026.82 L969.75,1026.40 L969.70,1025.99 L969.64,1025.58 L969.56,1025.19 L969.48,1024.81 L969.39,1024.44 L969.28,1024.09 L969.16,1023.75 L969.02,1023.43 L968.88,1023.12 L968.72,1022.83 L968.55,1022.56 L968.36,1022.30 L968.17,1022.07 L967.96,1021.86 L967.74,1021.66 L967.51,1021.49 L967.28,1021.35 L967.03,1021.22 L966.78,1021.11 L966.53,1021.03 L966.27,1020.98 L966.00,1020.94 L965.74,1020.93 L965.47,1020.94 L965.20,1020.98 L964.94,1021.04 L964.67,1021.12 L964.41,1021.23 L964.16,1021.36 L963.91,1021.52 L963.67,1021.69 L963.43,1021.89 L963.20,1022.11 L962.98,1022.35 L962.77,1022.60 L962.57,1022.88 L962.38,1023.18 L962.19,1023.50 L962.02,1023.83 L961.85,1024.17 L961.70,1024.54 L961.55,1024.91 L961.41,1025.30 L961.28,1025.70 L961.16,1026.11 L961.04,1026.52 L960.93,1026.95 L960.82,1027.38 L960.72,1027.81 L960.62,1028.25 L960.52,1028.69 L960.42,1029.13 L960.31,1029.57 L960.21,1030.00 L960.10,1030.44 L959.99,1030.86 L959.87,1031.28 L959.75,1031.69 L959.62,1032.10 L959.48,1032.49 L959.34,1032.87 L959.18,1033.23 L959.01,1033.59 L958.84,1033.92 L958.65,1034.24 L958.45,1034.55 L958.25,1034.83 L958.03,1035.09 L957.80,1035.34 L957.57,1035.56 L957.32,1035.77 L957.07,1035.94 L956.80,1036.10 L956.54,1036.24 L956.26,1036.35 L955.99,1036.43 L955.71,1036.50 L955.42,1036.53 L955.14,1036.55 L954.86,1036.54 L954.58,1036.50 L954.31,1036.45 L954.04,1036.36 L953.77,1036.26 L953.52,1036.13 L953.27,1035.98 L953.03,1035.81 L952.81,1035.61 L952.59,1035.40 L952.39,1035.16 L952.20,1034.91 L952.03,1034.64 L951.87,1034.34 L951.73,1034.04 L951.60,1033.71 L951.48,1033.37 L951.38,1033.02 L951.30,1032.65 L951.23,1032.27 L951.17,1031.88 L951.12,1031.48 L951.09,1031.06 L951.07,1030.64 L951.05,1030.21 L951.05,1029.78 L951.05,1029.34 L951.06,1028.90 L951.07,1028.45 L951.09,1028.00 L951.11,1027.55 L951.13,1027.10 L951.14,1026.65 L951.16,1026.20 L951.17,1025.76 L951.17,1025.32 L951.17,1024.88 L951.16,1024.45 L951.14,1024.03 L951.11,1023.62 L951.08,1023.22 L951.02,1022.82 L950.96,1022.44 L950.88,1022.07 L950.79,1021.72 L950.69,1021.38 L950.57,1021.05 L950.44,1020.74 L950.29,1020.45 L950.13,1020.17 L949.96,1019.92 L949.77,1019.68 L949.57,1019.46 L949.37,1019.26 L949.15,1019.08 L948.92,1018.93 L948.68,1018.80 L948.43,1018.68 L948.18,1018.60 L947.92,1018.53 L947.66,1018.49 L947.39,1018.47 L947.12,1018.47 L946.85,1018.50 L946.59,1018.55 L946.32,1018.63 L946.05,1018.73 L945.79,1018.85 L945.54,1019.00 L945.28,1019.17 L945.04,1019.36 L944.80,1019.57 L944.57,1019.80 L944.34,1020.05 L944.13,1020.33 L943.92,1020.62 L943.72,1020.93 L943.53,1021.25 L943.35,1021.59 L943.17,1021.95 L943.01,1022.32 L942.85,1022.70 L942.69,1023.10 L942.55,1023.50 L942.41,1023.91 L942.27,1024.33 L942.14,1024.75 L942.01,1025.18 L941.88,1025.61 L941.75,1026.05 L941.62,1026.48 L941.49,1026.91 L941.36,1027.34 L941.23,1027.76 L941.09,1028.18 L940.95,1028.59 L940.79,1028.99 L940.64,1029.38 L940.47,1029.76 L940.30,1030.12 L940.12,1030.47 L939.93,1030.81 L939.73,1031.13 L939.52,1031.43 L939.30,1031.71 L939.07,1031.98 L938.84,1032.22 L938.59,1032.44 L938.34,1032.64 L938.08,1032.82 L937.81,1032.98 L937.54,1033.11 L937.26,1033.22 L936.98,1033.30 L936.70,1033.36 L936.42,1033.40 L936.13,1033.41 L935.85,1033.40 L935.57,1033.37 L935.30,1033.31 L935.03,1033.22 L934.77,1033.12 L934.51,1032.99 L934.27,1032.84 L934.03,1032.66 L933.81,1032.47 L933.60,1032.25 L933.41,1032.02 L933.23,1031.77 L933.06,1031.49 L932.91,1031.20 L932.77,1030.90 L932.65,1030.58 L932.55,1030.24 L932.46,1029.89 L932.39,1029.52 L932.33,1029.15 L932.29,1028.76 L932.26,1028.36 L932.25,1027.95 L932.24,1027.54 L932.25,1027.11 L932.27,1026.68 L932.29,1026.25 L932.32,1025.81 L932.36,1025.36 L932.40,1024.92 L932.45,1024.47 L932.49,1024.02 L932.54,1023.57 L932.58,1023.12 L932.62,1022.68 L932.66,1022.24 L932.69,1021.80 L932.71,1021.37 L932.73,1020.94 L932.73,1020.52 L932.72,1020.11 L932.70,1019.71 L932.67,1019.32 L932.62,1018.94 L932.57,1018.57 L932.49,1018.22 L932.40,1017.87 L932.30,1017.55 L932.18,1017.23 L932.05,1016.94 L931.90,1016.66 L931.74,1016.40 L931.56,1016.16 L931.38,1015.93 L931.17,1015.73 L930.96,1015.55 L930.74,1015.38 L930.51,1015.24 L930.26,1015.13 L930.01,1015.03 L929.76,1014.96 L929.50,1014.91 L929.23,1014.88 L928.96,1014.88 L928.69,1014.90 L928.42,1014.94 L928.15,1015.01 L927.88,1015.10 L927.61,1015.21 L927.35,1015.35 L927.09,1015.51 L926.83,1015.69 L926.58,1015.90 L926.34,1016.12 L926.10,1016.37 L925.87,1016.63 L925.65,1016.92 L925.43,1017.22 L925.23,1017.54 L925.03,1017.88 L924.83,1018.23 L924.65,1018.59 L924.47,1018.97 L924.29,1019.35 L924.12,1019.75 L923.96,1020.15 L923.80,1020.57 L923.64,1020.98 L923.48,1021.41 L923.33,1021.83 L923.18,1022.25 L923.02,1022.68 L922.87,1023.10 L922.71,1023.51 L922.55,1023.93 L922.38,1024.33 L922.21,1024.73 L922.03,1025.11 L921.85,1025.49 L921.66,1025.85 L921.46,1026.20 L921.25,1026.53 L921.04,1026.85 L920.82,1027.15 L920.59,1027.43 L920.35,1027.70 L920.10,1027.94 L919.85,1028.16 L919.59,1028.36 L919.32,1028.54 L919.05,1028.69 L918.77,1028.82 L918.49,1028.93 L918.21,1029.01 L917.92,1029.07 L917.64,1029.10 L917.35,1029.12 L917.07,1029.10 L916.79,1029.06 L916.51,1029.00 L916.25,1028.92 L915.99,1028.81 L915.73,1028.68 L915.49,1028.53 L915.26,1028.35 L915.04,1028.16 L914.84,1027.95 L914.65,1027.71 L914.47,1027.46 L914.31,1027.19 L914.17,1026.90 L914.04,1026.60 L913.93,1026.28 L913.84,1025.94 L913.76,1025.60 L913.70,1025.24 L913.66,1024.86 L913.63,1024.48 L913.62,1024.09 L913.62,1023.68 L913.63,1023.27 L913.66,1022.86 L913.69,1022.43 L913.74,1022.00 L913.80,1021.57 L913.86,1021.13 L913.92,1020.69 L913.99,1020.24 L914.07,1019.80 L914.14,1019.35 L914.21,1018.91 L914.28,1018.46 L914.35,1018.02 L914.41,1017.59 L914.47,1017.15 L914.51,1016.73 L914.55,1016.30 L914.57,1015.89 L914.59,1015.48 L914.59,1015.08 L914.57,1014.69 L914.55,1014.31 L914.51,1013.95 L914.45,1013.59 L914.38,1013.25 L914.29,1012.92 L914.18,1012.61 L914.06,1012.31 L913.93,1012.03 L913.78,1011.77 L913.61,1011.52 L913.43,1011.29 L913.24,1011.08 L913.03,1010.89 L912.82,1010.73 L912.59,1010.58 L912.35,1010.45 L912.11,1010.35 L911.85,1010.27 L911.59,1010.21 L911.33,1010.18 L911.06,1010.16 L910.79,1010.18 L910.51,1010.21 L910.24,1010.27 L909.96,1010.35 L909.69,1010.46 L909.42,1010.59 L909.15,1010.74 L908.88,1010.91 L908.62,1011.11 L908.37,1011.33 L908.12,1011.57 L907.88,1011.82 L907.64,1012.10 L907.41,1012.40 L907.18,1012.71 L906.96,1013.03 L906.75,1013.38 L906.54,1013.73 L906.34,1014.10 L906.15,1014.48 L905.95,1014.87 L905.77,1015.27 L905.58,1015.67 L905.40,1016.08 L905.22,1016.49 L905.04,1016.90 L904.86,1017.32 L904.68,1017.73 L904.50,1018.14 L904.31,1018.54 L904.12,1018.94 L903.93,1019.33 L903.74,1019.72 L903.53,1020.09 L903.32,1020.45 L903.11,1020.79 L902.89,1021.12 L902.66,1021.44 L902.43,1021.73 L902.18,1022.01 L901.93,1022.27 L901.68,1022.51 L901.41,1022.73 L901.15,1022.93 L900.87,1023.11 L900.59,1023.26 L900.31,1023.39 L900.02,1023.49 L899.74,1023.57 L899.45,1023.63 L899.16,1023.66 L898.87,1023.67 L898.59,1023.65 L898.31,1023.62 L898.03,1023.55 L897.77,1023.47 L897.51,1023.36 L897.26,1023.23 L897.02,1023.07 L896.79,1022.90 L896.57,1022.70 L896.37,1022.49 L896.19,1022.26 L896.02,1022.00 L895.86,1021.74 L895.73,1021.45 L895.61,1021.15 L895.51,1020.83 L895.42,1020.50 L895.36,1020.16 L895.31,1019.80 L895.28,1019.44 L895.26,1019.06 L895.26,1018.67 L895.28,1018.27 L895.31,1017.87 L895.35,1017.46 L895.41,1017.04 L895.47,1016.62 L895.55,1016.19 L895.63,1015.76 L895.72,1015.32 L895.82,1014.88 L895.92,1014.44 L896.02,1014.01 L896.12,1013.57 L896.22,1013.13 L896.32,1012.69 L896.41,1012.26 L896.49,1011.82 L896.57,1011.40 L896.64,1010.97 L896.70,1010.56 L896.74,1010.15 L896.78,1009.74 L896.80,1009.35 L896.80,1008.96 L896.79,1008.59 L896.77,1008.22 L896.73,1007.87 L896.67,1007.53 L896.60,1007.20 L896.51,1006.88 L896.40,1006.58 L896.28,1006.30 L896.14,1006.03 L895.98,1005.78 L895.81,1005.55 L895.63,1005.34 L895.43,1005.14 L895.22,1004.97 L895.00,1004.82 L894.76,1004.68 L894.52,1004.57 L894.27,1004.49 L894.01,1004.42 L893.75,1004.38 L893.48,1004.36 L893.20,1004.36 L892.93,1004.39 L892.65,1004.44 L892.37,1004.51 L892.09,1004.61 L891.81,1004.73 L891.53,1004.87 L891.26,1005.04 L890.99,1005.22 L890.72,1005.43 L890.46,1005.66 L890.20,1005.91 L889.95,1006.18 L889.70,1006.47 L889.46,1006.77 L889.23,1007.09 L888.99,1007.42 L888.77,1007.77 L888.55,1008.13 L888.33,1008.50 L888.11,1008.88 L887.90,1009.27 L887.70,1009.66 L887.49,1010.06 L887.28,1010.46 L887.08,1010.86 L886.87,1011.26 L886.67,1011.66 L886.46,1012.06 L886.25,1012.45 L886.04,1012.83 L885.82,1013.21 L885.60,1013.57 L885.37,1013.92 L885.14,1014.27 L884.90,1014.59 L884.66,1014.90 L884.41,1015.20 L884.15,1015.47 L883.89,1015.73 L883.62,1015.97 L883.35,1016.18 L883.07,1016.38 L882.79,1016.55 L882.51,1016.70 L882.22,1016.83 L881.93,1016.93 L881.64,1017.01 L881.34,1017.06 L881.05,1017.09 L880.76,1017.10 L880.48,1017.08 L880.20,1017.04 L879.92,1016.98 L879.66,1016.89 L879.40,1016.78 L879.15,1016.65 L878.91,1016.49 L878.69,1016.32 L878.47,1016.12 L878.28,1015.91 L878.10,1015.67 L877.93,1015.42 L877.78,1015.16 L877.65,1014.87 L877.54,1014.57 L877.45,1014.26 L877.37,1013.93 L877.31,1013.59 L877.27,1013.24 L877.25,1012.88 L877.25,1012.51 L877.26,1012.13 L877.29,1011.74 L877.34,1011.34 L877.40,1010.94 L877.47,1010.53 L877.56,1010.11 L877.66,1009.69 L877.76,1009.27 L877.87,1008.84 L877.99,1008.41 L878.12,1007.98 L878.24,1007.55 L878.37,1007.12 L878.50,1006.68 L878.62,1006.25 L878.74,1005.82 L878.86,1005.40 L878.97,1004.97 L879.07,1004.55 L879.16,1004.13 L879.24,1003.72 L879.31,1003.32 L879.36,1002.92 L879.40,1002.53 L879.43,1002.15 L879.43,1001.78 L879.43,1001.42 L879.40,1001.06 L879.36,1000.72 L879.30,1000.40 L879.22,1000.08 L879.13,999.78 L879.02,999.50 L878.89,999.23 L878.74,998.97 L878.58,998.74 L878.40,998.52 L878.21,998.32 L878.01,998.14 L877.79,997.98 L877.56,997.84 L877.33,997.72 L877.08,997.63 L876.82,997.55 L876.56,997.50 L876.29,997.47 L876.01,997.47 L875.73,997.49 L875.45,997.53 L875.17,997.59 L874.88,997.68 L874.60,997.79 L874.31,997.93 L874.03,998.08 L873.75,998.26 L873.47,998.46 L873.20,998.68 L872.93,998.92 L872.66,999.18 L872.40,999.45 L872.14,999.75 L871.88,1000.06 L871.63,1000.38 L871.39,1000.72 L871.14,1001.07 L870.90,1001.43 L870.67,1001.80 L870.44,1002.17 L870.20,1002.55 L869.97,1002.94 L869.74,1003.33 L869.52,1003.72 L869.29,1004.10 L869.05,1004.49 L868.82,1004.87 L868.59,1005.24 L868.35,1005.61 L868.11,1005.97 L867.86,1006.31 L867.61,1006.65 L867.36,1006.97 L867.10,1007.28 L866.84,1007.56 L866.57,1007.84 L866.30,1008.09 L866.02,1008.32 L865.73,1008.54 L865.45,1008.73 L865.16,1008.90 L864.86,1009.04 L864.57,1009.17 L864.27,1009.27 L863.98,1009.34 L863.68,1009.40 L863.39,1009.42 L863.09,1009.43 L862.81,1009.41 L862.53,1009.36 L862.25,1009.30 L861.98,1009.21 L861.73,1009.10 L861.48,1008.96 L861.24,1008.81 L861.02,1008.63 L860.81,1008.44 L860.62,1008.22 L860.44,1007.99 L860.28,1007.74 L860.14,1007.48 L860.01,1007.19 L859.90,1006.90 L859.82,1006.59 L859.75,1006.26 L859.70,1005.93 L859.67,1005.58 L859.66,1005.23 L859.67,1004.86 L859.70,1004.49 L859.74,1004.11 L859.80,1003.72 L859.87,1003.32 L859.96,1002.92 L860.07,1002.51 L860.18,1002.10 L860.31,1001.69 L860.44,1001.27 L860.58,1000.85 L860.73,1000.43 L860.88,1000.00 L861.04,999.58 L861.19,999.16 L861.34,998.73 L861.49,998.31 L861.64,997.89 L861.78,997.47 L861.91,997.06 L862.03,996.64 L862.15,996.24 L862.25,995.83 L862.33,995.43 L862.41,995.04 L862.47,994.66 L862.51,994.28 L862.53,993.91 L862.54,993.56 L862.53,993.21 L862.50,992.87 L862.46,992.54 L862.39,992.23 L862.31,991.93 L862.21,991.64 L862.09,991.37 L861.96,991.11 L861.80,990.87 L861.64,990.65 L861.45,990.45 L861.26,990.26 L861.04,990.10 L860.82,989.95 L860.59,989.83 L860.34,989.72 L860.09,989.64 L859.82,989.58 L859.55,989.54 L859.28,989.53 L858.99,989.54 L858.71,989.57 L858.42,989.63 L858.13,989.70 L857.84,989.81 L857.55,989.93 L857.26,990.08 L856.96,990.24 L856.68,990.43 L856.39,990.64 L856.10,990.87 L855.82,991.12 L855.54,991.39 L855.27,991.67 L855.00,991.97 L854.73,992.28 L854.46,992.61 L854.20,992.94 L853.94,993.29 L853.68,993.65 L853.43,994.01 L853.18,994.38 L852.92,994.75 L852.67,995.12 L852.42,995.50 L852.16,995.87 L851.91,996.24 L851.65,996.60 L851.39,996.96 L851.13,997.31 L850.87,997.65 L850.60,997.97 L850.33,998.29 L850.06,998.59 L849.78,998.87 L849.50,999.14 L849.21,999.38 L848.92,999.61 L848.63,999.82 L848.33,1000.01 L848.03,1000.17 L847.73,1000.32 L847.43,1000.44 L847.13,1000.54 L846.83,1000.61 L846.52,1000.66 L846.23,1000.68 L845.93,1000.68 L845.64,1000.66 L845.36,1000.62 L845.09,1000.55 L844.82,1000.46 L844.56,1000.34 L844.31,1000.21 L844.08,1000.05 L843.86,999.88 L843.65,999.68 L843.46,999.47 L843.29,999.23 L843.13,998.99 L842.99,998.72 L842.87,998.44 L842.77,998.15 L842.69,997.84 L842.63,997.52 L842.59,997.19 L842.57,996.85 L842.57,996.50 L842.59,996.14 L842.62,995.77 L842.68,995.40 L842.75,995.02 L842.84,994.63 L842.95,994.24 L843.07,993.84 L843.20,993.44 L843.34,993.04 L843.50,992.63 L843.66,992.22 L843.83,991.81 L844.00,991.40 L844.18,990.98 L844.36,990.57 L844.54,990.16 L844.72,989.74 L844.89,989.33 L845.06,988.92 L845.22,988.51 L845.38,988.11 L845.52,987.71 L845.66,987.31 L845.78,986.91 L845.88,986.52 L845.98,986.14 L846.05,985.76 L846.11,985.39 L846.15,985.03 L846.18,984.67 L846.18,984.33 L846.17,983.99 L846.14,983.67 L846.08,983.35 L846.01,983.05 L845.92,982.76 L845.82,982.49 L845.69,982.23 L845.55,981.99 L845.39,981.76 L845.21,981.56 L845.02,981.36 L844.82,981.19 L844.60,981.04 L844.37,980.91 L844.12,980.80 L843.87,980.71 L843.61,980.64 L843.34,980.59 L843.06,980.57 L842.78,980.57 L842.49,980.59 L842.20,980.64 L841.90,980.71 L841.60,980.80 L841.30,980.91 L841.00,981.05 L840.70,981.21 L840.40,981.38 L840.10,981.58 L839.81,981.80 L839.51,982.04 L839.22,982.29 L838.93,982.56 L838.64,982.85 L838.35,983.15 L838.07,983.47 L837.79,983.79 L837.51,984.12 L837.23,984.47 L836.95,984.81 L836.67,985.17 L836.40,985.52 L836.12,985.88 L835.85,986.24 L835.57,986.59 L835.30,986.94 L835.02,987.29 L834.74,987.63 L834.45,987.95 L834.17,988.27 L833.88,988.58 L833.59,988.87 L833.30,989.14 L833.00,989.40 L832.70,989.65 L832.40,989.87 L832.09,990.07 L831.79,990.26 L831.48,990.42 L831.17,990.56 L830.86,990.67 L830.55,990.77 L830.25,990.84 L829.94,990.88 L829.64,990.90 L829.34,990.90 L829.05,990.88 L828.77,990.83 L828.49,990.76 L828.22,990.67 L827.97,990.55 L827.72,990.41 L827.49,990.26 L827.27,990.08 L827.06,989.88 L826.88,989.67 L826.71,989.44 L826.55,989.19 L826.42,988.93 L826.30,988.65 L826.21,988.36 L826.13,988.06 L826.08,987.74 L826.04,987.41 L826.03,987.08 L826.04,986.73 L826.07,986.38 L826.11,986.02 L826.18,985.66 L826.26,985.28 L826.37,984.91 L826.49,984.52 L826.62,984.14 L826.77,983.75 L826.93,983.35 L827.10,982.96 L827.28,982.56 L827.47,982.16 L827.67,981.76 L827.87,981.36 L828.08,980.96 L828.28,980.56 L828.48,980.16 L828.69,979.75 L828.88,979.35 L829.08,978.96 L829.26,978.56 L829.44,978.16 L829.60,977.77 L829.76,977.38 L829.90,977.00 L830.02,976.62 L830.13,976.24 L830.22,975.87 L830.30,975.51 L830.36,975.15 L830.40,974.80 L830.41,974.46 L830.42,974.13 L830.40,973.80 L830.36,973.49 L830.30,973.19 L830.22,972.90 L830.12,972.63 L830.01,972.37 L829.87,972.12 L829.72,971.89 L829.55,971.68 L829.37,971.48 L829.17,971.31 L828.95,971.15 L828.73,971.01 L828.49,970.89 L828.24,970.79 L827.98,970.72 L827.71,970.66 L827.43,970.63 L827.14,970.62 L826.85,970.63 L826.55,970.67 L826.25,970.73 L825.95,970.81 L825.64,970.91 L825.33,971.03 L825.02,971.18 L824.71,971.35 L824.40,971.53 L824.09,971.74 L823.78,971.96 L823.48,972.21 L823.17,972.47 L822.86,972.74 L822.56,973.03 L822.26,973.33 L821.96,973.64 L821.66,973.96 L821.36,974.28 L821.06,974.61 L820.76,974.95 L820.47,975.29 L820.17,975.63 L819.87,975.97 L819.58,976.31 L819.28,976.64 L818.98,976.96 L818.68,977.28 L818.37,977.58 L818.07,977.88 L817.76,978.16 L817.45,978.43 L817.14,978.68 L816.83,978.92 L816.52,979.13 L816.20,979.33 L815.88,979.51 L815.57,979.66 L815.25,979.80 L814.93,979.91 L814.62,980.00 L814.31,980.06 L814.00,980.11 L813.69,980.13 L813.39,980.12 L813.10,980.09 L812.81,980.04 L812.53,979.97 L812.26,979.87 L812.01,979.76 L811.76,979.62 L811.53,979.46 L811.31,979.28 L811.11,979.08 L810.92,978.87 L810.76,978.64 L810.61,978.39 L810.47,978.13 L810.36,977.85 L810.27,977.57 L810.20,977.27 L810.15,976.95 L810.13,976.63 L810.12,976.30 L810.14,975.96 L810.17,975.62 L810.23,975.27 L810.30,974.91 L810.40,974.54 L810.51,974.18 L810.65,973.80 L810.79,973.43 L810.96,973.05 L811.13,972.67 L811.32,972.29 L811.52,971.90 L811.73,971.52 L811.95,971.13 L812.17,970.74 L812.40,970.35 L812.63,969.97 L812.86,969.58 L813.08,969.19 L813.31,968.80 L813.53,968.41 L813.74,968.03 L813.95,967.64 L814.14,967.26 L814.33,966.88 L814.50,966.50 L814.66,966.13 L814.80,965.76 L814.93,965.39 L815.04,965.03 L815.13,964.67 L815.20,964.32 L815.26,963.98 L815.29,963.64 L815.30,963.31 L815.30,962.99 L815.27,962.68 L815.22,962.38 L815.16,962.09 L815.07,961.82 L814.96,961.56 L814.84,961.31 L814.69,961.07 L814.53,960.86 L814.35,960.66 L814.16,960.47 L813.95,960.31 L813.73,960.16 L813.49,960.04 L813.24,959.93 L812.98,959.85 L812.71,959.78 L812.44,959.74 L812.15,959.72 L811.85,959.72 L811.55,959.75 L811.25,959.80 L810.94,959.86 L810.62,959.96 L810.31,960.07 L809.99,960.20 L809.67,960.36 L809.35,960.53 L809.02,960.73 L808.70,960.94 L808.38,961.17 L808.06,961.41 L807.74,961.67 L807.42,961.94 L807.10,962.23 L806.78,962.52 L806.46,962.82 L806.14,963.13 L805.82,963.45 L805.51,963.77 L805.19,964.09 L804.87,964.41 L804.55,964.73 L804.24,965.05 L803.92,965.36 L803.60,965.66 L803.28,965.95 L802.96,966.24 L802.63,966.51 L802.31,966.76 L801.98,967.01 L801.66,967.23 L801.33,967.44 L801.00,967.63 L800.68,967.80 L800.35,967.95 L800.03,968.08 L799.70,968.19 L799.38,968.27 L799.06,968.33 L798.75,968.37 L798.44,968.39 L798.13,968.38 L797.84,968.35 L797.55,968.29 L797.27,968.22 L797.00,968.12 L796.74,968.00 L796.50,967.86 L796.26,967.70 L796.05,967.52 L795.85,967.32 L795.66,967.11 L795.50,966.88 L795.35,966.63 L795.22,966.37 L795.12,966.10 L795.03,965.81 L794.96,965.51 L794.92,965.21 L794.90,964.89 L794.90,964.56 L794.92,964.23 L794.96,963.89 L795.03,963.55 L795.11,963.20 L795.22,962.84 L795.34,962.48 L795.49,962.12 L795.65,961.76 L795.82,961.39 L796.01,961.02 L796.22,960.66 L796.44,960.28 L796.66,959.91 L796.90,959.54 L797.14,959.17 L797.39,958.79 L797.64,958.42 L797.89,958.05 L798.14,957.67 L798.40,957.30 L798.64,956.93 L798.88,956.55 L799.12,956.18 L799.34,955.81 L799.56,955.44 L799.76,955.08 L799.95,954.71 L800.13,954.35 L800.29,953.99 L800.43,953.63 L800.56,953.28 L800.66,952.93 L800.75,952.58 L800.82,952.24 L800.86,951.91 L800.89,951.59 L800.90,951.27 L800.88,950.96 L800.85,950.66 L800.79,950.38 L800.71,950.10 L800.61,949.84 L800.50,949.59 L800.36,949.35 L800.21,949.13 L800.04,948.92 L799.85,948.73 L799.65,948.56 L799.43,948.41 L799.19,948.28 L798.95,948.16 L798.69,948.07 L798.42,948.00 L798.14,947.95 L797.85,947.92 L797.56,947.91 L797.25,947.92 L796.94,947.96 L796.63,948.02 L796.31,948.10 L795.98,948.20 L795.65,948.32 L795.32,948.46 L794.99,948.62 L794.66,948.80 L794.32,949.00 L793.99,949.21 L793.65,949.44 L793.31,949.69 L792.98,949.94 L792.64,950.21 L792.30,950.49 L791.97,950.77 L791.63,951.07 L791.29,951.36 L790.96,951.66 L790.62,951.96 L790.29,952.26 L789.95,952.56 L789.61,952.85 L789.28,953.14 L788.94,953.42 L788.60,953.69 L788.26,953.95 L787.92,954.20 L787.58,954.43 L787.24,954.65 L786.90,954.85 L786.57,955.03 L786.23,955.19 L785.89,955.33 L785.56,955.46 L785.22,955.56 L784.90,955.63 L784.57,955.69 L784.25,955.72 L783.94,955.74 L783.63,955.72 L783.33,955.69 L783.04,955.63 L782.76,955.55 L782.49,955.45 L782.23,955.33 L781.98,955.19 L781.75,955.03 L781.54,954.84 L781.34,954.65 L781.16,954.43 L780.99,954.20 L780.85,953.95 L780.72,953.69 L780.62,953.42 L780.54,953.14 L780.48,952.84 L780.44,952.54 L780.42,952.23 L780.43,951.91 L780.45,951.58 L780.50,951.25 L780.58,950.91 L780.67,950.57 L780.78,950.22 L780.92,949.87 L781.07,949.52 L781.24,949.17 L781.43,948.82 L781.63,948.46 L781.85,948.11 L782.08,947.75 L782.33,947.39 L782.58,947.04 L782.84,946.68 L783.11,946.32 L783.38,945.96 L783.65,945.61 L783.93,945.25 L784.20,944.89 L784.47,944.53 L784.74,944.18 L785.00,943.82 L785.26,943.47 L785.50,943.11 L785.73,942.75 L785.96,942.40 L786.16,942.05 L786.36,941.70 L786.53,941.35 L786.69,941.00 L786.83,940.66 L786.95,940.32 L787.05,939.98 L787.13,939.65 L787.19,939.32 L787.23,939.00 L787.25,938.69 L787.25,938.38 L787.22,938.09 L787.17,937.80 L787.11,937.52 L787.02,937.26 L786.91,937.00 L786.78,936.76 L786.64,936.54 L786.47,936.33 L786.29,936.13 L786.09,935.96 L785.88,935.80 L785.65,935.66 L785.40,935.53 L785.15,935.43 L784.88,935.35 L784.60,935.29 L784.31,935.25 L784.01,935.23 L783.71,935.23 L783.39,935.26 L783.07,935.30 L782.74,935.37 L782.41,935.46 L782.08,935.57 L781.74,935.70 L781.39,935.84 L781.05,936.01 L780.70,936.19 L780.35,936.39 L780.00,936.60 L779.65,936.83 L779.30,937.07 L778.95,937.32 L778.59,937.58 L778.24,937.85 L777.89,938.12 L777.53,938.40 L777.18,938.67 L776.82,938.95 L776.47,939.23 L776.11,939.51 L775.76,939.78 L775.41,940.04 L775.05,940.30 L774.70,940.54 L774.34,940.77 L773.99,940.99 L773.64,941.20 L773.29,941.39 L772.94,941.56 L772.59,941.72 L772.24,941.85 L771.90,941.97 L771.56,942.06 L771.22,942.13 L770.89,942.18 L770.56,942.21 L770.25,942.22 L769.93,942.20 L769.63,942.16 L769.34,942.10 L769.05,942.02 L768.78,941.91 L768.52,941.79 L768.28,941.65 L768.05,941.48 L767.83,941.30 L767.63,941.10 L767.45,940.88 L767.29,940.65 L767.15,940.41 L767.03,940.15 L766.93,939.88 L766.85,939.60 L766.79,939.30 L766.76,939.00 L766.75,938.69 L766.76,938.38 L766.79,938.06 L766.85,937.73 L766.92,937.40 L767.02,937.07 L767.15,936.73 L767.29,936.39 L767.45,936.05 L767.63,935.71 L767.83,935.37 L768.04,935.03 L768.27,934.69 L768.52,934.35 L768.78,934.00 L769.04,933.66 L769.32,933.32 L769.61,932.98 L769.90,932.64 L770.19,932.30 L770.49,931.96 L770.78,931.62 L771.08,931.28 L771.37,930.94 L771.66,930.60 L771.94,930.26 L772.21,929.92 L772.47,929.58 L772.72,929.24 L772.96,928.90 L773.19,928.57 L773.39,928.23 L773.58,927.89 L773.76,927.55 L773.91,927.22 L774.05,926.89 L774.16,926.56 L774.25,926.24 L774.33,925.91 L774.38,925.60 L774.41,925.29 L774.41,924.99 L774.40,924.69 L774.36,924.41 L774.31,924.13 L774.23,923.86 L774.13,923.61 L774.01,923.36 L773.87,923.13 L773.71,922.92 L773.53,922.72 L773.34,922.54 L773.13,922.37 L772.91,922.22 L772.67,922.09 L772.41,921.98 L772.14,921.89 L771.87,921.82 L771.57,921.77 L771.27,921.74 L770.96,921.73 L770.65,921.74 L770.32,921.78 L769.99,921.83 L769.65,921.91 L769.31,922.00 L768.96,922.11 L768.61,922.25 L768.25,922.40 L767.89,922.56 L767.53,922.75 L767.17,922.94 L766.80,923.15 L766.43,923.37 L766.07,923.60 L765.70,923.84 L765.33,924.09 L764.96,924.34 L764.59,924.60 L764.22,924.86 L763.85,925.11 L763.47,925.37 L763.10,925.62 L762.73,925.86 L762.36,926.10 L762.00,926.33 L761.63,926.55 L761.26,926.76 L760.89,926.95 L760.53,927.13 L760.17,927.29 L759.81,927.44 L759.45,927.56 L759.10,927.67 L758.75,927.75 L758.41,927.82 L758.07,927.86 L757.74,927.89 L757.42,927.89 L757.10,927.86 L756.79,927.82 L756.50,927.76 L756.21,927.67 L755.94,927.56 L755.68,927.43 L755.43,927.29 L755.20,927.12 L754.99,926.94 L754.79,926.74 L754.61,926.52 L754.45,926.29 L754.31,926.04 L754.19,925.78 L754.10,925.51 L754.02,925.23 L753.97,924.95 L753.93,924.65 L753.93,924.34 L753.94,924.03 L753.98,923.72 L754.04,923.40 L754.12,923.07 L754.23,922.75 L754.36,922.42 L754.51,922.09 L754.68,921.76 L754.87,921.43 L755.08,921.10 L755.30,920.78 L755.54,920.45 L755.80,920.12 L756.07,919.80 L756.35,919.47 L756.64,919.15 L756.94,918.83 L757.25,918.50 L757.56,918.18 L757.88,917.86 L758.19,917.54 L758.51,917.22 L758.83,916.90 L759.14,916.58 L759.44,916.26 L759.74,915.93 L760.03,915.61 L760.31,915.29 L760.58,914.96 L760.83,914.64 L761.07,914.31 L761.29,913.99 L761.49,913.66 L761.68,913.34 L761.85,913.02 L762.00,912.69 L762.12,912.37 L762.23,912.06 L762.32,911.74 L762.38,911.43 L762.42,911.13 L762.44,910.83 L762.43,910.53 L762.41,910.25 L762.36,909.97 L762.29,909.71 L762.20,909.45 L762.08,909.20 L761.95,908.97 L761.80,908.75 L761.63,908.55 L761.44,908.36 L761.24,908.18 L761.02,908.03 L760.78,907.89 L760.53,907.77 L760.26,907.67 L759.98,907.59 L759.69,907.53 L759.39,907.49 L759.08,907.47 L758.76,907.47 L758.43,907.49 L758.09,907.53 L757.74,907.59 L757.39,907.67 L757.04,907.77 L756.67,907.88 L756.31,908.02 L755.94,908.17 L755.57,908.33 L755.19,908.51 L754.81,908.70 L754.43,908.90 L754.05,909.11 L753.67,909.33 L753.28,909.56 L752.90,909.79 L752.51,910.02 L752.12,910.26 L751.74,910.49 L751.35,910.72 L750.97,910.95 L750.58,911.17 L750.20,911.38 L749.82,911.58 L749.44,911.77 L749.06,911.95 L748.68,912.12 L748.31,912.27 L747.94,912.40 L747.58,912.52 L747.21,912.61 L746.86,912.69 L746.51,912.75 L746.16,912.78 L745.82,912.80 L745.50,912.79 L745.18,912.77 L744.87,912.72 L744.57,912.65 L744.28,912.56 L744.00,912.45 L743.74,912.32 L743.50,912.17 L743.27,912.00 L743.05,911.81 L742.86,911.61 L742.68,911.39 L742.52,911.16 L742.38,910.92 L742.26,910.66 L742.17,910.39 L742.10,910.11 L742.05,909.82 L742.02,909.53 L742.01,909.23 L742.03,908.92 L742.07,908.61 L742.14,908.30 L742.23,907.98 L742.34,907.66 L742.47,907.34 L742.63,907.02 L742.81,906.71 L743.00,906.39 L743.22,906.07 L743.45,905.76 L743.70,905.44 L743.97,905.13 L744.25,904.82 L744.55,904.51 L744.85,904.21 L745.16,903.90 L745.49,903.60 L745.81,903.30 L746.15,903.00 L746.48,902.70 L746.82,902.40 L747.16,902.09 L747.49,901.79 L747.82,901.49 L748.14,901.19 L748.45,900.89 L748.76,900.58 L749.05,900.28 L749.33,899.97 L749.60,899.66 L749.85,899.35 L750.09,899.04 L750.31,898.73 L750.51,898.41 L750.69,898.10 L750.85,897.79 L750.99,897.48 L751.11,897.17 L751.20,896.86 L751.28,896.56 L751.33,896.26 L751.36,895.96 L751.36,895.67 L751.34,895.38 L751.31,895.11 L751.24,894.84 L751.16,894.58 L751.06,894.33 L750.93,894.10 L750.79,893.87 L750.63,893.66 L750.44,893.47 L750.24,893.29 L750.02,893.13 L749.79,892.98 L749.54,892.85 L749.28,892.74 L749.00,892.65 L748.71,892.58 L748.41,892.53 L748.09,892.49 L747.77,892.48 L747.43,892.49 L747.09,892.51 L746.74,892.56 L746.38,892.62 L746.02,892.71 L745.65,892.81 L745.27,892.92 L744.89,893.06 L744.51,893.20 L744.12,893.36 L743.73,893.53 L743.34,893.71 L742.94,893.90 L742.55,894.10 L742.15,894.31 L741.75,894.51 L741.35,894.72 L740.95,894.93 L740.55,895.14 L740.15,895.35 L739.75,895.55 L739.36,895.74 L738.96,895.92 L738.57,896.10 L738.18,896.26 L737.79,896.41 L737.41,896.55 L737.03,896.67 L736.65,896.78 L736.28,896.86 L735.92,896.93 L735.56,896.98 L735.21,897.01 L734.86,897.02 L734.53,897.00 L734.21,896.97 L733.89,896.92 L733.59,896.84 L733.30,896.75 L733.02,896.63 L732.76,896.50 L732.51,896.34 L732.28,896.17 L732.07,895.98 L731.87,895.78 L731.70,895.56 L731.54,895.33 L731.40,895.08 L731.29,894.82 L731.19,894.56 L731.12,894.28 L731.08,893.99 L731.05,893.70 L731.05,893.40 L731.07,893.10 L731.12,892.80 L731.19,892.49 L731.28,892.18 L731.40,891.87 L731.54,891.56 L731.70,891.25 L731.88,890.94 L732.08,890.63 L732.31,890.33 L732.55,890.03 L732.81,889.73 L733.08,889.43 L733.37,889.14 L733.68,888.85 L733.99,888.56 L734.32,888.27 L734.65,887.99 L735.00,887.71 L735.35,887.43 L735.70,887.15 L736.05,886.87 L736.41,886.59 L736.76,886.31 L737.11,886.03 L737.45,885.75 L737.79,885.46 L738.12,885.18 L738.44,884.89 L738.75,884.61 L739.04,884.32 L739.32,884.02 L739.59,883.73 L739.84,883.43 L740.07,883.13 L740.28,882.83 L740.47,882.53 L740.64,882.23 L740.79,881.93 L740.92,881.63 L741.03,881.33 L741.11,881.03 L741.18,880.73 L741.21,880.44 L741.23,880.15 L741.22,879.87 L741.19,879.59 L741.14,879.32 L741.07,879.06 L740.97,878.81 L740.85,878.57 L740.72,878.35 L740.56,878.13 L740.38,877.93 L740.19,877.74 L739.97,877.57 L739.74,877.42 L739.50,877.28 L739.23,877.16 L738.96,877.06 L738.67,876.98 L738.36,876.91 L738.05,876.87 L737.72,876.84 L737.38,876.83 L737.04,876.85 L736.68,876.88 L736.32,876.93 L735.94,876.99 L735.57,877.07 L735.18,877.17 L734.79,877.29 L734.40,877.41 L734.00,877.55 L733.60,877.70 L733.20,877.86 L732.79,878.03 L732.38,878.21 L731.97,878.39 L731.56,878.57 L731.15,878.76 L730.74,878.94 L730.33,879.12 L729.92,879.30 L729.51,879.47 L729.10,879.64 L728.69,879.80 L728.29,879.94 L727.89,880.08 L727.50,880.20 L727.11,880.31 L726.72,880.40 L726.34,880.47 L725.97,880.53 L725.61,880.57 L725.25,880.59 L724.90,880.59 L724.56,880.57 L724.23,880.53 L723.91,880.47 L723.61,880.39 L723.31,880.29 L723.04,880.17 L722.77,880.03 L722.52,879.87 L722.29,879.70 L722.08,879.51 L721.88,879.30 L721.71,879.08 L721.55,878.85 L721.42,878.60 L721.31,878.34 L721.21,878.08 L721.15,877.80 L721.10,877.52 L721.08,877.23 L721.08,876.93 L721.11,876.63 L721.16,876.33 L721.23,876.03 L721.33,875.73 L721.45,875.42 L721.59,875.12 L721.75,874.82 L721.94,874.52 L722.15,874.23 L722.38,873.94 L722.63,873.65 L722.89,873.36 L723.18,873.08 L723.47,872.80 L723.79,872.53 L724.11,872.26 L724.45,871.99 L724.80,871.73 L725.15,871.47 L725.51,871.21 L725.88,870.95 L726.25,870.69 L726.62,870.43 L726.99,870.18 L727.36,869.92 L727.72,869.66 L728.08,869.40 L728.43,869.14 L728.78,868.87 L729.11,868.61 L729.43,868.34 L729.74,868.06 L730.03,867.79 L730.31,867.51 L730.57,867.23 L730.81,866.94 L731.03,866.66 L731.24,866.37 L731.42,866.08 L731.58,865.78 L731.72,865.49 L731.84,865.20 L731.93,864.90 L732.00,864.61 L732.05,864.32 L732.08,864.04 L732.08,863.76 L732.06,863.48 L732.01,863.21 L731.95,862.95 L731.86,862.70 L731.75,862.46 L731.62,862.23 L731.47,862.01 L731.30,861.80 L731.11,861.61 L730.90,861.43 L730.67,861.26 L730.43,861.12 L730.17,860.99 L729.89,860.88 L729.60,860.78 L729.30,860.70 L728.98,860.65 L728.65,860.61 L728.31,860.59 L727.96,860.58 L727.60,860.60 L727.23,860.63 L726.86,860.68 L726.47,860.74 L726.08,860.82 L725.68,860.92 L725.28,861.03 L724.87,861.14 L724.46,861.27 L724.05,861.41 L723.63,861.56 L723.21,861.71 L722.79,861.86 L722.37,862.02 L721.94,862.18 L721.52,862.34 L721.10,862.50 L720.68,862.65 L720.26,862.79 L719.85,862.93 L719.44,863.06 L719.03,863.18 L718.62,863.28 L718.22,863.38 L717.83,863.45 L717.44,863.51 L717.06,863.56 L716.69,863.59 L716.32,863.60 L715.97,863.59 L715.62,863.56 L715.29,863.51 L714.97,863.45 L714.66,863.36 L714.36,863.25 L714.08,863.13 L713.82,862.99 L713.57,862.83 L713.34,862.65 L713.12,862.45 L712.93,862.25 L712.75,862.02 L712.60,861.79 L712.47,861.54 L712.36,861.28 L712.27,861.01 L712.20,860.74 L712.16,860.46 L712.14,860.17 L712.14,859.88 L712.17,859.58 L712.22,859.28 L712.30,858.99 L712.40,858.69 L712.52,858.39 L712.67,858.10 L712.84,857.81 L713.03,857.52 L713.24,857.23 L713.48,856.95 L713.73,856.68 L714.00,856.41 L714.29,856.14 L714.60,855.88 L714.92,855.62 L715.25,855.37 L715.59,855.12 L715.95,854.88 L716.32,854.63 L716.69,854.40 L717.07,854.16 L717.45,853.92 L717.84,853.69 L718.22,853.46 L718.61,853.22 L718.99,852.99 L719.37,852.75 L719.74,852.51 L720.10,852.27 L720.46,852.03 L720.80,851.78 L721.14,851.53 L721.45,851.28 L721.76,851.02 L722.05,850.76 L722.32,850.49 L722.57,850.22 L722.80,849.95 L723.02,849.67 L723.21,849.39 L723.38,849.10 L723.53,848.82 L723.66,848.53 L723.76,848.25 L723.84,847.96 L723.90,847.68 L723.94,847.39 L723.95,847.12 L723.94,846.84 L723.90,846.57 L723.84,846.31 L723.76,846.06 L723.66,845.81 L723.54,845.57 L723.39,845.35 L723.23,845.14 L723.04,844.94 L722.84,844.75 L722.61,844.58 L722.37,844.42 L722.12,844.28 L721.84,844.16 L721.55,844.05 L721.25,843.97 L720.93,843.89 L720.60,843.84 L720.26,843.81 L719.91,843.79 L719.54,843.79 L719.17,843.80 L718.79,843.83 L718.39,843.88 L718.00,843.94 L717.59,844.01 L717.18,844.10 L716.77,844.20 L716.35,844.30 L715.92,844.42 L715.50,844.54 L715.07,844.67 L714.64,844.80 L714.21,844.93 L713.78,845.06 L713.35,845.20 L712.92,845.32 L712.49,845.45 L712.06,845.56 L711.64,845.67 L711.22,845.77 L710.81,845.86 L710.40,845.94 L710.00,846.00 L709.60,846.05 L709.21,846.08 L708.83,846.10 L708.46,846.09 L708.10,846.07 L707.75,846.04 L707.42,845.98 L707.09,845.91 L706.78,845.81 L706.48,845.70 L706.20,845.57 L705.93,845.42 L705.68,845.26 L705.45,845.08 L705.24,844.88 L705.04,844.67 L704.87,844.44 L704.71,844.21 L704.58,843.96 L704.47,843.70 L704.38,843.43 L704.32,843.16 L704.28,842.88 L704.26,842.59 L704.27,842.30 L704.30,842.01 L704.35,841.72 L704.43,841.42 L704.54,841.13 L704.66,840.84 L704.81,840.55 L704.99,840.27 L705.18,839.99 L705.40,839.72 L705.63,839.45 L705.89,839.19 L706.17,838.93 L706.46,838.68 L706.77,838.43 L707.10,838.19 L707.44,837.95 L707.79,837.72 L708.15,837.50 L708.53,837.28 L708.91,837.06 L709.30,836.85 L709.69,836.63 L710.09,836.42 L710.49,836.21 L710.89,836.01 L711.29,835.80 L711.68,835.58 L712.07,835.37 L712.46,835.16 L712.83,834.94 L713.20,834.71 L713.55,834.49 L713.90,834.26 L714.23,834.02 L714.54,833.78 L714.84,833.53 L715.12,833.28 L715.38,833.02 L715.62,832.76 L715.85,832.50 L716.05,832.23 L716.23,831.96 L716.39,831.68 L716.52,831.40 L716.64,831.12 L716.73,830.84 L716.80,830.56 L716.84,830.28 L716.86,830.01 L716.86,829.73 L716.83,829.46 L716.78,829.20 L716.71,828.94 L716.61,828.69 L716.50,828.45 L716.36,828.23 L716.20,828.01 L716.02,827.80 L715.82,827.61 L715.60,827.43 L715.36,827.26 L715.11,827.11 L714.84,826.98 L714.55,826.86 L714.25,826.76 L713.93,826.67 L713.60,826.61 L713.26,826.56 L712.90,826.52 L712.53,826.50 L712.15,826.50 L711.77,826.51 L711.37,826.54 L710.97,826.58 L710.56,826.64 L710.14,826.70 L709.72,826.78 L709.29,826.86 L708.86,826.95 L708.42,827.05 L707.99,827.15 L707.55,827.25 L707.11,827.36 L706.67,827.47 L706.24,827.57 L705.80,827.67 L705.37,827.76 L704.94,827.85 L704.51,827.93 L704.09,828.00 L703.67,828.06 L703.26,828.11 L702.86,828.14 L702.46,828.16 L702.08,828.16 L701.70,828.15 L701.34,828.12 L700.98,828.07 L700.64,828.00 L700.31,827.92 L699.99,827.82 L699.69,827.70 L699.41,827.57 L699.14,827.41 L698.89,827.24 L698.66,827.06 L698.44,826.86 L698.25,826.64 L698.08,826.42 L697.92,826.18 L697.79,825.93 L697.68,825.67 L697.60,825.40 L697.54,825.12 L697.50,824.84 L697.48,824.56 L697.49,824.27 L697.52,823.98 L697.58,823.69 L697.66,823.41 L697.77,823.12 L697.90,822.84 L698.05,822.56 L698.22,822.28 L698.42,822.01 L698.64,821.74 L698.88,821.49 L699.14,821.24 L699.42,820.99 L699.72,820.75 L700.03,820.52 L700.36,820.30 L700.71,820.08 L701.07,819.87 L701.44,819.66 L701.82,819.46 L702.21,819.27 L702.61,819.07 L703.01,818.89 L703.42,818.70 L703.83,818.51 L704.24,818.33 L704.65,818.14 L705.06,817.96 L705.47,817.77 L705.87,817.58 L706.26,817.39 L706.64,817.19 L707.02,816.99 L707.38,816.78 L707.74,816.57 L708.07,816.36 L708.40,816.13 L708.70,815.90 L708.99,815.67 L709.26,815.43 L709.52,815.18 L709.75,814.92 L709.96,814.67 L710.15,814.40 L710.32,814.14 L710.46,813.87 L710.58,813.59 L710.68,813.32 L710.76,813.04 L710.81,812.77 L710.84,812.49 L710.85,812.22 L710.83,811.95 L710.79,811.69 L710.72,811.43 L710.63,811.18 L710.52,810.93 L710.39,810.70 L710.24,810.47 L710.07,810.26 L709.87,810.06 L709.66,809.87 L709.43,809.70 L709.17,809.54 L708.91,809.39 L708.62,809.26 L708.32,809.15 L708.00,809.05 L707.67,808.97 L707.32,808.90 L706.97,808.85 L706.60,808.82 L706.22,808.80 L705.83,808.79 L705.43,808.80 L705.02,808.82 L704.60,808.85 L704.18,808.89 L703.75,808.94 L703.32,809.00 L702.88,809.07 L702.44,809.14 L702.00,809.22 L701.55,809.30 L701.11,809.38 L700.67,809.45 L700.22,809.53 L699.78,809.60 L699.35,809.67 L698.91,809.72 L698.48,809.78 L698.06,809.82 L697.64,809.84 L697.23,809.86 L696.83,809.86 L696.44,809.85 L696.06,809.83 L695.69,809.78 L695.33,809.73 L694.98,809.65 L694.65,809.56 L694.33,809.45 L694.03,809.32 L693.74,809.18 L693.47,809.02 L693.22,808.85 L692.99,808.66 L692.77,808.45 L692.58,808.23 L692.41,808.00 L692.26,807.76 L692.13,807.51 L692.02,807.25 L691.93,806.98 L691.87,806.71 L691.84,806.43 L691.82,806.14 L691.83,805.86 L691.87,805.57 L691.93,805.29 L692.01,805.00 L692.12,804.72 L692.25,804.44 L692.41,804.17 L692.58,803.90 L692.78,803.64 L693.00,803.38 L693.25,803.14 L693.51,802.90 L693.79,802.66 L694.09,802.44 L694.41,802.22 L694.74,802.01 L695.09,801.81 L695.45,801.62 L695.83,801.43 L696.22,801.25 L696.61,801.08 L697.01,800.91 L697.43,800.74 L697.84,800.58 L698.26,800.42 L698.68,800.26 L699.11,800.10 L699.53,799.94 L699.95,799.78 L700.36,799.62 L700.77,799.45 L701.17,799.28 L701.56,799.11 L701.95,798.93 L702.32,798.74 L702.68,798.55 L703.03,798.35 L703.36,798.15 L703.67,797.93 L703.97,797.71 L704.25,797.49 L704.51,797.25 L704.75,797.01 L704.97,796.77 L705.16,796.51 L705.34,796.25 L705.49,795.99 L705.62,795.73 L705.73,795.46 L705.82,795.19 L705.88,794.91 L705.91,794.64 L705.93,794.37 L705.92,794.10 L705.88,793.84 L705.83,793.58 L705.75,793.32 L705.65,793.08 L705.52,792.84 L705.37,792.61 L705.21,792.39 L705.02,792.18 L704.81,791.98 L704.58,791.80 L704.33,791.63 L704.07,791.47 L703.78,791.33 L703.48,791.20 L703.17,791.09 L702.84,790.99 L702.49,790.91 L702.13,790.84 L701.76,790.79 L701.38,790.75 L700.99,790.73 L700.58,790.71 L700.17,790.71 L699.75,790.72 L699.33,790.74 L698.89,790.77 L698.46,790.81 L698.01,790.85 L697.57,790.89 L697.12,790.94 L696.67,791.00 L696.23,791.05 L695.78,791.10 L695.33,791.14 L694.89,791.19 L694.45,791.22 L694.02,791.25 L693.59,791.27 L693.16,791.28 L692.75,791.28 L692.34,791.27 L691.95,791.24 L691.56,791.20 L691.18,791.15 L690.82,791.08 L690.47,790.99 L690.13,790.89 L689.81,790.77 L689.51,790.64 L689.22,790.49 L688.95,790.32 L688.70,790.14 L688.46,789.94 L688.25,789.74 L688.05,789.51 L687.88,789.28 L687.73,789.04 L687.60,788.78 L687.50,788.52 L687.41,788.25 L687.35,787.98 L687.32,787.70 L687.31,787.42 L687.32,787.13 L687.36,786.85 L687.42,786.56 L687.50,786.28 L687.61,786.01 L687.75,785.73 L687.90,785.47 L688.08,785.20 L688.28,784.95 L688.51,784.70 L688.75,784.47 L689.01,784.24 L689.30,784.02 L689.60,783.80 L689.92,783.60 L690.26,783.41 L690.61,783.22 L690.97,783.05 L691.35,782.88 L691.74,782.72 L692.14,782.57 L692.55,782.42 L692.97,782.28 L693.39,782.14 L693.81,782.00 L694.24,781.87 L694.67,781.73 L695.11,781.60 L695.54,781.47 L695.96,781.33 L696.38,781.19 L696.80,781.05 L697.21,780.91 L697.61,780.75 L698.00,780.60 L698.38,780.43 L698.74,780.26 L699.10,780.08 L699.43,779.89 L699.76,779.70 L700.06,779.49 L700.35,779.28 L700.61,779.06 L700.86,778.83 L701.09,778.60 L701.29,778.35 L701.48,778.10 L701.64,777.85 L701.78,777.59 L701.89,777.33 L701.98,777.06 L702.05,776.79 L702.10,776.52 L702.12,776.25 L702.12,775.99 L702.09,775.72 L702.04,775.46 L701.97,775.20 L701.88,774.95 L701.76,774.71 L701.62,774.47 L701.46,774.25 L701.28,774.03 L701.07,773.82 L700.85,773.63 L700.60,773.45 L700.34,773.28 L700.06,773.13 L699.77,772.99 L699.45,772.86 L699.12,772.75 L698.78,772.65 L698.42,772.57 L698.05,772.50 L697.66,772.44 L697.27,772.39 L696.86,772.36 L696.45,772.34 L696.03,772.32 L695.60,772.32 L695.16,772.32 L694.72,772.34 L694.28,772.35 L693.83,772.37 L693.38,772.39 L692.93,772.42 L692.48,772.44 L692.03,772.46 L691.58,772.48 L691.14,772.49 L690.70,772.50 L690.27,772.50 L689.84,772.49 L689.42,772.47 L689.01,772.44 L688.61,772.40 L688.22,772.34 L687.84,772.27 L687.47,772.19 L687.12,772.09 L686.78,771.98 L686.46,771.85 L686.15,771.71 L685.86,771.55 L685.58,771.38 L685.33,771.19 L685.10,770.99 L684.88,770.78 L684.69,770.55 L684.52,770.32 L684.37,770.07 L684.24,769.81 L684.13,769.55 L684.05,769.28 L684.00,769.00 L683.96,768.72 L683.95,768.44 L683.97,768.16 L684.01,767.88 L684.07,767.60 L684.16,767.32 L684.27,767.05 L684.40,766.78 L684.56,766.52 L684.74,766.26 L684.94,766.01 L685.17,765.78 L685.41,765.55 L685.68,765.33 L685.96,765.12 L686.26,764.92 L686.59,764.73 L686.92,764.55 L687.27,764.38 L687.64,764.23 L688.02,764.08 L688.41,763.93 L688.82,763.80 L689.23,763.67 L689.65,763.55 L690.07,763.44 L690.51,763.33 L690.94,763.22 L691.38,763.11 L691.82,763.01 L692.26,762.90 L692.69,762.79 L693.12,762.68 L693.55,762.57 L693.97,762.45 L694.39,762.33 L694.79,762.20 L695.19,762.06 L695.57,761.92 L695.94,761.77 L696.30,761.61 L696.65,761.44 L696.97,761.26 L697.28,761.07 L697.57,760.87 L697.85,760.66 L698.10,760.45 L698.33,760.22 L698.55,759.99 L698.74,759.75 L698.91,759.51 L699.05,759.25 L699.18,759.00 L699.28,758.74 L699.36,758.47 L699.41,758.20 L699.44,757.94 L699.45,757.67 L699.43,757.40 L699.39,757.14 L699.32,756.88 L699.24,756.63 L699.13,756.38 L698.99,756.14 L698.84,755.91 L698.66,755.68 L698.46,755.47 L698.24,755.27 L698.00,755.07 L697.75,754.89 L697.47,754.73 L697.18,754.57 L696.86,754.43 L696.54,754.30 L696.19,754.19 L695.84,754.09 L695.46,754.00 L695.08,753.92 L694.69,753.86 L694.28,753.80 L693.86,753.76 L693.44,753.72 L693.01,753.70 L692.57,753.68 L692.13,753.66 L691.68,753.65 L691.24,753.64 L690.79,753.64 L690.33,753.64 L689.88,753.63 L689.43,753.62 L688.99,753.61 L688.55,753.60 L688.11,753.57 L687.68,753.54 L687.26,753.50 L686.84,753.46 L686.44,753.40 L686.04,753.33 L685.66,753.24 L685.29,753.14 L684.94,753.03 L684.59,752.91 L684.27,752.77 L683.96,752.62 L683.67,752.45 L683.39,752.27 L683.14,752.08 L682.90,751.87 L682.69,751.65 L682.50,751.42 L682.33,751.18 L682.18,750.93 L682.05,750.67 L681.95,750.41 L681.87,750.14 L681.81,749.86 L681.78,749.58 L681.77,749.30 L681.79,749.02 L681.83,748.74 L681.89,748.46 L681.98,748.18 L682.09,747.91 L682.23,747.65 L682.39,747.39 L682.57,747.14 L682.77,746.90 L683.00,746.67 L683.24,746.45 L683.51,746.24 L683.79,746.05 L684.10,745.86 L684.42,745.68 L684.76,745.52 L685.11,745.36 L685.48,745.22 L685.86,745.09 L686.25,744.97 L686.65,744.85 L687.07,744.75 L687.49,744.65 L687.92,744.55 L688.35,744.47 L688.79,744.38 L689.23,744.30 L689.68,744.22 L690.12,744.15 L690.56,744.07 L691.00,743.99 L691.44,743.90 L691.87,743.81 L692.30,743.72 L692.72,743.62 L693.13,743.51 L693.53,743.40 L693.91,743.28 L694.29,743.14 L694.65,743.00 L695.00,742.85 L695.33,742.69 L695.65,742.52 L695.94,742.33 L696.22,742.14 L696.48,741.94 L696.72,741.72 L696.94,741.50 L697.14,741.27 L697.32,741.03 L697.47,740.79 L697.60,740.54 L697.71,740.28 L697.79,740.02 L697.86,739.76 L697.89,739.49 L697.91,739.22 L697.90,738.96 L697.87,738.69 L697.81,738.43 L697.73,738.17 L697.63,737.92 L697.50,737.68 L697.35,737.44 L697.18,737.20 L696.99,736.98 L696.78,736.77 L696.54,736.57 L696.29,736.38 L696.02,736.20 L695.73,736.03 L695.42,735.87 L695.09,735.73 L694.75,735.60 L694.40,735.48 L694.03,735.37 L693.64,735.28 L693.25,735.19 L692.84,735.11 L692.43,735.05 L692.00,734.99 L691.57,734.94 L691.14,734.89 L690.69,734.85 L690.25,734.82 L689.80,734.78 L689.35,734.75 L688.90,734.72 L688.45,734.69 L688.01,734.65 L687.56,734.61 L687.12,734.56 L686.69,734.51 L686.27,734.45 L685.85,734.39 L685.44,734.31 L685.05,734.22 L684.66,734.12 L684.29,734.01 L683.93,733.89 L683.59,733.75 L683.26,733.60 L682.95,733.44 L682.66,733.26 L682.38,733.07 L682.13,732.87 L681.89,732.66 L681.68,732.43 L681.49,732.20 L681.32,731.95 L681.17,731.70 L681.04,731.44 L680.94,731.17 L680.86,730.89 L680.81,730.62 L680.78,730.34 L680.77,730.06 L680.79,729.78 L680.83,729.50 L680.90,729.22 L680.99,728.95 L681.10,728.68 L681.24,728.42 L681.40,728.17 L681.58,727.93 L681.78,727.69 L682.01,727.47 L682.25,727.26 L682.52,727.06 L682.81,726.87 L683.11,726.69 L683.43,726.53 L683.77,726.38 L684.12,726.24 L684.48,726.11 L684.86,725.99 L685.26,725.89 L685.66,725.79 L686.07,725.71 L686.49,725.63 L686.92,725.56 L687.36,725.50 L687.80,725.44 L688.24,725.38 L688.69,725.33 L689.14,725.28 L689.59,725.23 L690.03,725.18 L690.48,725.12 L690.92,725.06 L691.35,725.00 L691.78,724.93 L692.20,724.85 L692.61,724.77 L693.02,724.68 L693.41,724.57 L693.79,724.46 L694.15,724.34 L694.50,724.20 L694.84,724.06 L695.16,723.90 L695.46,723.73 L695.74,723.55 L696.01,723.36 L696.25,723.16 L696.48,722.95 L696.68,722.73 L696.87,722.50 L697.03,722.26 L697.17,722.02 L697.28,721.77 L697.37,721.51 L697.44,721.25 L697.49,720.98 L697.51,720.72 L697.51,720.45 L697.49,720.19 L697.44,719.92 L697.36,719.66 L697.27,719.41 L697.15,719.15 L697.01,718.91 L696.84,718.67 L696.66,718.44 L696.45,718.22 L696.22,718.00 L695.98,717.80 L695.71,717.61 L695.42,717.43 L695.12,717.26 L694.80,717.10 L694.46,716.95 L694.10,716.81 L693.74,716.69 L693.36,716.57 L692.96,716.46 L692.56,716.37 L692.15,716.28 L691.73,716.19 L691.30,716.12 L690.86,716.05 L690.42,715.98 L689.98,715.92 L689.53,715.86 L689.08,715.80 L688.64,715.74 L688.19,715.68 L687.75,715.61 L687.31,715.55 L686.88,715.47 L686.45,715.39 L686.03,715.30 L685.63,715.21 L685.23,715.10 L684.84,714.98 L684.47,714.86 L684.11,714.72 L683.77,714.57 L683.44,714.41 L683.13,714.23 L682.83,714.05 L682.56,713.85 L682.30,713.64 L682.07,713.42 L681.85,713.19 L681.66,712.95 L681.49,712.70 L681.34,712.44 L681.22,712.18 L681.12,711.91 L681.04,711.63 L680.99,711.35 L680.96,711.07 L680.96,710.79 L680.98,710.51 L681.02,710.23 L681.09,709.96 L681.18,709.69 L681.29,709.42 L681.43,709.17 L681.59,708.92 L681.77,708.68 L681.98,708.45 L682.20,708.23 L682.45,708.03 L682.72,707.84 L683.00,707.66 L683.30,707.49 L683.62,707.34 L683.96,707.20 L684.31,707.08 L684.67,706.96 L685.05,706.86 L685.44,706.77 L685.84,706.70 L686.25,706.63 L686.67,706.57 L687.10,706.53 L687.54,706.48 L687.98,706.45 L688.42,706.42 L688.87,706.39 L689.32,706.37 L689.77,706.35 L690.22,706.32 L690.67,706.30 L691.12,706.27 L691.56,706.24 L691.99,706.20 L692.42,706.15 L692.84,706.10 L693.26,706.04 L693.66,705.97 L694.05,705.88 L694.43,705.79 L694.80,705.69 L695.15,705.57 L695.49,705.44 L695.82,705.30 L696.12,705.15 L696.41,704.98 L696.68,704.80 L696.93,704.61 L697.16,704.41 L697.37,704.20 L697.56,703.98 L697.73,703.75 L697.87,703.51 L698.00,703.26 L698.10,703.01 L698.17,702.75 L698.23,702.49 L698.26,702.22 L698.26,701.96 L698.25,701.69 L698.21,701.43 L698.14,701.16 L698.05,700.90 L697.94,700.64 L697.81,700.39 L697.65,700.15 L697.47,699.91 L697.27,699.67 L697.05,699.45 L696.81,699.24 L696.55,699.03 L696.27,698.84 L695.97,698.65 L695.65,698.48 L695.31,698.31 L694.96,698.16 L694.60,698.01 L694.22,697.87 L693.83,697.75 L693.43,697.63 L693.02,697.51 L692.60,697.41 L692.18,697.31 L691.75,697.21 L691.31,697.12 L690.87,697.03 L690.43,696.95 L689.98,696.86 L689.54,696.77 L689.10,696.68 L688.67,696.59 L688.24,696.49 L687.81,696.39 L687.39,696.28 L686.99,696.16 L686.59,696.04 L686.20,695.91 L685.83,695.76 L685.47,695.61 L685.12,695.45 L684.79,695.27 L684.48,695.09 L684.19,694.89 L683.91,694.68 L683.66,694.46 L683.43,694.24 L683.21,694.00 L683.02,693.75 L682.85,693.50 L682.71,693.23 L682.58,692.96 L682.48,692.69 L682.41,692.41 L682.36,692.13 L682.33,691.85 L682.33,691.57 L682.35,691.29 L682.39,691.01 L682.46,690.74 L682.55,690.47 L682.67,690.21 L682.81,689.96 L682.97,689.71 L683.15,689.48 L683.36,689.26 L683.58,689.04 L683.83,688.85 L684.09,688.66 L684.38,688.49 L684.68,688.34 L684.99,688.19 L685.33,688.07 L685.68,687.95 L686.04,687.85 L686.42,687.77 L686.80,687.70 L687.20,687.64 L687.61,687.59 L688.03,687.55 L688.46,687.52 L688.89,687.51 L689.33,687.49 L689.77,687.49 L690.22,687.49 L690.67,687.49 L691.12,687.49 L691.57,687.50 L692.02,687.50 L692.47,687.50 L692.91,687.50 L693.35,687.49 L693.79,687.48 L694.22,687.46 L694.64,687.43 L695.05,687.39 L695.46,687.34 L695.85,687.27 L696.23,687.20 L696.60,687.11 L696.95,687.02 L697.29,686.90 L697.62,686.78 L697.93,686.64 L698.22,686.49 L698.49,686.32 L698.75,686.14 L698.98,685.95 L699.20,685.75 L699.40,685.53 L699.57,685.31 L699.72,685.08 L699.85,684.84 L699.96,684.59 L700.04,684.33 L700.11,684.07 L700.14,683.81 L700.16,683.55 L700.15,683.28 L700.12,683.01 L700.06,682.74 L699.98,682.48 L699.88,682.22 L699.75,681.96 L699.60,681.70 L699.43,681.46 L699.24,681.21 L699.02,680.98 L698.79,680.75 L698.53,680.54 L698.25,680.33 L697.96,680.13 L697.65,679.94 L697.32,679.75 L696.97,679.58 L696.61,679.42 L696.24,679.26 L695.86,679.11 L695.46,678.97 L695.05,678.83 L694.64,678.71 L694.22,678.58 L693.79,678.46 L693.36,678.34 L692.92,678.23 L692.49,678.11 L692.05,678.00 L691.62,677.88 L691.18,677.77 L690.76,677.65 L690.33,677.52 L689.92,677.39 L689.51,677.25 L689.12,677.11 L688.73,676.96 L688.36,676.80 L688.00,676.63 L687.66,676.45 L687.33,676.26 L687.02,676.06 L686.72,675.86 L686.45,675.64 L686.19,675.41 L685.96,675.18 L685.75,674.93 L685.56,674.68 L685.39,674.42 L685.24,674.15 L685.12,673.88 L685.03,673.60 L684.95,673.32 L684.90,673.04 L684.88,672.75 L684.88,672.47 L684.90,672.19 L684.95,671.91 L685.02,671.64 L685.11,671.38 L685.23,671.12 L685.37,670.87 L685.53,670.63 L685.71,670.40 L685.92,670.18 L686.14,669.97 L686.39,669.78 L686.65,669.60 L686.93,669.44 L687.23,669.29 L687.55,669.16 L687.88,669.05 L688.22,668.94 L688.58,668.86 L688.96,668.79 L689.34,668.73 L689.74,668.69 L690.14,668.66 L690.55,668.64 L690.98,668.63 L691.41,668.63 L691.84,668.64 L692.28,668.66 L692.73,668.68 L693.17,668.71 L693.62,668.74 L694.07,668.77 L694.52,668.81 L694.97,668.84 L695.42,668.86 L695.86,668.89 L696.30,668.90 L696.73,668.91 L697.16,668.92 L697.58,668.91 L697.99,668.89 L698.39,668.86 L698.79,668.82 L699.17,668.76 L699.54,668.70 L699.89,668.61 L700.23,668.52 L700.56,668.41 L700.87,668.28 L701.17,668.14 L701.44,667.99 L701.70,667.82 L701.94,667.64 L702.16,667.45 L702.36,667.24 L702.54,667.03 L702.70,666.80 L702.84,666.56 L702.96,666.32 L703.05,666.07 L703.12,665.81 L703.16,665.55 L703.19,665.28 L703.19,665.02 L703.16,664.75 L703.11,664.48 L703.04,664.21 L702.95,663.94 L702.83,663.67 L702.69,663.41 L702.52,663.16 L702.34,662.91 L702.13,662.66 L701.90,662.43 L701.65,662.19 L701.38,661.97 L701.09,661.76 L700.79,661.55 L700.46,661.35 L700.12,661.16 L699.77,660.97 L699.40,660.80 L699.02,660.63 L698.63,660.46 L698.23,660.31 L697.82,660.15 L697.41,660.01 L696.99,659.86 L696.56,659.72 L696.14,659.58 L695.71,659.44 L695.28,659.29 L694.85,659.15 L694.43,659.01 L694.01,658.86 L693.60,658.71 L693.20,658.55 L692.80,658.38 L692.42,658.21 L692.05,658.04 L691.69,657.85 L691.35,657.66 L691.02,657.45 L690.71,657.24 L690.42,657.02 L690.15,656.80 L689.90,656.56 L689.66,656.31 L689.45,656.06 L689.26,655.80 L689.10,655.53 L688.95,655.26 L688.83,654.98 L688.74,654.70 L688.67,654.42 L688.62,654.13 L688.59,653.85 L688.59,653.57 L688.62,653.29 L688.67,653.01 L688.74,652.74 L688.84,652.47 L688.95,652.21 L689.09,651.97 L689.26,651.73 L689.44,651.50 L689.65,651.29 L689.87,651.09 L690.11,650.90 L690.38,650.73 L690.66,650.58 L690.95,650.44 L691.27,650.32 L691.60,650.21 L691.94,650.12 L692.29,650.05 L692.66,649.99 L693.04,649.94 L693.43,649.92 L693.83,649.90 L694.24,649.90 L694.66,649.91 L695.09,649.93 L695.52,649.97 L695.95,650.01 L696.39,650.05 L696.83,650.11 L697.28,650.16 L697.73,650.22 L698.17,650.28 L698.62,650.34 L699.07,650.40 L699.51,650.45 L699.95,650.50 L700.38,650.54 L700.81,650.57 L701.24,650.60 L701.65,650.61 L702.06,650.62 L702.46,650.61 L702.85,650.59 L703.23,650.55 L703.60,650.50 L703.96,650.43 L704.30,650.35 L704.63,650.26 L704.94,650.15 L705.24,650.02 L705.52,649.88 L705.78,649.72 L706.02,649.55 L706.25,649.37 L706.46,649.17 L706.64,648.96 L706.81,648.74 L706.95,648.51 L707.07,648.27 L707.17,648.02 L707.25,647.77 L707.30,647.51 L707.33,647.24 L707.34,646.97 L707.33,646.70 L707.29,646.43 L707.22,646.16 L707.14,645.88 L707.03,645.61 L706.89,645.35 L706.74,645.08 L706.56,644.82 L706.36,644.57 L706.14,644.32 L705.89,644.07 L705.63,643.84 L705.35,643.61 L705.05,643.38 L704.74,643.17 L704.41,642.96 L704.06,642.76 L703.70,642.56 L703.33,642.37 L702.94,642.18 L702.55,642.00 L702.15,641.83 L701.74,641.65 L701.33,641.48 L700.91,641.32 L700.49,641.15 L700.07,640.98 L699.65,640.81 L699.24,640.64 L698.83,640.47 L698.42,640.30 L698.02,640.12 L697.64,639.93 L697.26,639.74 L696.89,639.55 L696.53,639.35 L696.19,639.14 L695.87,638.92 L695.56,638.69 L695.27,638.46 L695.00,638.22 L694.75,637.97 L694.52,637.72 L694.31,637.46 L694.12,637.19 L693.96,636.92 L693.82,636.64 L693.70,636.36 L693.60,636.07 L693.53,635.79 L693.49,635.50 L693.47,635.21 L693.47,634.93 L693.50,634.65 L693.55,634.37 L693.62,634.10 L693.72,633.83 L693.84,633.58 L693.98,633.33 L694.14,633.10 L694.33,632.87 L694.53,632.66 L694.75,632.47 L695.00,632.29 L695.26,632.12 L695.54,631.98 L695.83,631.84 L696.14,631.73 L696.47,631.63 L696.81,631.55 L697.16,631.49 L697.52,631.44 L697.90,631.41 L698.28,631.40 L698.68,631.40 L699.08,631.42 L699.49,631.44 L699.91,631.49 L700.34,631.54 L700.77,631.60 L701.20,631.67 L701.64,631.74 L702.08,631.83 L702.52,631.91 L702.96,632.00 L703.40,632.08 L703.84,632.17 L704.28,632.25 L704.72,632.33 L705.16,632.41 L705.59,632.47 L706.01,632.53 L706.43,632.58 L706.85,632.61 L707.25,632.64 L707.65,632.65 L708.04,632.64 L708.41,632.63 L708.78,632.59 L709.13,632.54 L709.48,632.48 L709.80,632.40 L710.12,632.30 L710.42,632.19 L710.70,632.06 L710.96,631.91 L711.21,631.75 L711.44,631.58 L711.65,631.39 L711.85,631.19 L712.02,630.97 L712.17,630.75 L712.30,630.51 L712.40,630.27 L712.49,630.02 L712.55,629.76 L712.59,629.49 L712.60,629.22 L712.60,628.95 L712.57,628.67 L712.51,628.40 L712.43,628.12 L712.33,627.84 L712.21,627.57 L712.06,627.30 L711.89,627.03 L711.70,626.76 L711.48,626.50 L711.25,626.25 L711.00,626.00 L710.72,625.75 L710.43,625.51 L710.13,625.28 L709.80,625.05 L709.46,624.83 L709.11,624.61 L708.75,624.40 L708.37,624.19 L707.99,623.99 L707.60,623.79 L707.20,623.59 L706.79,623.40 L706.39,623.21 L705.98,623.01 L705.57,622.82 L705.17,622.63 L704.76,622.43 L704.36,622.24 L703.97,622.03 L703.59,621.83 L703.22,621.62 L702.85,621.41 L702.50,621.19 L702.17,620.96 L701.85,620.73 L701.54,620.49 L701.25,620.24 L700.99,619.99 L700.74,619.73 L700.51,619.47 L700.30,619.20 L700.12,618.92 L699.95,618.64 L699.82,618.36 L699.70,618.07 L699.61,617.78 L699.54,617.49 L699.50,617.20 L699.48,616.91 L699.48,616.62 L699.51,616.34 L699.56,616.06 L699.64,615.79 L699.74,615.53 L699.86,615.27 L700.00,615.03 L700.16,614.80 L700.35,614.58 L700.55,614.37 L700.78,614.18 L701.02,614.01 L701.28,613.85 L701.55,613.70 L701.85,613.58 L702.15,613.47 L702.48,613.38 L702.81,613.31 L703.16,613.26 L703.52,613.23 L703.89,613.21 L704.27,613.21 L704.66,613.22 L705.05,613.25 L705.46,613.30 L705.87,613.36 L706.29,613.43 L706.71,613.51 L707.13,613.60 L707.56,613.70 L708.00,613.80 L708.43,613.91 L708.87,614.03 L709.30,614.14 L709.74,614.26 L710.18,614.37 L710.61,614.48 L711.04,614.58 L711.47,614.68 L711.89,614.77 L712.31,614.85 L712.73,614.92 L713.13,614.97 L713.53,615.02 L713.93,615.05 L714.31,615.06 L714.68,615.06 L715.05,615.05 L715.40,615.01 L715.74,614.96 L716.07,614.90 L716.38,614.81 L716.68,614.71 L716.97,614.59 L717.24,614.46 L717.49,614.31 L717.72,614.14 L717.94,613.96 L718.14,613.77 L718.31,613.56 L718.47,613.34 L718.60,613.11 L718.72,612.87 L718.81,612.62 L718.88,612.36 L718.93,612.10 L718.95,611.83 L718.95,611.55 L718.93,611.28 L718.88,611.00 L718.82,610.71 L718.72,610.43 L718.61,610.15 L718.47,609.87 L718.31,609.59 L718.13,609.32 L717.92,609.04 L717.70,608.78 L717.45,608.51 L717.19,608.25 L716.91,608.00 L716.61,607.75 L716.29,607.50 L715.96,607.26 L715.62,607.02 L715.27,606.79 L714.90,606.56 L714.53,606.34 L714.15,606.12 L713.76,605.90 L713.37,605.68 L712.97,605.46 L712.58,605.24 L712.18,605.03 L711.79,604.81 L711.40,604.59 L711.02,604.36 L710.64,604.14 L710.28,603.91 L709.92,603.68 L709.58,603.44 L709.24,603.19 L708.93,602.95 L708.63,602.69 L708.34,602.43 L708.08,602.17 L707.83,601.90 L707.61,601.62 L707.41,601.34 L707.22,601.06 L707.06,600.77 L706.93,600.48 L706.81,600.19 L706.72,599.89 L706.66,599.60 L706.62,599.31 L706.60,599.01 L706.61,598.73 L706.64,598.44 L706.69,598.16 L706.77,597.89 L706.87,597.63 L706.99,597.38 L707.13,597.13 L707.30,596.90 L707.48,596.69 L707.69,596.48 L707.91,596.30 L708.15,596.13 L708.41,595.97 L708.69,595.83 L708.98,595.72 L709.28,595.62 L709.60,595.53 L709.93,595.47 L710.27,595.43 L710.63,595.40 L710.99,595.40 L711.37,595.41 L711.75,595.44 L712.14,595.48 L712.53,595.54 L712.94,595.62 L713.35,595.71 L713.76,595.81 L714.18,595.92 L714.60,596.04 L715.02,596.17 L715.45,596.30 L715.88,596.44 L716.30,596.58 L716.73,596.72 L717.16,596.86 L717.59,597.00 L718.01,597.13 L718.44,597.26 L718.86,597.38 L719.27,597.49 L719.68,597.59 L720.09,597.68 L720.49,597.76 L720.89,597.82 L721.27,597.87 L721.65,597.91 L722.02,597.92 L722.38,597.92 L722.74,597.91 L723.07,597.87 L723.40,597.82 L723.72,597.75 L724.02,597.66 L724.30,597.55 L724.57,597.43 L724.83,597.29 L725.07,597.13 L725.29,596.96 L725.49,596.77 L725.67,596.57 L725.83,596.36 L725.98,596.13 L726.10,595.90 L726.20,595.65 L726.27,595.39 L726.33,595.13 L726.36,594.86 L726.37,594.58 L726.36,594.30 L726.32,594.02 L726.26,593.73 L726.18,593.44 L726.07,593.16 L725.94,592.87 L725.79,592.58 L725.62,592.30 L725.42,592.01 L725.21,591.73 L724.97,591.45 L724.72,591.18 L724.45,590.91 L724.16,590.64 L723.86,590.38 L723.54,590.12 L723.21,589.86 L722.86,589.61 L722.51,589.36 L722.15,589.12 L721.78,588.87 L721.40,588.63 L721.02,588.39 L720.64,588.14 L720.26,587.90 L719.88,587.66 L719.50,587.42 L719.13,587.17 L718.77,586.93 L718.41,586.68 L718.06,586.43 L717.72,586.17 L717.40,585.91 L717.09,585.64 L716.79,585.38 L716.51,585.10 L716.25,584.83 L716.01,584.54 L715.79,584.26 L715.59,583.97 L715.41,583.67 L715.26,583.38 L715.12,583.08 L715.01,582.78 L714.93,582.48 L714.86,582.18 L714.83,581.89 L714.81,581.59 L714.82,581.30 L714.85,581.02 L714.91,580.74 L714.99,580.47 L715.09,580.20 L715.21,579.95 L715.36,579.71 L715.52,579.48 L715.71,579.27 L715.91,579.07 L716.14,578.88 L716.38,578.72 L716.63,578.57 L716.91,578.43 L717.20,578.32 L717.50,578.23 L717.81,578.15 L718.14,578.10 L718.48,578.06 L718.83,578.05 L719.18,578.05 L719.55,578.08 L719.93,578.12 L720.31,578.17 L720.70,578.25 L721.09,578.34 L721.49,578.44 L721.89,578.56 L722.30,578.69 L722.71,578.83 L723.13,578.98 L723.54,579.14 L723.96,579.30 L724.38,579.46 L724.80,579.63 L725.22,579.79 L725.63,579.96 L726.05,580.12 L726.47,580.28 L726.88,580.43 L727.29,580.58 L727.70,580.71 L728.10,580.83 L728.50,580.94 L728.89,581.04 L729.28,581.12 L729.66,581.19 L730.04,581.24 L730.40,581.27 L730.76,581.29 L731.11,581.29 L731.44,581.27 L731.77,581.23 L732.08,581.17 L732.39,581.09 L732.67,581.00 L732.94,580.89 L733.20,580.75 L733.44,580.61 L733.67,580.44 L733.87,580.26 L734.06,580.07 L734.23,579.86 L734.38,579.64 L734.51,579.41 L734.61,579.16 L734.70,578.91 L734.76,578.65 L734.81,578.38 L734.82,578.10 L734.82,577.82 L734.79,577.53 L734.74,577.24 L734.67,576.95 L734.57,576.65 L734.45,576.36 L734.31,576.06 L734.15,575.76 L733.97,575.47 L733.76,575.18 L733.54,574.89 L733.29,574.60 L733.03,574.31 L732.76,574.03 L732.46,573.75 L732.16,573.47 L731.84,573.20 L731.51,572.92 L731.16,572.65 L730.82,572.39 L730.46,572.12 L730.10,571.85 L729.73,571.59 L729.37,571.33 L729.00,571.06 L728.64,570.80 L728.28,570.53 L727.93,570.26 L727.58,569.99 L727.24,569.72 L726.91,569.45 L726.60,569.17 L726.29,568.89 L726.00,568.60 L725.73,568.32 L725.48,568.03 L725.24,567.73 L725.03,567.43 L724.83,567.13 L724.66,566.83 L724.50,566.53 L724.37,566.22 L724.27,565.92 L724.18,565.61 L724.12,565.31 L724.09,565.01 L724.08,564.71 L724.09,564.42 L724.12,564.13 L724.18,563.85 L724.26,563.58 L724.37,563.32 L724.49,563.06 L724.64,562.82 L724.80,562.60 L724.99,562.38 L725.20,562.19 L725.42,562.01 L725.66,561.84 L725.91,561.70 L726.19,561.57 L726.47,561.46 L726.77,561.37 L727.08,561.31 L727.40,561.26 L727.74,561.23 L728.08,561.22 L728.43,561.24 L728.79,561.27 L729.16,561.32 L729.53,561.39 L729.91,561.48 L730.30,561.58 L730.69,561.70 L731.08,561.84 L731.48,561.98 L731.88,562.14 L732.28,562.31 L732.68,562.49 L733.09,562.67 L733.50,562.86 L733.90,563.05 L734.31,563.24 L734.72,563.43 L735.13,563.62 L735.53,563.81 L735.94,563.99 L736.34,564.17 L736.74,564.33 L737.14,564.49 L737.53,564.63 L737.92,564.76 L738.31,564.88 L738.69,564.98 L739.06,565.06 L739.43,565.13 L739.79,565.18 L740.14,565.21 L740.49,565.22 L740.82,565.22 L741.14,565.19 L741.46,565.14 L741.76,565.08 L742.05,565.00 L742.32,564.89 L742.58,564.77 L742.82,564.63 L743.05,564.48 L743.26,564.31 L743.46,564.12 L743.63,563.92 L743.79,563.70 L743.92,563.47 L744.04,563.23 L744.13,562.98 L744.20,562.72 L744.25,562.45 L744.28,562.17 L744.28,561.88 L744.27,561.59 L744.23,561.30 L744.16,561.00 L744.08,560.70 L743.97,560.40 L743.84,560.09 L743.69,559.79 L743.51,559.48 L743.32,559.18 L743.11,558.87 L742.88,558.57 L742.63,558.27 L742.36,557.97 L742.08,557.67 L741.79,557.38 L741.48,557.09 L741.16,556.79 L740.84,556.50 L740.50,556.22 L740.16,555.93 L739.82,555.64 L739.47,555.36 L739.12,555.07 L738.77,554.78 L738.43,554.50 L738.09,554.21 L737.75,553.92 L737.42,553.63 L737.11,553.33 L736.80,553.04 L736.51,552.74 L736.23,552.44 L735.96,552.14 L735.71,551.83 L735.48,551.53 L735.27,551.22 L735.08,550.91 L734.91,550.60 L734.77,550.28 L734.64,549.97 L734.54,549.66 L734.46,549.35 L734.40,549.04 L734.37,548.73 L734.36,548.43 L734.38,548.14 L734.41,547.85 L734.47,547.57 L734.56,547.29 L734.66,547.03 L734.79,546.78 L734.94,546.54 L735.11,546.31 L735.29,546.10 L735.50,545.91 L735.72,545.73 L735.96,545.57 L736.22,545.43 L736.48,545.30 L736.77,545.20 L737.06,545.12 L737.37,545.06 L737.69,545.02 L738.02,545.00 L738.36,545.00 L738.70,545.02 L739.05,545.06 L739.41,545.12 L739.78,545.20 L740.15,545.30 L740.52,545.42 L740.90,545.55 L741.29,545.70 L741.67,545.86 L742.06,546.04 L742.45,546.23 L742.84,546.42 L743.24,546.62 L743.63,546.83 L744.02,547.05 L744.42,547.26 L744.81,547.48 L745.21,547.70 L745.60,547.91 L746.00,548.12 L746.39,548.32 L746.78,548.52 L747.17,548.71 L747.56,548.88 L747.94,549.04 L748.32,549.19 L748.69,549.33 L749.07,549.45 L749.43,549.55 L749.79,549.63 L750.15,549.70 L750.49,549.74 L750.83,549.77 L751.17,549.78 L751.49,549.76 L751.80,549.73 L752.10,549.68 L752.39,549.60 L752.66,549.51 L752.92,549.40 L753.17,549.27 L753.40,549.12 L753.62,548.96 L753.81,548.78 L754.00,548.58 L754.16,548.37 L754.30,548.14 L754.42,547.91 L754.52,547.66 L754.60,547.40 L754.66,547.13 L754.70,546.85 L754.71,546.56 L754.71,546.27 L754.68,545.97 L754.62,545.67 L754.55,545.36 L754.45,545.05 L754.33,544.74 L754.19,544.42 L754.03,544.11 L753.85,543.79 L753.65,543.47 L753.43,543.16 L753.20,542.84 L752.94,542.53 L752.68,542.22 L752.40,541.90 L752.11,541.59 L751.80,541.28 L751.49,540.97 L751.17,540.66 L750.85,540.36 L750.52,540.05 L750.19,539.74 L749.86,539.44 L749.53,539.13 L749.21,538.82 L748.89,538.51 L748.57,538.20 L748.27,537.89 L747.97,537.58 L747.69,537.26 L747.42,536.95 L747.16,536.63 L746.92,536.31 L746.70,535.99 L746.50,535.67 L746.31,535.35 L746.15,535.03 L746.01,534.71 L745.89,534.39 L745.79,534.07 L745.71,533.75 L745.66,533.44 L745.63,533.13 L745.63,532.82 L745.64,532.52 L745.69,532.23 L745.75,531.95 L745.83,531.67 L745.94,531.41 L746.07,531.16 L746.22,530.92 L746.39,530.70 L746.58,530.49 L746.78,530.29 L747.01,530.12 L747.25,529.96 L747.50,529.82 L747.77,529.70 L748.05,529.60 L748.34,529.52 L748.65,529.47 L748.96,529.43 L749.28,529.42 L749.62,529.43 L749.95,529.46 L750.30,529.51 L750.65,529.58 L751.01,529.67 L751.37,529.78 L751.74,529.91 L752.10,530.05 L752.47,530.21 L752.85,530.39 L753.22,530.58 L753.60,530.79 L753.98,531.00 L754.36,531.22 L754.74,531.45 L755.12,531.69 L755.50,531.93 L755.88,532.17 L756.26,532.41 L756.64,532.65 L757.02,532.88 L757.40,533.11 L757.78,533.34 L758.16,533.55 L758.54,533.76 L758.91,533.95 L759.28,534.14 L759.65,534.30 L760.02,534.45 L760.38,534.59 L760.74,534.71 L761.09,534.81 L761.44,534.89 L761.78,534.95 L762.11,534.99 L762.44,535.01 L762.76,535.01 L763.07,534.99 L763.37,534.94 L763.65,534.88 L763.93,534.80 L764.19,534.70 L764.44,534.58 L764.68,534.44 L764.90,534.28 L765.10,534.10 L765.29,533.91 L765.45,533.71 L765.60,533.49 L765.73,533.25 L765.84,533.00 L765.93,532.75 L766.00,532.48 L766.05,532.20 L766.07,531.91 L766.07,531.61 L766.05,531.31 L766.01,531.00 L765.95,530.69 L765.86,530.37 L765.76,530.05 L765.63,529.73 L765.48,529.41 L765.31,529.08 L765.13,528.75 L764.92,528.42 L764.70,528.09 L764.46,527.76 L764.21,527.43 L763.95,527.10 L763.67,526.78 L763.38,526.45 L763.09,526.12 L762.79,525.79 L762.48,525.47 L762.17,525.14 L761.86,524.81 L761.55,524.49 L761.24,524.16 L760.94,523.83 L760.64,523.50 L760.35,523.17 L760.06,522.84 L759.79,522.51 L759.53,522.18 L759.29,521.85 L759.06,521.52 L758.85,521.19 L758.65,520.85 L758.47,520.52 L758.32,520.19 L758.18,519.86 L758.07,519.53 L757.97,519.20 L757.90,518.88 L757.86,518.56 L757.83,518.24 L757.83,517.94 L757.85,517.63 L757.90,517.34 L757.96,517.05 L758.05,516.78 L758.16,516.51 L758.29,516.26 L758.44,516.02 L758.61,515.80 L758.80,515.59 L759.01,515.40 L759.23,515.23 L759.47,515.07 L759.72,514.94 L759.99,514.82 L760.27,514.73 L760.56,514.65 L760.86,514.60 L761.17,514.57 L761.49,514.56 L761.82,514.58 L762.15,514.61 L762.49,514.67 L762.83,514.75 L763.18,514.85 L763.53,514.97 L763.89,515.11 L764.24,515.26 L764.60,515.44 L764.96,515.63 L765.33,515.83 L765.69,516.05 L766.05,516.28 L766.42,516.52 L766.78,516.77 L767.15,517.02 L767.51,517.28 L767.88,517.55 L768.25,517.81 L768.61,518.07 L768.98,518.34 L769.34,518.59 L769.71,518.84 L770.07,519.09 L770.43,519.32 L770.79,519.55 L771.16,519.76 L771.51,519.96 L771.87,520.14 L772.23,520.31 L772.58,520.46 L772.93,520.60 L773.27,520.71 L773.61,520.80 L773.95,520.88 L774.28,520.93 L774.60,520.96 L774.92,520.98 L775.22,520.97 L775.52,520.94 L775.81,520.88 L776.08,520.81 L776.35,520.72 L776.60,520.61 L776.84,520.48 L777.06,520.33 L777.27,520.16 L777.46,519.97 L777.64,519.77 L777.79,519.55 L777.93,519.32 L778.05,519.08 L778.14,518.82 L778.22,518.55 L778.28,518.27 L778.31,517.98 L778.33,517.69 L778.32,517.38 L778.29,517.07 L778.23,516.75 L778.16,516.43 L778.07,516.10 L777.95,515.77 L777.82,515.43 L777.66,515.10 L777.49,514.76 L777.30,514.41 L777.09,514.07 L776.87,513.73 L776.64,513.38 L776.39,513.04 L776.13,512.69 L775.86,512.35 L775.58,512.00 L775.30,511.66 L775.01,511.31 L774.72,510.97 L774.43,510.62 L774.15,510.28 L773.86,509.93 L773.58,509.59 L773.30,509.24 L773.03,508.89 L772.78,508.55 L772.53,508.20 L772.30,507.86 L772.08,507.51 L771.87,507.16 L771.69,506.82 L771.52,506.47 L771.37,506.13 L771.24,505.79 L771.13,505.45 L771.05,505.12 L770.98,504.79 L770.94,504.46 L770.92,504.14 L770.92,503.83 L770.95,503.53 L771.00,503.23 L771.07,502.94 L771.16,502.66 L771.27,502.40 L771.40,502.15 L771.56,501.91 L771.73,501.69 L771.92,501.48 L772.13,501.29 L772.35,501.12 L772.59,500.96 L772.84,500.83 L773.11,500.72 L773.38,500.63 L773.67,500.56 L773.97,500.51 L774.28,500.48 L774.59,500.48 L774.91,500.50 L775.24,500.54 L775.57,500.61 L775.91,500.69 L776.25,500.80 L776.59,500.93 L776.93,501.08 L777.28,501.24 L777.63,501.43 L777.97,501.63 L778.32,501.85 L778.67,502.08 L779.02,502.32 L779.37,502.58 L779.72,502.84 L780.07,503.12 L780.42,503.39 L780.77,503.68 L781.12,503.96 L781.46,504.25 L781.81,504.53 L782.16,504.82 L782.51,505.09 L782.86,505.37 L783.21,505.63 L783.55,505.88 L783.90,506.12 L784.25,506.35 L784.59,506.57 L784.94,506.77 L785.28,506.95 L785.62,507.12 L785.96,507.27 L786.30,507.39 L786.63,507.50 L786.96,507.59 L787.28,507.66 L787.60,507.70 L787.91,507.73 L788.22,507.73 L788.51,507.71 L788.80,507.67 L789.08,507.60 L789.34,507.52 L789.60,507.42 L789.84,507.29 L790.07,507.15 L790.28,506.99 L790.47,506.81 L790.65,506.61 L790.82,506.40 L790.96,506.17 L791.09,505.93 L791.19,505.68 L791.28,505.41 L791.35,505.13 L791.39,504.84 L791.42,504.54 L791.42,504.23 L791.40,503.92 L791.36,503.59 L791.30,503.26 L791.22,502.93 L791.12,502.59 L791.00,502.24 L790.86,501.90 L790.70,501.54 L790.52,501.19 L790.33,500.84 L790.13,500.48 L789.91,500.12 L789.68,499.76 L789.44,499.40 L789.19,499.04 L788.93,498.68 L788.67,498.32 L788.40,497.95 L788.13,497.59 L787.87,497.23 L787.60,496.87 L787.34,496.50 L787.08,496.14 L786.83,495.78 L786.58,495.42 L786.35,495.06 L786.13,494.69 L785.92,494.34 L785.73,493.98 L785.56,493.62 L785.40,493.26 L785.26,492.91 L785.14,492.56 L785.04,492.22 L784.96,491.87 L784.90,491.54 L784.86,491.21 L784.85,490.88 L784.86,490.56 L784.89,490.25 L784.94,489.95 L785.01,489.66 L785.11,489.38 L785.22,489.12 L785.36,488.87 L785.51,488.63 L785.69,488.41 L785.88,488.20 L786.09,488.01 L786.31,487.84 L786.55,487.69 L786.80,487.56 L787.07,487.45 L787.34,487.36 L787.63,487.29 L787.93,487.25 L788.23,487.23 L788.54,487.23 L788.85,487.25 L789.17,487.30 L789.50,487.37 L789.83,487.46 L790.16,487.58 L790.49,487.71 L790.83,487.87 L791.16,488.04 L791.50,488.24 L791.83,488.45 L792.17,488.68 L792.50,488.92 L792.83,489.18 L793.17,489.45 L793.50,489.73 L793.83,490.02 L794.16,490.31 L794.49,490.62 L794.82,490.92 L795.16,491.23 L795.49,491.54 L795.82,491.84 L796.15,492.14 L796.48,492.44 L796.81,492.73 L797.14,493.01 L797.47,493.28 L797.80,493.54 L798.14,493.78 L798.47,494.02 L798.80,494.23 L799.13,494.43 L799.46,494.61 L799.79,494.77 L800.12,494.91 L800.44,495.03 L800.76,495.13 L801.08,495.21 L801.39,495.27 L801.70,495.30 L802.00,495.32 L802.29,495.31 L802.58,495.28 L802.86,495.22 L803.12,495.15 L803.38,495.05 L803.62,494.94 L803.86,494.80 L804.07,494.65 L804.27,494.47 L804.46,494.28 L804.63,494.08 L804.78,493.85 L804.92,493.61 L805.03,493.36 L805.13,493.09 L805.20,492.81 L805.26,492.52 L805.29,492.22 L805.31,491.91 L805.30,491.59 L805.28,491.26 L805.23,490.93 L805.16,490.59 L805.07,490.24 L804.97,489.89 L804.84,489.53 L804.70,489.17 L804.54,488.80 L804.37,488.44 L804.18,488.07 L803.98,487.69 L803.77,487.32 L803.55,486.95 L803.32,486.57 L803.08,486.19 L802.84,485.82 L802.60,485.44 L802.35,485.06 L802.10,484.68 L801.86,484.30 L801.62,483.92 L801.39,483.55 L801.16,483.17 L800.95,482.79 L800.74,482.42 L800.55,482.05 L800.37,481.68 L800.21,481.31 L800.06,480.94 L799.93,480.58 L799.82,480.22 L799.73,479.86 L799.65,479.51 L799.60,479.17 L799.57,478.83 L799.56,478.50 L799.58,478.18 L799.61,477.87 L799.67,477.56 L799.75,477.27 L799.85,476.99 L799.97,476.72 L800.10,476.47 L800.26,476.23 L800.44,476.01 L800.63,475.80 L800.84,475.62 L801.07,475.45 L801.30,475.30 L801.56,475.17 L801.82,475.06 L802.09,474.98 L802.38,474.91 L802.67,474.87 L802.97,474.85 L803.28,474.86 L803.59,474.89 L803.90,474.94 L804.22,475.02 L804.54,475.11 L804.86,475.23 L805.19,475.38 L805.51,475.54 L805.83,475.72 L806.16,475.92 L806.48,476.15 L806.80,476.38 L807.12,476.64 L807.44,476.91 L807.76,477.19 L808.07,477.48 L808.39,477.78 L808.70,478.10 L809.01,478.41 L809.32,478.74 L809.63,479.06 L809.95,479.39 L810.26,479.72 L810.57,480.04 L810.88,480.36 L811.19,480.67 L811.50,480.98 L811.82,481.28 L812.13,481.56 L812.45,481.84 L812.76,482.10 L813.08,482.34 L813.40,482.57 L813.72,482.79 L814.04,482.98 L814.36,483.15 L814.67,483.31 L814.99,483.44 L815.30,483.55 L815.61,483.64 L815.92,483.71 L816.22,483.76 L816.52,483.78 L816.81,483.78 L817.10,483.76 L817.37,483.72 L817.64,483.65 L817.90,483.56 L818.15,483.46 L818.38,483.33 L818.60,483.18 L818.81,483.01 L819.00,482.83 L819.18,482.63 L819.34,482.41 L819.48,482.17 L819.60,481.92 L819.71,481.65 L819.80,481.38 L819.86,481.08 L819.91,480.78 L819.93,480.47 L819.94,480.15 L819.93,479.81 L819.89,479.47 L819.84,479.13 L819.77,478.77 L819.68,478.41 L819.57,478.05 L819.44,477.67 L819.30,477.30 L819.15,476.92 L818.98,476.54 L818.80,476.15 L818.61,475.77 L818.40,475.38 L818.20,474.99 L817.98,474.60 L817.76,474.21 L817.54,473.81 L817.32,473.42 L817.10,473.03 L816.88,472.64 L816.67,472.24 L816.46,471.85 L816.26,471.46 L816.07,471.08 L815.89,470.69 L815.73,470.31 L815.58,469.93 L815.44,469.55 L815.32,469.18 L815.22,468.81 L815.14,468.44 L815.08,468.09 L815.03,467.74 L815.01,467.39 L815.01,467.06 L815.03,466.73 L815.07,466.41 L815.13,466.10 L815.21,465.81 L815.32,465.53 L815.44,465.26 L815.58,465.00 L815.74,464.76 L815.92,464.54 L816.12,464.34 L816.33,464.15 L816.55,463.98 L816.79,463.84 L817.04,463.71 L817.31,463.60 L817.58,463.52 L817.86,463.46 L818.15,463.42 L818.45,463.41 L818.75,463.42 L819.06,463.45 L819.37,463.51 L819.68,463.59 L819.99,463.69 L820.31,463.81 L820.62,463.96 L820.94,464.13 L821.25,464.32 L821.56,464.53 L821.87,464.76 L822.18,465.01 L822.48,465.27 L822.78,465.55 L823.08,465.84 L823.38,466.14 L823.68,466.46 L823.97,466.79 L824.27,467.12 L824.56,467.46 L824.85,467.80 L825.14,468.14 L825.43,468.49 L825.72,468.83 L826.01,469.18 L826.30,469.51 L826.59,469.84 L826.89,470.16 L827.18,470.48 L827.48,470.78 L827.78,471.07 L828.08,471.34 L828.38,471.60 L828.69,471.84 L828.99,472.07 L829.30,472.27 L829.60,472.46 L829.91,472.63 L830.22,472.77 L830.52,472.89 L830.83,473.00 L831.13,473.08 L831.43,473.13 L831.72,473.17 L832.01,473.18 L832.30,473.16 L832.57,473.13 L832.84,473.07 L833.10,472.99 L833.35,472.89 L833.59,472.77 L833.81,472.63 L834.02,472.47 L834.22,472.29 L834.41,472.09 L834.57,471.88 L834.72,471.65 L834.86,471.40 L834.97,471.13 L835.07,470.86 L835.15,470.57 L835.20,470.26 L835.24,469.95 L835.26,469.62 L835.26,469.29 L835.24,468.94 L835.20,468.59 L835.15,468.23 L835.07,467.86 L834.98,467.49 L834.87,467.11 L834.75,466.72 L834.61,466.33 L834.46,465.94 L834.30,465.54 L834.13,465.15 L833.95,464.74 L833.77,464.34 L833.57,463.94 L833.38,463.53 L833.18,463.13 L832.98,462.72 L832.79,462.32 L832.60,461.91 L832.41,461.51 L832.23,461.11 L832.06,460.71 L831.90,460.31 L831.75,459.91 L831.61,459.52 L831.49,459.13 L831.38,458.75 L831.29,458.37 L831.22,458.00 L831.17,457.64 L831.14,457.28 L831.12,456.93 L831.13,456.58 L831.15,456.25 L831.20,455.93 L831.27,455.62 L831.35,455.32 L831.46,455.04 L831.59,454.77 L831.73,454.51 L831.90,454.27 L832.08,454.05 L832.28,453.85 L832.49,453.66 L832.72,453.50 L832.96,453.35 L833.21,453.22 L833.47,453.12 L833.74,453.04 L834.03,452.98 L834.31,452.95 L834.61,452.94 L834.90,452.95 L835.21,452.98 L835.51,453.04 L835.82,453.13 L836.12,453.23 L836.43,453.36 L836.74,453.52 L837.04,453.69 L837.34,453.89 L837.64,454.10 L837.94,454.34 L838.23,454.59 L838.52,454.86 L838.81,455.15 L839.09,455.45 L839.37,455.77 L839.65,456.09 L839.93,456.43 L840.20,456.77 L840.47,457.13 L840.74,457.48 L841.01,457.85 L841.28,458.21 L841.55,458.57 L841.82,458.93 L842.09,459.29 L842.36,459.64 L842.63,459.98 L842.90,460.32 L843.18,460.65 L843.46,460.96 L843.74,461.26 L844.02,461.55 L844.31,461.82 L844.60,462.08 L844.89,462.31 L845.18,462.53 L845.48,462.73 L845.78,462.91 L846.07,463.06 L846.37,463.20 L846.67,463.31 L846.96,463.40 L847.26,463.47 L847.55,463.51 L847.84,463.53 L848.12,463.53 L848.39,463.50 L848.66,463.45 L848.92,463.38 L849.17,463.29 L849.41,463.18 L849.64,463.04 L849.86,462.89 L850.07,462.71 L850.26,462.52 L850.43,462.31 L850.59,462.08 L850.73,461.84 L850.86,461.58 L850.96,461.30 L851.05,461.01 L851.12,460.71 L851.17,460.39 L851.21,460.06 L851.22,459.72 L851.21,459.37 L851.19,459.02 L851.15,458.65 L851.09,458.27 L851.02,457.89 L850.93,457.51 L850.83,457.11 L850.71,456.71 L850.58,456.31 L850.44,455.90 L850.29,455.49 L850.13,455.08 L849.97,454.67 L849.80,454.25 L849.63,453.84 L849.46,453.42 L849.29,453.00 L849.12,452.59 L848.95,452.17 L848.79,451.76 L848.64,451.35 L848.50,450.94 L848.37,450.53 L848.25,450.13 L848.14,449.73 L848.05,449.34 L847.97,448.95 L847.91,448.57 L847.87,448.20 L847.84,447.83 L847.84,447.48 L847.85,447.13 L847.89,446.79 L847.94,446.47 L848.01,446.15 L848.11,445.85 L848.22,445.57 L848.35,445.29 L848.50,445.04 L848.67,444.80 L848.85,444.57 L849.05,444.37 L849.27,444.19 L849.49,444.02 L849.74,443.88 L849.99,443.75 L850.25,443.65 L850.52,443.57 L850.80,443.52 L851.09,443.48 L851.38,443.48 L851.67,443.49 L851.97,443.53 L852.27,443.59 L852.57,443.68 L852.87,443.79 L853.17,443.92 L853.47,444.08 L853.76,444.26 L854.05,444.46 L854.34,444.68 L854.63,444.92 L854.91,445.18 L855.18,445.46 L855.45,445.75 L855.72,446.06 L855.99,446.38 L856.25,446.72 L856.50,447.07 L856.75,447.42 L857.01,447.79 L857.25,448.16 L857.50,448.53 L857.75,448.91 L857.99,449.29 L858.24,449.67 L858.48,450.04 L858.73,450.41 L858.98,450.78 L859.23,451.14 L859.49,451.49 L859.74,451.83 L860.00,452.15 L860.27,452.47 L860.53,452.77 L860.80,453.05 L861.08,453.31 L861.36,453.56 L861.64,453.79 L861.92,454.00 L862.21,454.19 L862.49,454.35 L862.78,454.50 L863.07,454.62 L863.36,454.72 L863.65,454.80 L863.94,454.85 L864.22,454.88 L864.50,454.88 L864.78,454.87 L865.04,454.83 L865.31,454.77 L865.56,454.68 L865.80,454.58 L866.04,454.45 L866.26,454.30 L866.47,454.13 L866.67,453.95 L866.85,453.74 L867.02,453.51 L867.17,453.27 L867.30,453.01 L867.42,452.74 L867.52,452.45 L867.60,452.15 L867.67,451.83 L867.71,451.50 L867.74,451.16 L867.75,450.81 L867.75,450.44 L867.72,450.07 L867.68,449.69 L867.63,449.30 L867.55,448.91 L867.47,448.51 L867.37,448.10 L867.27,447.69 L867.15,447.27 L867.02,446.85 L866.89,446.43 L866.75,446.01 L866.60,445.58 L866.46,445.16 L866.31,444.73 L866.17,444.30 L866.03,443.88 L865.89,443.45 L865.76,443.03 L865.63,442.61 L865.52,442.20 L865.42,441.78 L865.33,441.38 L865.25,440.98 L865.19,440.58 L865.14,440.19 L865.11,439.81 L865.09,439.44 L865.10,439.08 L865.12,438.73 L865.16,438.38 L865.23,438.05 L865.31,437.74 L865.41,437.43 L865.52,437.14 L865.66,436.87 L865.81,436.61 L865.99,436.37 L866.17,436.15 L866.38,435.94 L866.59,435.76 L866.82,435.60 L867.07,435.45 L867.32,435.33 L867.58,435.23 L867.85,435.15 L868.13,435.10 L868.42,435.07 L868.70,435.06 L869.00,435.08 L869.29,435.12 L869.59,435.19 L869.88,435.28 L870.17,435.39 L870.47,435.53 L870.76,435.69 L871.04,435.87 L871.32,436.08 L871.60,436.30 L871.87,436.55 L872.14,436.81 L872.40,437.09 L872.66,437.39 L872.91,437.71 L873.15,438.04 L873.40,438.38 L873.63,438.74 L873.87,439.10 L874.10,439.48 L874.32,439.86 L874.55,440.25 L874.77,440.64 L874.99,441.03 L875.21,441.42 L875.44,441.81 L875.66,442.20 L875.88,442.59 L876.11,442.96 L876.34,443.33 L876.57,443.69 L876.81,444.04 L877.05,444.38 L877.30,444.71 L877.55,445.02 L877.80,445.31 L878.06,445.59 L878.32,445.84 L878.59,446.08 L878.86,446.30 L879.14,446.50 L879.42,446.67 L879.70,446.83 L879.98,446.96 L880.26,447.07 L880.54,447.15 L880.83,447.22 L881.11,447.26 L881.39,447.27 L881.66,447.26 L881.93,447.23 L882.19,447.18 L882.45,447.10 L882.69,447.00 L882.93,446.88 L883.16,446.74 L883.37,446.58 L883.58,446.40 L883.77,446.20 L883.94,445.98 L884.10,445.74 L884.25,445.48 L884.38,445.21 L884.49,444.92 L884.58,444.62 L884.66,444.30 L884.72,443.97 L884.76,443.62 L884.79,443.27 L884.80,442.90 L884.79,442.53 L884.77,442.14 L884.73,441.75 L884.68,441.35 L884.62,440.94 L884.54,440.53 L884.46,440.11 L884.36,439.68 L884.26,439.26 L884.15,438.83 L884.04,438.39 L883.92,437.96 L883.80,437.52 L883.68,437.09 L883.56,436.66 L883.45,436.22 L883.34,435.79 L883.24,435.36 L883.14,434.94 L883.06,434.52 L882.98,434.10 L882.92,433.69 L882.87,433.29 L882.84,432.90 L882.82,432.51 L882.82,432.13 L882.84,431.76 L882.87,431.40 L882.92,431.06 L882.99,430.72 L883.08,430.40 L883.19,430.10 L883.31,429.80 L883.45,429.53 L883.61,429.27 L883.79,429.03 L883.98,428.80 L884.18,428.60 L884.40,428.42 L884.64,428.25 L884.88,428.11 L885.13,427.99 L885.40,427.89 L885.67,427.82 L885.95,427.77 L886.23,427.74 L886.52,427.73 L886.81,427.75 L887.10,427.80 L887.39,427.87 L887.68,427.96 L887.97,428.07 L888.25,428.21 L888.53,428.38 L888.81,428.56 L889.08,428.77 L889.35,429.00 L889.61,429.25 L889.86,429.52 L890.11,429.80 L890.35,430.11 L890.59,430.43 L890.82,430.76 L891.04,431.11 L891.26,431.47 L891.47,431.85 L891.68,432.23 L891.88,432.62 L892.09,433.02 L892.29,433.42 L892.48,433.82 L892.68,434.23 L892.88,434.63 L893.08,435.04 L893.28,435.44 L893.48,435.83 L893.68,436.22 L893.89,436.60 L894.10,436.97 L894.32,437.33 L894.54,437.68 L894.77,438.01 L895.00,438.33 L895.24,438.63 L895.48,438.92 L895.73,439.19 L895.98,439.43 L896.24,439.66 L896.51,439.87 L896.77,440.05 L897.05,440.22 L897.32,440.36 L897.60,440.48 L897.87,440.57 L898.15,440.64 L898.43,440.69 L898.71,440.71 L898.98,440.72 L899.25,440.69 L899.51,440.65 L899.77,440.58 L900.02,440.49 L900.26,440.37 L900.49,440.24 L900.71,440.08 L900.92,439.91 L901.12,439.71 L901.30,439.49 L901.47,439.26 L901.63,439.01 L901.77,438.74 L901.89,438.45 L902.00,438.15 L902.09,437.83 L902.17,437.50 L902.22,437.15 L902.27,436.80 L902.29,436.43 L902.30,436.05 L902.30,435.66 L902.28,435.26 L902.25,434.86 L902.21,434.44 L902.16,434.02 L902.09,433.60 L902.02,433.17 L901.94,432.73 L901.86,432.30 L901.77,431.86 L901.68,431.41 L901.58,430.97 L901.49,430.53 L901.40,430.09 L901.32,429.65 L901.24,429.22 L901.16,428.79 L901.10,428.36 L901.04,427.93 L901.00,427.52 L900.97,427.11 L900.95,426.71 L900.95,426.31 L900.96,425.93 L900.99,425.55 L901.03,425.19 L901.09,424.84 L901.17,424.50 L901.27,424.18 L901.38,423.87 L901.51,423.57 L901.66,423.30 L901.82,423.04 L902.00,422.79 L902.20,422.57 L902.41,422.37 L902.63,422.18 L902.87,422.02 L903.11,421.88 L903.37,421.76 L903.63,421.66 L903.90,421.59 L904.18,421.54 L904.46,421.51 L904.75,421.51 L905.03,421.53 L905.32,421.58 L905.61,421.65 L905.89,421.75 L906.18,421.86 L906.46,422.01 L906.73,422.17 L907.00,422.36 L907.26,422.57 L907.52,422.80 L907.77,423.05 L908.01,423.32 L908.25,423.61 L908.47,423.92 L908.69,424.24 L908.90,424.58 L909.11,424.94 L909.31,425.31 L909.50,425.68 L909.69,426.07 L909.87,426.47 L910.05,426.87 L910.23,427.28 L910.40,427.70 L910.57,428.11 L910.75,428.53 L910.92,428.95 L911.09,429.36 L911.27,429.77 L911.44,430.18 L911.63,430.58 L911.81,430.97 L912.00,431.34 L912.20,431.71 L912.40,432.07 L912.61,432.41 L912.82,432.74 L913.04,433.05 L913.27,433.34 L913.51,433.62 L913.75,433.87 L913.99,434.11 L914.25,434.32 L914.50,434.52 L914.77,434.69 L915.03,434.84 L915.30,434.97 L915.58,435.07 L915.85,435.15 L916.12,435.21 L916.40,435.24 L916.67,435.25 L916.94,435.23 L917.20,435.20 L917.46,435.14 L917.71,435.05 L917.96,434.95 L918.19,434.82 L918.42,434.67 L918.64,434.50 L918.84,434.31 L919.03,434.10 L919.21,433.86 L919.38,433.62 L919.53,433.35 L919.67,433.06 L919.79,432.76 L919.89,432.45 L919.98,432.12 L920.06,431.77 L920.11,431.41 L920.16,431.04 L920.19,430.66 L920.20,430.27 L920.21,429.87 L920.20,429.46 L920.18,429.04 L920.14,428.61 L920.10,428.18 L920.06,427.75 L920.00,427.31 L919.94,426.86 L919.88,426.42 L919.81,425.97 L919.75,425.53 L919.69,425.08 L919.62,424.64 L919.57,424.20 L919.52,423.76 L919.47,423.32 L919.44,422.89 L919.41,422.47 L919.40,422.05 L919.40,421.65 L919.41,421.25 L919.43,420.86 L919.47,420.48 L919.53,420.11 L919.60,419.76 L919.69,419.41 L919.80,419.09 L919.92,418.77 L920.06,418.48 L920.21,418.20 L920.38,417.94 L920.57,417.69 L920.77,417.47 L920.98,417.27 L921.21,417.08 L921.44,416.92 L921.69,416.78 L921.95,416.66 L922.21,416.57 L922.49,416.50 L922.76,416.45 L923.04,416.42 L923.33,416.42 L923.61,416.45 L923.90,416.50 L924.18,416.57 L924.46,416.67 L924.74,416.79 L925.01,416.93 L925.28,417.10 L925.54,417.29 L925.80,417.50 L926.04,417.73 L926.28,417.98 L926.51,418.26 L926.73,418.55 L926.95,418.86 L927.15,419.19 L927.35,419.53 L927.54,419.89 L927.72,420.26 L927.89,420.64 L928.06,421.03 L928.22,421.44 L928.38,421.85 L928.53,422.26 L928.68,422.68 L928.83,423.11 L928.97,423.54 L929.12,423.96 L929.27,424.39 L929.41,424.81 L929.56,425.23 L929.72,425.64 L929.88,426.05 L930.04,426.45 L930.21,426.83 L930.38,427.21 L930.57,427.57 L930.75,427.92 L930.95,428.25 L931.16,428.57 L931.37,428.87 L931.59,429.16 L931.81,429.42 L932.05,429.66 L932.29,429.89 L932.54,430.09 L932.79,430.27 L933.05,430.43 L933.31,430.56 L933.58,430.67 L933.85,430.76 L934.12,430.83 L934.39,430.87 L934.66,430.88 L934.93,430.88 L935.19,430.85 L935.45,430.80 L935.71,430.72 L935.96,430.62 L936.20,430.50 L936.43,430.36 L936.65,430.19 L936.87,430.01 L937.07,429.80 L937.26,429.57 L937.43,429.33 L937.59,429.06 L937.74,428.78 L937.88,428.48 L938.00,428.17 L938.10,427.84 L938.19,427.49 L938.27,427.14 L938.33,426.76 L938.38,426.38 L938.41,425.99 L938.43,425.58 L938.45,425.17 L938.45,424.75 L938.44,424.32 L938.42,423.89 L938.40,423.45 L938.37,423.00 L938.34,422.56 L938.30,422.11 L938.26,421.66 L938.23,421.21 L938.19,420.76 L938.16,420.31 L938.13,419.87 L938.11,419.43 L938.09,419.00 L938.09,418.57 L938.09,418.15 L938.11,417.73 L938.14,417.33 L938.18,416.94 L938.23,416.55 L938.30,416.18 L938.39,415.82 L938.49,415.48 L938.60,415.15 L938.73,414.83 L938.88,414.54 L939.04,414.25 L939.22,413.99 L939.41,413.75 L939.61,413.52 L939.83,413.32 L940.06,413.14 L940.30,412.98 L940.55,412.84 L940.81,412.72 L941.07,412.63 L941.35,412.56 L941.62,412.51 L941.90,412.49 L942.19,412.49 L942.47,412.51 L942.75,412.56 L943.03,412.64 L943.31,412.74 L943.58,412.86 L943.85,413.00 L944.11,413.17 L944.37,413.36 L944.61,413.58 L944.85,413.81 L945.08,414.07 L945.30,414.34 L945.51,414.63 L945.71,414.95 L945.90,415.27 L946.08,415.62 L946.25,415.98 L946.42,416.35 L946.57,416.74 L946.72,417.13 L946.86,417.54 L946.99,417.95 L947.12,418.37 L947.25,418.80 L947.37,419.23 L947.49,419.67 L947.61,420.10 L947.73,420.54 L947.85,420.97 L947.97,421.40 L948.10,421.82 L948.23,422.24 L948.36,422.66 L948.50,423.06 L948.65,423.45 L948.80,423.83 L948.97,424.20 L949.14,424.56 L949.32,424.90 L949.50,425.22 L949.70,425.53 L949.90,425.82 L950.12,426.09 L950.34,426.34 L950.57,426.57 L950.81,426.78 L951.05,426.97 L951.30,427.13 L951.56,427.27 L951.82,427.39 L952.08,427.49 L952.35,427.56 L952.62,427.61 L952.88,427.64 L953.15,427.64 L953.42,427.62 L953.68,427.57 L953.94,427.51 L954.19,427.42 L954.44,427.30 L954.67,427.16 L954.90,427.01 L955.12,426.83 L955.33,426.63 L955.53,426.40 L955.72,426.16 L955.89,425.90 L956.05,425.62 L956.20,425.33 L956.33,425.02 L956.45,424.69 L956.56,424.34 L956.65,423.98 L956.73,423.61 L956.80,423.23 L956.85,422.83 L956.90,422.43 L956.93,422.01 L956.96,421.59 L956.97,421.16 L956.98,420.72 L956.98,420.28 L956.98,419.84 L956.97,419.39 L956.96,418.94 L956.95,418.49 L956.94,418.04 L956.94,417.59 L956.93,417.14 L956.93,416.70 L956.94,416.26 L956.96,415.83 L956.98,415.40 L957.02,414.98 L957.06,414.58 L957.12,414.18 L957.19,413.79 L957.27,413.42 L957.37,413.06 L957.48,412.71 L957.60,412.38 L957.74,412.06 L957.90,411.76 L958.07,411.48 L958.25,411.21 L958.45,410.97 L958.66,410.74 L958.88,410.54 L959.11,410.36 L959.36,410.20 L959.61,410.06 L959.87,409.94 L960.14,409.85 L960.41,409.78 L960.69,409.74 L960.97,409.72 L961.25,409.72 L961.53,409.75 L961.82,409.80 L962.09,409.87 L962.37,409.97 L962.64,410.10 L962.90,410.24 L963.16,410.41 L963.40,410.61 L963.64,410.82 L963.87,411.06 L964.09,411.31 L964.30,411.59 L964.50,411.88 L964.69,412.19 L964.86,412.52 L965.03,412.87 L965.18,413.23 L965.33,413.60 L965.47,413.99 L965.59,414.39 L965.71,414.79 L965.83,415.21 L965.93,415.63 L966.04,416.07 L966.13,416.50 L966.23,416.94 L966.32,417.38 L966.41,417.82 L966.50,418.26 L966.60,418.70 L966.70,419.14 L966.80,419.57 L966.90,419.99 L967.01,420.41 L967.13,420.82 L967.26,421.21 L967.39,421.60 L967.53,421.97 L967.68,422.33 L967.84,422.68 L968.02,423.01 L968.20,423.32 L968.39,423.62 L968.59,423.89 L968.80,424.15 L969.01,424.39 L969.24,424.60 L969.48,424.80 L969.72,424.97 L969.97,425.12 L970.22,425.25 L970.48,425.35 L970.74,425.43 L971.01,425.49 L971.27,425.52 L971.54,425.53 L971.81,425.52 L972.07,425.48 L972.33,425.42 L972.59,425.34 L972.84,425.23 L973.08,425.10 L973.32,424.95 L973.54,424.78 L973.76,424.58 L973.97,424.37 L974.17,424.13 L974.35,423.88 L974.53,423.60 L974.69,423.31 L974.83,423.00 L974.97,422.67 L975.09,422.33 L975.20,421.97 L975.30,421.60 L975.39,421.22 L975.46,420.82 L975.53,420.42 L975.59,420.00 L975.63,419.58 L975.67,419.15 L975.70,418.71 L975.73,418.27 L975.75,417.82 L975.77,417.37 L975.79,416.92 L975.81,416.47 L975.83,416.02 L975.85,415.57 L975.88,415.13 L975.91,414.69 L975.94,414.25 L975.99,413.83 L976.04,413.41 L976.11,413.00 L976.18,412.59 L976.27,412.20 L976.36,411.83 L976.47,411.46 L976.60,411.11 L976.73,410.78 L976.89,410.46 L977.05,410.16 L977.23,409.88 L977.42,409.61 L977.62,409.37 L977.84,409.14 L978.07,408.94 L978.30,408.76 L978.55,408.60 L978.81,408.46 L979.07,408.34 L979.34,408.25 L979.61,408.19 L979.89,408.14 L980.17,408.12 L980.45,408.13 L980.74,408.16 L981.01,408.21 L981.29,408.29 L981.56,408.39 L981.83,408.51 L982.08,408.66 L982.33,408.83 L982.58,409.03 L982.81,409.24 L983.03,409.48 L983.24,409.73 L983.44,410.01 L983.63,410.30 L983.80,410.61 L983.97,410.94 L984.12,411.29 L984.26,411.65 L984.39,412.02 L984.51,412.41 L984.62,412.81 L984.72,413.21 L984.81,413.63 L984.89,414.06 L984.97,414.49 L985.04,414.93 L985.11,415.37 L985.18,415.82 L985.25,416.26 L985.31,416.71 L985.38,417.15 L985.44,417.60 L985.51,418.03 L985.59,418.47 L985.67,418.90 L985.76,419.32 L985.86,419.73 L985.96,420.13 L986.07,420.52 L986.19,420.89 L986.33,421.26 L986.47,421.61 L986.62,421.94 L986.79,422.26 L986.96,422.56 L987.15,422.84 L987.35,423.10 L987.55,423.34 L987.77,423.57 L988.00,423.77 L988.23,423.95 L988.47,424.10 L988.72,424.24 L988.97,424.35 L989.23,424.44 L989.50,424.51 L989.76,424.55 L990.03,424.57 L990.29,424.56 L990.56,424.53 L990.82,424.48 L991.08,424.40 L991.33,424.30 L991.58,424.18 L991.83,424.04 L992.06,423.87 L992.29,423.68 L992.50,423.47 L992.71,423.24 L992.91,422.99 L993.09,422.72 L993.27,422.43 L993.43,422.12 L993.58,421.80 L993.72,421.46 L993.85,421.11 L993.97,420.74 L994.07,420.36 L994.17,419.96 L994.26,419.56 L994.34,419.14 L994.41,418.72 L994.47,418.29 L994.53,417.85 L994.58,417.41 L994.63,416.97 L994.67,416.52 L994.72,416.07 L994.77,415.62 L994.81,415.17 L994.86,414.73 L994.92,414.29 L994.98,413.85 L995.05,413.42 L995.12,413.00 L995.20,412.59 L995.29,412.19 L995.40,411.80 L995.51,411.42 L995.63,411.05 L995.77,410.70 L995.92,410.36 L996.08,410.04 L996.26,409.74 L996.44,409.46 L996.64,409.19 L996.85,408.95 L997.08,408.72 L997.31,408.52 L997.55,408.34 L997.80,408.18 L998.06,408.04 L998.33,407.93 L998.60,407.84 L998.88,407.77 L999.16,407.73 L999.44,407.72 L999.72,407.72 L1000.00,407.75 L1000.28,407.81 L1000.55,407.89 L1000.82,407.99 L1001.08,408.11 L1001.33,408.26 L1001.58,408.44 L1001.82,408.63 L1002.04,408.84 L1002.25,409.08 L1002.46,409.33 L1002.65,409.61 L1002.82,409.90 L1002.99,410.21 L1003.14,410.54 L1003.28,410.89 L1003.41,411.25 L1003.52,411.62 L1003.62,412.00 L1003.71,412.40 L1003.79,412.81 L1003.86,413.23 L1003.93,413.65 L1003.98,414.08 L1004.03,414.52 L1004.08,414.97 L1004.12,415.41 L1004.16,415.86 L1004.19,416.31 L1004.23,416.76 L1004.27,417.21 L1004.31,417.65 L1004.36,418.09 L1004.41,418.53 L1004.47,418.96 L1004.53,419.38 L1004.60,419.79 L1004.68,420.19 L1004.78,420.59 L1004.88,420.97 L1004.99,421.33 L1005.12,421.68 L1005.26,422.02 L1005.41,422.34 L1005.57,422.65 L1005.74,422.93 L1005.92,423.20 L1006.12,423.45 L1006.33,423.68 L1006.54,423.88 L1006.77,424.07 L1007.00,424.23 L1007.24,424.38 L1007.49,424.50 L1007.75,424.59 L1008.01,424.67 L1008.27,424.72 L1008.53,424.74 L1008.80,424.74 L1009.07,424.72 L1009.33,424.68 L1009.59,424.61 L1009.85,424.52 L1010.11,424.40 L1010.36,424.27 L1010.60,424.11 L1010.83,423.92 L1011.06,423.72 L1011.28,423.49 L1011.49,423.25 L1011.69,422.98 L1011.87,422.70 L1012.05,422.40 L1012.22,422.08 L1012.38,421.74 L1012.52,421.39 L1012.66,421.03 L1012.78,420.65 L1012.90,420.26 L1013.01,419.85 L1013.11,419.44 L1013.20,419.02 L1013.29,418.59 L1013.37,418.16 L1013.45,417.72 L1013.53,417.28 L1013.60,416.83 L1013.68,416.39 L1013.75,415.94 L1013.83,415.50 L1013.90,415.06 L1013.99,414.63 L1014.08,414.20 L1014.17,413.78 L1014.27,413.36 L1014.38,412.96 L1014.50,412.57 L1014.63,412.19 L1014.77,411.82 L1014.92,411.47 L1015.09,411.13 L1015.26,410.81 L1015.45,410.51 L1015.64,410.22 L1015.85,409.96 L1016.07,409.71 L1016.30,409.49 L1016.54,409.29 L1016.79,409.11 L1017.04,408.95 L1017.31,408.81 L1017.58,408.70 L1017.85,408.61 L1018.13,408.55 L1018.41,408.51 L1018.69,408.49 L1018.97,408.50 L1019.25,408.53 L1019.53,408.59 L1019.80,408.67 L1020.06,408.77 L1020.32,408.90 L1020.57,409.05 L1020.81,409.22 L1021.05,409.42 L1021.26,409.63 L1021.47,409.87 L1021.67,410.12 L1021.85,410.40 L1022.02,410.69 L1022.17,411.00 L1022.31,411.33 L1022.44,411.67 L1022.55,412.02 L1022.65,412.40 L1022.73,412.78 L1022.81,413.17 L1022.87,413.58 L1022.92,413.99 L1022.97,414.42 L1023.00,414.85 L1023.03,415.29 L1023.05,415.73 L1023.06,416.17 L1023.07,416.62 L1023.08,417.07 L1023.09,417.53 L1023.10,417.98 L1023.12,418.42 L1023.13,418.87 L1023.15,419.31 L1023.18,419.75 L1023.21,420.18 L1023.25,420.60 L1023.30,421.01 L1023.36,421.42 L1023.44,421.81 L1023.52,422.19 L1023.61,422.56 L1023.72,422.91 L1023.84,423.25 L1023.98,423.57 L1024.12,423.88 L1024.28,424.17 L1024.45,424.44 L1024.64,424.70 L1024.83,424.93 L1025.04,425.14 L1025.26,425.34 L1025.49,425.51 L1025.72,425.65 L1025.97,425.78 L1026.22,425.89 L1026.47,425.97 L1026.73,426.02 L1027.00,426.06 L1027.26,426.07 L1027.53,426.06 L1027.80,426.02 L1028.06,425.96 L1028.33,425.88 L1028.59,425.77 L1028.84,425.64 L1029.09,425.48 L1029.33,425.31 L1029.57,425.11 L1029.80,424.89 L1030.02,424.65 L1030.23,424.40 L1030.43,424.12 L1030.62,423.82 L1030.81,423.50 L1030.98,423.17 L1031.15,422.83 L1031.30,422.46 L1031.45,422.09 L1031.59,421.70 L1031.72,421.30 L1031.84,420.89 L1031.96,420.48 L1032.07,420.05 L1032.18,419.62 L1032.28,419.19 L1032.38,418.75 L1032.48,418.31 L1032.58,417.87 L1032.69,417.43 L1032.79,417.00 L1032.90,416.56 L1033.01,416.14 L1033.13,415.72 L1033.25,415.31 L1033.38,414.90 L1033.52,414.51 L1033.66,414.13 L1033.82,413.77 L1033.99,413.41 L1034.16,413.08 L1034.35,412.76 L1034.55,412.45 L1034.75,412.17 L1034.97,411.91 L1035.20,411.66 L1035.43,411.44 L1035.68,411.23 L1035.93,411.06 L1036.20,410.90 L1036.46,410.76 L1036.74,410.65 L1037.01,410.57 L1037.29,410.50 L1037.58,410.47 L1037.86,410.45 L1038.14,410.46 L1038.42,410.50 L1038.69,410.55 L1038.96,410.64 L1039.23,410.74 L1039.48,410.87 L1039.73,411.02 L1039.97,411.19 L1040.19,411.39 L1040.41,411.60 L1040.61,411.84 L1040.80,412.09 L1040.97,412.36 L1041.13,412.66 L1041.27,412.96 L1041.40,413.29 L1041.52,413.63 L1041.62,413.98 L1041.70,414.35 L1041.77,414.73 L1041.83,415.12 L1041.88,415.52 L1041.91,415.94 L1041.93,416.36 L1041.95,416.79 L1041.95,417.22 L1041.95,417.66 L1041.94,418.10 L1041.93,418.55 L1041.91,419.00 L1041.89,419.45 L1041.87,419.90 L1041.86,420.35 L1041.84,420.80 L1041.83,421.24 L1041.83,421.68 L1041.83,422.12 L1041.84,422.55 L1041.86,422.97 L1041.89,423.38 L1041.92,423.78 L1041.98,424.18 L1042.04,424.56 L1042.12,424.93 L1042.21,425.28 L1042.31,425.62 L1042.43,425.95 L1042.56,426.26 L1042.71,426.55 L1042.87,426.83 L1043.04,427.08 L1043.23,427.32 L1043.43,427.54 L1043.63,427.74 L1043.85,427.92 L1044.08,428.07 L1044.32,428.20 L1044.57,428.32 L1044.82,428.40 L1045.08,428.47 L1045.34,428.51 L1045.61,428.53 L1045.88,428.53 L1046.15,428.50 L1046.41,428.45 L1046.68,428.37 L1046.95,428.27 L1047.21,428.15 L1047.46,428.00 L1047.72,427.83 L1047.96,427.64 L1048.20,427.43 L1048.43,427.20 L1048.66,426.95 L1048.87,426.67 L1049.08,426.38 L1049.28,426.07 L1049.47,425.75 L1049.65,425.41 L1049.83,425.05 L1049.99,424.68 L1050.15,424.30 L1050.31,423.90 L1050.45,423.50 L1050.59,423.09 L1050.73,422.67 L1050.86,422.25 L1050.99,421.82 L1051.12,421.39 L1051.25,420.95 L1051.38,420.52 L1051.51,420.09 L1051.64,419.66 L1051.77,419.24 L1051.91,418.82 L1052.05,418.41 L1052.21,418.01 L1052.36,417.62 L1052.53,417.24 L1052.70,416.88 L1052.88,416.53 L1053.07,416.19 L1053.27,415.87 L1053.48,415.57 L1053.70,415.29 L1053.93,415.02 L1054.16,414.78 L1054.41,414.56 L1054.66,414.36 L1054.92,414.18 L1055.19,414.02 L1055.46,413.89 L1055.74,413.78 L1056.02,413.70 L1056.30,413.64 L1056.58,413.60 L1056.87,413.59 L1057.15,413.60 L1057.43,413.63 L1057.70,413.69 L1057.97,413.78 L1058.23,413.88 L1058.49,414.01 L1058.73,414.16 L1058.97,414.34 L1059.19,414.53 L1059.40,414.75 L1059.59,414.98 L1059.77,415.23 L1059.94,415.51 L1060.09,415.80 L1060.23,416.10 L1060.35,416.42 L1060.45,416.76 L1060.54,417.11 L1060.61,417.48 L1060.67,417.85 L1060.71,418.24 L1060.74,418.64 L1060.75,419.05 L1060.76,419.46 L1060.75,419.89 L1060.73,420.32 L1060.71,420.75 L1060.68,421.19 L1060.64,421.64 L1060.60,422.08 L1060.55,422.53 L1060.51,422.98 L1060.46,423.43 L1060.42,423.88 L1060.38,424.32 L1060.34,424.76 L1060.31,425.20 L1060.29,425.63 L1060.27,426.06 L1060.27,426.48 L1060.28,426.89 L1060.30,427.29 L1060.33,427.68 L1060.38,428.06 L1060.43,428.43 L1060.51,428.78 L1060.60,429.13 L1060.70,429.45 L1060.82,429.77 L1060.95,430.06 L1061.10,430.34 L1061.26,430.60 L1061.44,430.84 L1061.62,431.07 L1061.83,431.27 L1062.04,431.45 L1062.26,431.62 L1062.49,431.76 L1062.74,431.87 L1062.99,431.97 L1063.24,432.04 L1063.50,432.09 L1063.77,432.12 L1064.04,432.12 L1064.31,432.10 L1064.58,432.06 L1064.85,431.99 L1065.12,431.90 L1065.39,431.79 L1065.65,431.65 L1065.91,431.49 L1066.17,431.31 L1066.42,431.10 L1066.66,430.88 L1066.90,430.63 L1067.13,430.37 L1067.35,430.08 L1067.57,429.78 L1067.77,429.46 L1067.97,429.12 L1068.17,428.77 L1068.35,428.41 L1068.53,428.03 L1068.71,427.65 L1068.88,427.25 L1069.04,426.85 L1069.20,426.43 L1069.36,426.02 L1069.52,425.59 L1069.67,425.17 L1069.82,424.75 L1069.98,424.32 L1070.13,423.90 L1070.29,423.49 L1070.45,423.07 L1070.62,422.67 L1070.79,422.27 L1070.97,421.89 L1071.15,421.51 L1071.34,421.15 L1071.54,420.80 L1071.75,420.47 L1071.96,420.15 L1072.18,419.85 L1072.41,419.57 L1072.65,419.30 L1072.90,419.06 L1073.15,418.84 L1073.41,418.64 L1073.68,418.46 L1073.95,418.31 L1074.23,418.18 L1074.51,418.07 L1074.79,417.99 L1075.08,417.93 L1075.36,417.90 L1075.65,417.88 L1075.93,417.90 L1076.21,417.94 L1076.49,418.00 L1076.75,418.08 L1077.01,418.19 L1077.27,418.32 L1077.51,418.47 L1077.74,418.65 L1077.96,418.84 L1078.16,419.05 L1078.35,419.29 L1078.53,419.54 L1078.69,419.81 L1078.83,420.10 L1078.96,420.40 L1079.07,420.72 L1079.16,421.06 L1079.24,421.40 L1079.30,421.76 L1079.34,422.14 L1079.37,422.52 L1079.38,422.91 L1079.38,423.32 L1079.37,423.73 L1079.34,424.14 L1079.31,424.57 L1079.26,425.00 L1079.20,425.43 L1079.14,425.87 L1079.08,426.31 L1079.01,426.76 L1078.93,427.20 L1078.86,427.65 L1078.79,428.09 L1078.72,428.54 L1078.65,428.98 L1078.59,429.41 L1078.53,429.85 L1078.49,430.27 L1078.45,430.70 L1078.43,431.11 L1078.41,431.52 L1078.41,431.92 L1078.43,432.31 L1078.45,432.69 L1078.49,433.05 L1078.55,433.41 L1078.62,433.75 L1078.71,434.08 L1078.82,434.39 L1078.94,434.69 L1079.07,434.97 L1079.22,435.23 L1079.39,435.48 L1079.57,435.71 L1079.76,435.92 L1079.97,436.11 L1080.18,436.27 L1080.41,436.42 L1080.65,436.55 L1080.89,436.65 L1081.15,436.73 L1081.41,436.79 L1081.67,436.82 L1081.94,436.84 L1082.21,436.82 L1082.49,436.79 L1082.76,436.73 L1083.04,436.65 L1083.31,436.54 L1083.58,436.41 L1083.85,436.26 L1084.12,436.09 L1084.38,435.89 L1084.63,435.67 L1084.88,435.43 L1085.12,435.18 L1085.36,434.90 L1085.59,434.60 L1085.82,434.29 L1086.04,433.97 L1086.25,433.62 L1086.46,433.27 L1086.66,432.90 L1086.85,432.52 L1087.05,432.13 L1087.23,431.73 L1087.42,431.33 L1087.60,430.92 L1087.78,430.51 L1087.96,430.10 L1088.14,429.68 L1088.32,429.27 L1088.50,428.86 L1088.69,428.46 L1088.88,428.06 L1089.07,427.67 L1089.26,427.28 L1089.47,426.91 L1089.68,426.55 L1089.89,426.21 L1090.11,425.88 L1090.34,425.56 L1090.57,425.27 L1090.82,424.99 L1091.07,424.73 L1091.32,424.49 L1091.59,424.27 L1091.85,424.07 L1092.13,423.89 L1092.41,423.74 L1092.69,423.61 L1092.98,423.51 L1093.26,423.43 L1093.55,423.37 L1093.84,423.34 L1094.13,423.33 L1094.41,423.35 L1094.69,423.38 L1094.97,423.45 L1095.23,423.53 L1095.49,423.64 L1095.74,423.77 L1095.98,423.93 L1096.21,424.10 L1096.43,424.30 L1096.63,424.51 L1096.81,424.74 L1096.98,425.00 L1097.14,425.26 L1097.27,425.55 L1097.39,425.85 L1097.49,426.17 L1097.58,426.50 L1097.64,426.84 L1097.69,427.20 L1097.72,427.56 L1097.74,427.94 L1097.74,428.33 L1097.72,428.73 L1097.69,429.13 L1097.65,429.54 L1097.59,429.96 L1097.53,430.38 L1097.45,430.81 L1097.37,431.24 L1097.28,431.68 L1097.18,432.12 L1097.08,432.56 L1096.98,432.99 L1096.88,433.43 L1096.78,433.87 L1096.68,434.31 L1096.59,434.74 L1096.51,435.18 L1096.43,435.60 L1096.36,436.03 L1096.30,436.44 L1096.26,436.85 L1096.22,437.26 L1096.20,437.65 L1096.20,438.04 L1096.21,438.41 L1096.23,438.78 L1096.27,439.13 L1096.33,439.47 L1096.40,439.80 L1096.49,440.12 L1096.60,440.42 L1096.72,440.70 L1096.86,440.97 L1097.02,441.22 L1097.19,441.45 L1097.37,441.66 L1097.57,441.86 L1097.78,442.03 L1098.00,442.18 L1098.24,442.32 L1098.48,442.43 L1098.73,442.51 L1098.99,442.58 L1099.25,442.62 L1099.52,442.64 L1099.80,442.64 L1100.07,442.61 L1100.35,442.56 L1100.63,442.49 L1100.91,442.39 L1101.19,442.27 L1101.47,442.13 L1101.74,441.96 L1102.01,441.78 L1102.28,441.57 L1102.54,441.34 L1102.80,441.09 L1103.05,440.82 L1103.30,440.53 L1103.54,440.23 L1103.77,439.91 L1104.01,439.58 L1104.23,439.23 L1104.45,438.87 L1104.67,438.50 L1104.89,438.12 L1105.10,437.73 L1105.30,437.34 L1105.51,436.94 L1105.72,436.54 L1105.92,436.14 L1106.13,435.74 L1106.33,435.34 L1106.54,434.94 L1106.75,434.55 L1106.96,434.17 L1107.18,433.79 L1107.40,433.43 L1107.63,433.08 L1107.86,432.73 L1108.10,432.41 L1108.34,432.10 L1108.59,431.80 L1108.85,431.53 L1109.11,431.27 L1109.38,431.03 L1109.65,430.82 L1109.93,430.62 L1110.21,430.45 L1110.49,430.30 L1110.78,430.17 L1111.07,430.07 L1111.36,429.99 L1111.66,429.94 L1111.95,429.91 L1112.24,429.90 L1112.52,429.92 L1112.80,429.96 L1113.08,430.02 L1113.34,430.11 L1113.60,430.22 L1113.85,430.35 L1114.09,430.51 L1114.31,430.68 L1114.53,430.88 L1114.72,431.09 L1114.90,431.33 L1115.07,431.58 L1115.22,431.84 L1115.35,432.13 L1115.46,432.43 L1115.55,432.74 L1115.63,433.07 L1115.69,433.41 L1115.73,433.76 L1115.75,434.12 L1115.75,434.49 L1115.74,434.87 L1115.71,435.26 L1115.66,435.66 L1115.60,436.06 L1115.53,436.47 L1115.44,436.89 L1115.34,437.31 L1115.24,437.73 L1115.13,438.16 L1115.01,438.59 L1114.88,439.02 L1114.76,439.45 L1114.63,439.88 L1114.50,440.32 L1114.38,440.75 L1114.26,441.18 L1114.14,441.60 L1114.03,442.03 L1113.93,442.45 L1113.84,442.87 L1113.76,443.28 L1113.69,443.68 L1113.64,444.08 L1113.60,444.47 L1113.57,444.85 L1113.57,445.22 L1113.57,445.58 L1113.60,445.94 L1113.64,446.28 L1113.70,446.60 L1113.78,446.92 L1113.87,447.22 L1113.98,447.50 L1114.11,447.77 L1114.26,448.03 L1114.42,448.26 L1114.60,448.48 L1114.79,448.68 L1114.99,448.86 L1115.21,449.02 L1115.44,449.16 L1115.67,449.28 L1115.92,449.37 L1116.18,449.45 L1116.44,449.50 L1116.71,449.53 L1116.99,449.53 L1117.27,449.51 L1117.55,449.47 L1117.83,449.41 L1118.12,449.32 L1118.40,449.21 L1118.69,449.07 L1118.97,448.92 L1119.25,448.74 L1119.53,448.54 L1119.80,448.32 L1120.07,448.08 L1120.34,447.82 L1120.60,447.55 L1120.86,447.25 L1121.12,446.94 L1121.37,446.62 L1121.61,446.28 L1121.86,445.93 L1122.10,445.57 L1122.33,445.20 L1122.56,444.83 L1122.80,444.45 L1123.03,444.06 L1123.26,443.67 L1123.48,443.28 L1123.71,442.90 L1123.95,442.51 L1124.18,442.13 L1124.41,441.76 L1124.65,441.39 L1124.89,441.03 L1125.14,440.69 L1125.39,440.35 L1125.64,440.03 L1125.90,439.72 L1126.16,439.44 L1126.43,439.16 L1126.70,438.91 L1126.98,438.68 L1127.27,438.46 L1127.55,438.27 L1127.84,438.10 L1128.14,437.96 L1128.43,437.83 L1128.73,437.73 L1129.02,437.66 L1129.32,437.60 L1129.61,437.58 L1129.91,437.57 L1130.19,437.59 L1130.47,437.64 L1130.75,437.70 L1131.02,437.79 L1131.27,437.90 L1131.52,438.04 L1131.76,438.19 L1131.98,438.37 L1132.19,438.56 L1132.38,438.78 L1132.56,439.01 L1132.72,439.26 L1132.86,439.52 L1132.99,439.81 L1133.10,440.10 L1133.18,440.41 L1133.25,440.74 L1133.30,441.07 L1133.33,441.42 L1133.34,441.77 L1133.33,442.14 L1133.30,442.51 L1133.26,442.89 L1133.20,443.28 L1133.13,443.68 L1133.04,444.08 L1132.93,444.49 L1132.82,444.90 L1132.69,445.31 L1132.56,445.73 L1132.42,446.15 L1132.27,446.57 L1132.12,447.00 L1131.96,447.42 L1131.81,447.84 L1131.66,448.27 L1131.51,448.69 L1131.36,449.11 L1131.22,449.53 L1131.09,449.94 L1130.97,450.36 L1130.85,450.76 L1130.75,451.17 L1130.67,451.57 L1130.59,451.96 L1130.53,452.34 L1130.49,452.72 L1130.47,453.09 L1130.46,453.44 L1130.47,453.79 L1130.50,454.13 L1130.54,454.46 L1130.61,454.77 L1130.69,455.07 L1130.79,455.36 L1130.91,455.63 L1131.04,455.89 L1131.20,456.13 L1131.36,456.35 L1131.55,456.55 L1131.74,456.74 L1131.96,456.90 L1132.18,457.05 L1132.41,457.17 L1132.66,457.28 L1132.91,457.36 L1133.18,457.42 L1133.45,457.46 L1133.72,457.47 L1134.01,457.46 L1134.29,457.43 L1134.58,457.37 L1134.87,457.30 L1135.16,457.19 L1135.45,457.07 L1135.74,456.92 L1136.04,456.76 L1136.32,456.57 L1136.61,456.36 L1136.90,456.13 L1137.18,455.88 L1137.46,455.61 L1137.73,455.33 L1138.00,455.03 L1138.27,454.72 L1138.54,454.39 L1138.80,454.06 L1139.06,453.71 L1139.32,453.35 L1139.57,452.99 L1139.82,452.62 L1140.08,452.25 L1140.33,451.88 L1140.58,451.50 L1140.84,451.13 L1141.09,450.76 L1141.35,450.40 L1141.61,450.04 L1141.87,449.69 L1142.13,449.35 L1142.40,449.03 L1142.67,448.71 L1142.94,448.41 L1143.22,448.13 L1143.50,447.86 L1143.79,447.62 L1144.08,447.39 L1144.37,447.18 L1144.67,446.99 L1144.97,446.83 L1145.27,446.68 L1145.57,446.56 L1145.87,446.46 L1146.17,446.39 L1146.48,446.34 L1146.77,446.32 L1147.07,446.32 L1147.36,446.34 L1147.64,446.38 L1147.91,446.45 L1148.18,446.54 L1148.44,446.66 L1148.69,446.79 L1148.92,446.95 L1149.14,447.12 L1149.35,447.32 L1149.54,447.53 L1149.71,447.77 L1149.87,448.01 L1150.01,448.28 L1150.13,448.56 L1150.23,448.85 L1150.31,449.16 L1150.37,449.48 L1150.41,449.81 L1150.43,450.15 L1150.43,450.50 L1150.41,450.86 L1150.38,451.23 L1150.32,451.60 L1150.25,451.98 L1150.16,452.37 L1150.05,452.76 L1149.93,453.16 L1149.80,453.56 L1149.66,453.96 L1149.50,454.37 L1149.34,454.78 L1149.17,455.19 L1149.00,455.60 L1148.82,456.02 L1148.64,456.43 L1148.46,456.84 L1148.28,457.26 L1148.11,457.67 L1147.94,458.08 L1147.78,458.49 L1147.62,458.89 L1147.48,459.29 L1147.34,459.69 L1147.22,460.09 L1147.12,460.48 L1147.02,460.86 L1146.95,461.24 L1146.89,461.61 L1146.85,461.97 L1146.82,462.33 L1146.82,462.67 L1146.83,463.01 L1146.86,463.33 L1146.92,463.65 L1146.99,463.95 L1147.08,464.24 L1147.18,464.51 L1147.31,464.77 L1147.45,465.01 L1147.61,465.24 L1147.79,465.44 L1147.98,465.64 L1148.18,465.81 L1148.40,465.96 L1148.63,466.09 L1148.88,466.20 L1149.13,466.29 L1149.39,466.36 L1149.66,466.41 L1149.94,466.43 L1150.22,466.43 L1150.51,466.41 L1150.80,466.36 L1151.10,466.29 L1151.40,466.20 L1151.70,466.09 L1152.00,465.95 L1152.30,465.79 L1152.60,465.62 L1152.90,465.42 L1153.19,465.20 L1153.49,464.96 L1153.78,464.71 L1154.07,464.44 L1154.36,464.15 L1154.65,463.85 L1154.93,463.53 L1155.21,463.21 L1155.49,462.88 L1155.77,462.53 L1156.05,462.19 L1156.33,461.83 L1156.60,461.48 L1156.88,461.12 L1157.15,460.76 L1157.43,460.41 L1157.70,460.06 L1157.98,459.71 L1158.26,459.37 L1158.55,459.05 L1158.83,458.73 L1159.12,458.42 L1159.41,458.13 L1159.70,457.86 L1160.00,457.60 L1160.30,457.35 L1160.60,457.13 L1160.91,456.93 L1161.21,456.74 L1161.52,456.58 L1161.83,456.44 L1162.14,456.33 L1162.45,456.23 L1162.75,456.16 L1163.06,456.12 L1163.36,456.10 L1163.66,456.10 L1163.95,456.12 L1164.23,456.17 L1164.51,456.24 L1164.78,456.33 L1165.03,456.45 L1165.28,456.59 L1165.51,456.74 L1165.73,456.92 L1165.94,457.12 L1166.12,457.33 L1166.29,457.56 L1166.45,457.81 L1166.58,458.07 L1166.70,458.35 L1166.79,458.64 L1166.87,458.94 L1166.92,459.26 L1166.96,459.59 L1166.97,459.92 L1166.96,460.27 L1166.93,460.62 L1166.89,460.98 L1166.82,461.34 L1166.74,461.72 L1166.63,462.09 L1166.51,462.48 L1166.38,462.86 L1166.23,463.25 L1166.07,463.65 L1165.90,464.04 L1165.72,464.44 L1165.53,464.84 L1165.33,465.24 L1165.13,465.64 L1164.92,466.04 L1164.72,466.44 L1164.52,466.84 L1164.31,467.25 L1164.12,467.65 L1163.92,468.04 L1163.74,468.44 L1163.56,468.84 L1163.40,469.23 L1163.24,469.62 L1163.10,470.00 L1162.98,470.38 L1162.87,470.76 L1162.78,471.13 L1162.70,471.49 L1162.64,471.85 L1162.60,472.20 L1162.59,472.54 L1162.58,472.87 L1162.60,473.20 L1162.64,473.51 L1162.70,473.81 L1162.78,474.10 L1162.88,474.37 L1162.99,474.63 L1163.13,474.88 L1163.28,475.11 L1163.45,475.32 L1163.63,475.52 L1163.83,475.69 L1164.05,475.85 L1164.27,475.99 L1164.51,476.11 L1164.76,476.21 L1165.02,476.28 L1165.29,476.34 L1165.57,476.37 L1165.86,476.38 L1166.15,476.37 L1166.45,476.33 L1166.75,476.27 L1167.05,476.19 L1167.36,476.09 L1167.67,475.97 L1167.98,475.82 L1168.29,475.65 L1168.60,475.47 L1168.91,475.26 L1169.22,475.04 L1169.52,474.79 L1169.83,474.53 L1170.14,474.26 L1170.44,473.97 L1170.74,473.67 L1171.04,473.36 L1171.34,473.04 L1171.64,472.72 L1171.94,472.39 L1172.24,472.05 L1172.53,471.71 L1172.83,471.37 L1173.13,471.03 L1173.42,470.69 L1173.72,470.36 L1174.02,470.04 L1174.32,469.72 L1174.63,469.42 L1174.93,469.12 L1175.24,468.84 L1175.55,468.57 L1175.86,468.32 L1176.17,468.08 L1176.48,467.87 L1176.80,467.67 L1177.12,467.49 L1177.43,467.34 L1177.75,467.20 L1178.07,467.09 L1178.38,467.00 L1178.69,466.94 L1179.00,466.89 L1179.31,466.87 L1179.61,466.88 L1179.90,466.91 L1180.19,466.96 L1180.47,467.03 L1180.74,467.13 L1180.99,467.24 L1181.24,467.38 L1181.47,467.54 L1181.69,467.72 L1181.89,467.92 L1182.08,468.13 L1182.24,468.36 L1182.39,468.61 L1182.53,468.87 L1182.64,469.15 L1182.73,469.43 L1182.80,469.73 L1182.85,470.05 L1182.87,470.37 L1182.88,470.70 L1182.86,471.04 L1182.83,471.38 L1182.77,471.73 L1182.70,472.09 L1182.60,472.46 L1182.49,472.82 L1182.35,473.20 L1182.21,473.57 L1182.04,473.95 L1181.87,474.33 L1181.68,474.71 L1181.48,475.10 L1181.27,475.48 L1181.05,475.87 L1180.83,476.26 L1180.60,476.65 L1180.37,477.03 L1180.14,477.42 L1179.92,477.81 L1179.69,478.20 L1179.47,478.59 L1179.26,478.97 L1179.05,479.36 L1178.86,479.74 L1178.67,480.12 L1178.50,480.50 L1178.34,480.87 L1178.20,481.24 L1178.07,481.61 L1177.96,481.97 L1177.87,482.33 L1177.80,482.68 L1177.74,483.02 L1177.71,483.36 L1177.70,483.69 L1177.70,484.01 L1177.73,484.32 L1177.78,484.62 L1177.84,484.91 L1177.93,485.18 L1178.04,485.44 L1178.16,485.69 L1178.31,485.93 L1178.47,486.14 L1178.65,486.34 L1178.84,486.53 L1179.05,486.69 L1179.27,486.84 L1179.51,486.96 L1179.76,487.07 L1180.02,487.15 L1180.29,487.22 L1180.56,487.26 L1180.85,487.28 L1181.15,487.28 L1181.45,487.25 L1181.75,487.20 L1182.06,487.14 L1182.38,487.04 L1182.69,486.93 L1183.01,486.80 L1183.33,486.64 L1183.65,486.47 L1183.98,486.27 L1184.30,486.06 L1184.62,485.83 L1184.94,485.59 L1185.26,485.33 L1185.58,485.06 L1185.90,484.77 L1186.22,484.48 L1186.54,484.18 L1186.86,483.87 L1187.18,483.55 L1187.49,483.23 L1187.81,482.91 L1188.13,482.59 L1188.45,482.27 L1188.76,481.95 L1189.08,481.64 L1189.40,481.34 L1189.72,481.05 L1190.04,480.76 L1190.37,480.49 L1190.69,480.24 L1191.02,479.99 L1191.34,479.77 L1191.67,479.56 L1192.00,479.37 L1192.32,479.20 L1192.65,479.05 L1192.97,478.92 L1193.30,478.81 L1193.62,478.73 L1193.94,478.67 L1194.25,478.63 L1194.56,478.61 L1194.87,478.62 L1195.16,478.65 L1195.45,478.71 L1195.73,478.78 L1196.00,478.88 L1196.26,479.00 L1196.50,479.14 L1196.74,479.30 L1196.95,479.48 L1197.15,479.68 L1197.34,479.89 L1197.50,480.12 L1197.65,480.37 L1197.78,480.63 L1197.88,480.90 L1197.97,481.19 L1198.04,481.49 L1198.08,481.79 L1198.10,482.11 L1198.10,482.44 L1198.08,482.77 L1198.04,483.11 L1197.97,483.45 L1197.89,483.80 L1197.78,484.16 L1197.66,484.52 L1197.51,484.88 L1197.35,485.24 L1197.18,485.61 L1196.99,485.98 L1196.78,486.34 L1196.56,486.72 L1196.34,487.09 L1196.10,487.46 L1195.86,487.83 L1195.61,488.21 L1195.36,488.58 L1195.11,488.95 L1194.86,489.33 L1194.60,489.70 L1194.36,490.07 L1194.12,490.45 L1193.88,490.82 L1193.66,491.19 L1193.44,491.56 L1193.24,491.92 L1193.05,492.29 L1192.87,492.65 L1192.71,493.01 L1192.57,493.37 L1192.44,493.72 L1192.34,494.07 L1192.25,494.42 L1192.18,494.76 L1192.14,495.09 L1192.11,495.41 L1192.10,495.73 L1192.12,496.04 L1192.15,496.34 L1192.21,496.62 L1192.29,496.90 L1192.39,497.16 L1192.50,497.41 L1192.64,497.65 L1192.79,497.87 L1192.96,498.08 L1193.15,498.27 L1193.35,498.44 L1193.57,498.59 L1193.81,498.72 L1194.05,498.84 L1194.31,498.93 L1194.58,499.00 L1194.86,499.05 L1195.15,499.08 L1195.44,499.09 L1195.75,499.08 L1196.06,499.04 L1196.37,498.98 L1196.69,498.90 L1197.02,498.80 L1197.35,498.68 L1197.68,498.54 L1198.01,498.38 L1198.34,498.20 L1198.68,498.00 L1199.01,497.79 L1199.35,497.56 L1199.69,497.31 L1200.02,497.06 L1200.36,496.79 L1200.70,496.51 L1201.03,496.23 L1201.37,495.93 L1201.71,495.64 L1202.04,495.34 L1202.38,495.04 L1202.71,494.74 L1203.05,494.44 L1203.39,494.15 L1203.72,493.86 L1204.06,493.58 L1204.40,493.31 L1204.74,493.05 L1205.08,492.80 L1205.42,492.57 L1205.76,492.35 L1206.10,492.15 L1206.43,491.97 L1206.77,491.81 L1207.11,491.67 L1207.44,491.54 L1207.78,491.44 L1208.10,491.37 L1208.43,491.31 L1208.75,491.28 L1209.06,491.26 L1209.37,491.28 L1209.67,491.31 L1209.96,491.37 L1210.24,491.45 L1210.51,491.55 L1210.77,491.67 L1211.02,491.81 L1211.25,491.97 L1211.46,492.16 L1211.66,492.35 L1211.84,492.57 L1212.01,492.80 L1212.15,493.05 L1212.28,493.31 L1212.38,493.58 L1212.46,493.86 L1212.52,494.16 L1212.56,494.46 L1212.58,494.77 L1212.57,495.09 L1212.55,495.42 L1212.50,495.75 L1212.42,496.09 L1212.33,496.43 L1212.22,496.78 L1212.08,497.13 L1211.93,497.48 L1211.76,497.83 L1211.57,498.18 L1211.37,498.54 L1211.15,498.89 L1210.92,499.25 L1210.67,499.61 L1210.42,499.96 L1210.16,500.32 L1209.89,500.68 L1209.62,501.04 L1209.35,501.39 L1209.07,501.75 L1208.80,502.11 L1208.53,502.47 L1208.26,502.82 L1208.00,503.18 L1207.74,503.53 L1207.50,503.89 L1207.27,504.25 L1207.04,504.60 L1206.84,504.95 L1206.64,505.30 L1206.47,505.65 L1206.31,506.00 L1206.17,506.34 L1206.05,506.68 L1205.95,507.02 L1205.87,507.35 L1205.81,507.68 L1205.77,508.00 L1205.75,508.31 L1205.75,508.62 L1205.78,508.91 L1205.83,509.20 L1205.89,509.48 L1205.98,509.74 L1206.09,510.00 L1206.22,510.24 L1206.36,510.46 L1206.53,510.67 L1206.71,510.87 L1206.91,511.04 L1207.12,511.20 L1207.35,511.34 L1207.60,511.47 L1207.85,511.57 L1208.12,511.65 L1208.40,511.71 L1208.69,511.75 L1208.99,511.77 L1209.29,511.77 L1209.61,511.74 L1209.93,511.70 L1210.26,511.63 L1210.59,511.54 L1210.92,511.43 L1211.26,511.30 L1211.61,511.16 L1211.95,510.99 L1212.30,510.81 L1212.65,510.61 L1213.00,510.40 L1213.35,510.17 L1213.70,509.93 L1214.05,509.68 L1214.41,509.42 L1214.76,509.15 L1215.11,508.88 L1215.47,508.60 L1215.82,508.33 L1216.18,508.05 L1216.53,507.77 L1216.89,507.49 L1217.24,507.22 L1217.59,506.96 L1217.95,506.70 L1218.30,506.46 L1218.66,506.23 L1219.01,506.01 L1219.36,505.80 L1219.71,505.61 L1220.06,505.44 L1220.41,505.28 L1220.76,505.15 L1221.10,505.03 L1221.44,504.94 L1221.78,504.87 L1222.11,504.82 L1222.44,504.79 L1222.75,504.78 L1223.07,504.80 L1223.37,504.84 L1223.66,504.90 L1223.95,504.98 L1224.22,505.09 L1224.48,505.21 L1224.72,505.35 L1224.95,505.52 L1225.17,505.70 L1225.37,505.90 L1225.55,506.12 L1225.71,506.35 L1225.85,506.59 L1225.97,506.85 L1226.07,507.12 L1226.15,507.40 L1226.21,507.70 L1226.24,508.00 L1226.25,508.31 L1226.24,508.62 L1226.21,508.94 L1226.15,509.27 L1226.08,509.60 L1225.98,509.93 L1225.85,510.27 L1225.71,510.61 L1225.55,510.95 L1225.37,511.29 L1225.17,511.63 L1224.96,511.97 L1224.73,512.31 L1224.48,512.65 L1224.22,513.00 L1223.96,513.34 L1223.68,513.68 L1223.39,514.02 L1223.10,514.36 L1222.81,514.70 L1222.51,515.04 L1222.22,515.38 L1221.92,515.72 L1221.63,516.06 L1221.34,516.40 L1221.06,516.74 L1220.79,517.08 L1220.53,517.42 L1220.28,517.76 L1220.04,518.10 L1219.81,518.43 L1219.61,518.77 L1219.42,519.11 L1219.24,519.45 L1219.09,519.78 L1218.95,520.11 L1218.84,520.44 L1218.75,520.76 L1218.67,521.09 L1218.62,521.40 L1218.59,521.71 L1218.59,522.01 L1218.60,522.31 L1218.64,522.59 L1218.69,522.87 L1218.77,523.14 L1218.87,523.39 L1218.99,523.64 L1219.13,523.87 L1219.29,524.08 L1219.47,524.28 L1219.66,524.46 L1219.87,524.63 L1220.09,524.78 L1220.33,524.91 L1220.59,525.02 L1220.86,525.11 L1221.13,525.18 L1221.43,525.23 L1221.73,525.26 L1222.04,525.27 L1222.35,525.26 L1222.68,525.22 L1223.01,525.17 L1223.35,525.09 L1223.69,525.00 L1224.04,524.89 L1224.39,524.75 L1224.75,524.60 L1225.11,524.44 L1225.47,524.25 L1225.83,524.06 L1226.20,523.85 L1226.57,523.63 L1226.93,523.40 L1227.30,523.16 L1227.67,522.91 L1228.04,522.66 L1228.41,522.40 L1228.78,522.14 L1229.15,521.89 L1229.53,521.63 L1229.90,521.38 L1230.27,521.14 L1230.64,520.90 L1231.00,520.67 L1231.37,520.45 L1231.74,520.24 L1232.11,520.05 L1232.47,519.87 L1232.83,519.71 L1233.19,519.56 L1233.55,519.44 L1233.90,519.33 L1234.25,519.25 L1234.59,519.18 L1234.93,519.14 L1235.26,519.11 L1235.58,519.11 L1235.90,519.14 L1236.21,519.18 L1236.50,519.24 L1236.79,519.33 L1237.06,519.44 L1237.32,519.57 L1237.57,519.71 L1237.80,519.88 L1238.01,520.06 L1238.21,520.26 L1238.39,520.48 L1238.55,520.71 L1238.69,520.96 L1238.81,521.22 L1238.90,521.49 L1238.98,521.77 L1239.03,522.05 L1239.07,522.35 L1239.07,522.66 L1239.06,522.97 L1239.02,523.28 L1238.96,523.60 L1238.88,523.93 L1238.77,524.25 L1238.64,524.58 L1238.49,524.91 L1238.32,525.24 L1238.13,525.57 L1237.92,525.90 L1237.70,526.22 L1237.46,526.55 L1237.20,526.88 L1236.93,527.20 L1236.65,527.53 L1236.36,527.85 L1236.06,528.17 L1235.75,528.50 L1235.44,528.82 L1235.12,529.14 L1234.81,529.46 L1234.49,529.78 L1234.17,530.10 L1233.86,530.42 L1233.56,530.74 L1233.26,531.07 L1232.97,531.39 L1232.69,531.71 L1232.42,532.04 L1232.17,532.36 L1231.93,532.69 L1231.71,533.01 L1231.51,533.34 L1231.32,533.66 L1231.15,533.98 L1231.00,534.31 L1230.88,534.63 L1230.77,534.94 L1230.68,535.26 L1230.62,535.57 L1230.58,535.87 L1230.56,536.17 L1230.57,536.47 L1230.59,536.75 L1230.64,537.03 L1230.71,537.29 L1230.80,537.55 L1230.92,537.80 L1231.05,538.03 L1231.20,538.25 L1231.37,538.45 L1231.56,538.64 L1231.76,538.82 L1231.98,538.97 L1232.22,539.11 L1232.47,539.23 L1232.74,539.33 L1233.02,539.41 L1233.31,539.47 L1233.61,539.51 L1233.92,539.53 L1234.24,539.53 L1234.57,539.51 L1234.91,539.47 L1235.26,539.41 L1235.61,539.33 L1235.96,539.23 L1236.33,539.12 L1236.69,538.98 L1237.06,538.83 L1237.43,538.67 L1237.81,538.49 L1238.19,538.30 L1238.57,538.10 L1238.95,537.89 L1239.33,537.67 L1239.72,537.44 L1240.10,537.21 L1240.49,536.98 L1240.88,536.74 L1241.26,536.51 L1241.65,536.28 L1242.03,536.05 L1242.42,535.83 L1242.80,535.62 L1243.18,535.42 L1243.56,535.23 L1243.94,535.05 L1244.32,534.88 L1244.69,534.73 L1245.06,534.60 L1245.42,534.48 L1245.79,534.39 L1246.14,534.31 L1246.49,534.25 L1246.84,534.22 L1247.18,534.20 L1247.50,534.21 L1247.82,534.23 L1248.13,534.28 L1248.43,534.35 L1248.72,534.44 L1249.00,534.55 L1249.26,534.68 L1249.50,534.83 L1249.73,535.00 L1249.95,535.19 L1250.14,535.39 L1250.32,535.61 L1250.48,535.84 L1250.62,536.08 L1250.74,536.34 L1250.83,536.61 L1250.90,536.89 L1250.95,537.18 L1250.98,537.47 L1250.99,537.77 L1250.97,538.08 L1250.93,538.39 L1250.86,538.70 L1250.77,539.02 L1250.66,539.34 L1250.53,539.66 L1250.37,539.98 L1250.19,540.29 L1250.00,540.61 L1249.78,540.93 L1249.55,541.24 L1249.30,541.56 L1249.03,541.87 L1248.75,542.18 L1248.45,542.49 L1248.15,542.79 L1247.84,543.10 L1247.51,543.40 L1247.19,543.70 L1246.85,544.00 L1246.52,544.30 L1246.18,544.60 L1245.84,544.91 L1245.51,545.21 L1245.18,545.51 L1244.86,545.81 L1244.55,546.11 L1244.24,546.42 L1243.95,546.72 L1243.67,547.03 L1243.40,547.34 L1243.15,547.65 L1242.91,547.96 L1242.69,548.27 L1242.49,548.59 L1242.31,548.90 L1242.15,549.21 L1242.01,549.52 L1241.89,549.83 L1241.80,550.14 L1241.72,550.44 L1241.67,550.74 L1241.64,551.04 L1241.64,551.33 L1241.66,551.62 L1241.69,551.89 L1241.76,552.16 L1241.84,552.42 L1241.94,552.67 L1242.07,552.90 L1242.21,553.13 L1242.37,553.34 L1242.56,553.53 L1242.76,553.71 L1242.98,553.87 L1243.21,554.02 L1243.46,554.15 L1243.72,554.26 L1244.00,554.35 L1244.29,554.42 L1244.59,554.47 L1244.91,554.51 L1245.23,554.52 L1245.57,554.51 L1245.91,554.49 L1246.26,554.44 L1246.62,554.38 L1246.98,554.29 L1247.35,554.19 L1247.73,554.08 L1248.11,553.94 L1248.49,553.80 L1248.88,553.64 L1249.27,553.47 L1249.66,553.29 L1250.06,553.10 L1250.45,552.90 L1250.85,552.69 L1251.25,552.49 L1251.65,552.28 L1252.05,552.07 L1252.45,551.86 L1252.85,551.65 L1253.25,551.45 L1253.64,551.26 L1254.04,551.08 L1254.43,550.90 L1254.82,550.74 L1255.21,550.59 L1255.59,550.45 L1255.97,550.33 L1256.35,550.22 L1256.72,550.14 L1257.08,550.07 L1257.44,550.02 L1257.79,549.99 L1258.14,549.98 L1258.47,550.00 L1258.79,550.03 L1259.11,550.08 L1259.41,550.16 L1259.70,550.25 L1259.98,550.37 L1260.24,550.50 L1260.49,550.66 L1260.72,550.83 L1260.93,551.02 L1261.13,551.22 L1261.30,551.44 L1261.46,551.67 L1261.60,551.92 L1261.71,552.18 L1261.81,552.44 L1261.88,552.72 L1261.92,553.01 L1261.95,553.30 L1261.95,553.60 L1261.93,553.90 L1261.88,554.20 L1261.81,554.51 L1261.72,554.82 L1261.60,555.13 L1261.46,555.44 L1261.30,555.75 L1261.12,556.06 L1260.92,556.37 L1260.69,556.67 L1260.45,556.97 L1260.19,557.27 L1259.92,557.57 L1259.63,557.86 L1259.32,558.15 L1259.01,558.44 L1258.68,558.73 L1258.35,559.01 L1258.00,559.29 L1257.65,559.57 L1257.30,559.85 L1256.95,560.13 L1256.59,560.41 L1256.24,560.69 L1255.89,560.97 L1255.55,561.25 L1255.21,561.54 L1254.88,561.82 L1254.56,562.11 L1254.25,562.39 L1253.96,562.68 L1253.68,562.98 L1253.41,563.27 L1253.16,563.57 L1252.93,563.87 L1252.72,564.17 L1252.53,564.47 L1252.36,564.77 L1252.21,565.07 L1252.08,565.37 L1251.97,565.67 L1251.89,565.97 L1251.82,566.27 L1251.79,566.56 L1251.77,566.85 L1251.78,567.13 L1251.81,567.41 L1251.86,567.68 L1251.93,567.94 L1252.03,568.19 L1252.15,568.43 L1252.28,568.65 L1252.44,568.87 L1252.62,569.07 L1252.81,569.26 L1253.03,569.43 L1253.26,569.58 L1253.50,569.72 L1253.77,569.84 L1254.04,569.94 L1254.33,570.02 L1254.64,570.09 L1254.95,570.13 L1255.28,570.16 L1255.62,570.17 L1255.96,570.15 L1256.32,570.12 L1256.68,570.07 L1257.06,570.01 L1257.43,569.93 L1257.82,569.83 L1258.21,569.71 L1258.60,569.59 L1259.00,569.45 L1259.40,569.30 L1259.80,569.14 L1260.21,568.97 L1260.62,568.79 L1261.03,568.61 L1261.44,568.43 L1261.85,568.24 L1262.26,568.06 L1262.67,567.88 L1263.08,567.70 L1263.49,567.53 L1263.90,567.36 L1264.31,567.20 L1264.71,567.06 L1265.11,566.92 L1265.50,566.80 L1265.89,566.69 L1266.28,566.60 L1266.66,566.53 L1267.03,566.47 L1267.39,566.43 L1267.75,566.41 L1268.10,566.41 L1268.44,566.43 L1268.77,566.47 L1269.09,566.53 L1269.39,566.61 L1269.69,566.71 L1269.96,566.83 L1270.23,566.97 L1270.48,567.13 L1270.71,567.30 L1270.92,567.49 L1271.12,567.70 L1271.29,567.92 L1271.45,568.15 L1271.58,568.40 L1271.69,568.66 L1271.79,568.92 L1271.85,569.20 L1271.90,569.48 L1271.92,569.77 L1271.92,570.07 L1271.89,570.37 L1271.84,570.67 L1271.77,570.97 L1271.67,571.27 L1271.55,571.58 L1271.41,571.88 L1271.25,572.18 L1271.06,572.48 L1270.85,572.77 L1270.62,573.06 L1270.37,573.35 L1270.11,573.64 L1269.82,573.92 L1269.53,574.20 L1269.21,574.47 L1268.89,574.74 L1268.55,575.01 L1268.20,575.27 L1267.85,575.53 L1267.49,575.79 L1267.12,576.05 L1266.75,576.31 L1266.38,576.57 L1266.01,576.82 L1265.64,577.08 L1265.28,577.34 L1264.92,577.60 L1264.57,577.86 L1264.22,578.13 L1263.89,578.39 L1263.57,578.66 L1263.26,578.94 L1262.97,579.21 L1262.69,579.49 L1262.43,579.77 L1262.19,580.06 L1261.97,580.34 L1261.76,580.63 L1261.58,580.92 L1261.42,581.22 L1261.28,581.51 L1261.16,581.80 L1261.07,582.10 L1261.00,582.39 L1260.95,582.68 L1260.92,582.96 L1260.92,583.24 L1260.94,583.52 L1260.99,583.79 L1261.05,584.05 L1261.14,584.30 L1261.25,584.54 L1261.38,584.77 L1261.53,584.99 L1261.70,585.20 L1261.89,585.39 L1262.10,585.57 L1262.33,585.74 L1262.57,585.88 L1262.83,586.01 L1263.11,586.12 L1263.40,586.22 L1263.70,586.30 L1264.02,586.35 L1264.35,586.39 L1264.69,586.41 L1265.04,586.42 L1265.40,586.40 L1265.77,586.37 L1266.14,586.32 L1266.53,586.26 L1266.92,586.18 L1267.32,586.08 L1267.72,585.97 L1268.13,585.86 L1268.54,585.73 L1268.95,585.59 L1269.37,585.44 L1269.79,585.29 L1270.21,585.14 L1270.63,584.98 L1271.06,584.82 L1271.48,584.66 L1271.90,584.50 L1272.32,584.35 L1272.74,584.21 L1273.15,584.07 L1273.56,583.94 L1273.97,583.82 L1274.38,583.72 L1274.78,583.62 L1275.17,583.55 L1275.56,583.49 L1275.94,583.44 L1276.31,583.41 L1276.68,583.40 L1277.03,583.41 L1277.38,583.44 L1277.71,583.49 L1278.03,583.55 L1278.34,583.64 L1278.64,583.75 L1278.92,583.87 L1279.18,584.01 L1279.43,584.17 L1279.66,584.35 L1279.88,584.55 L1280.07,584.75 L1280.25,584.98 L1280.40,585.21 L1280.53,585.46 L1280.64,585.72 L1280.73,585.99 L1280.80,586.26 L1280.84,586.54 L1280.86,586.83 L1280.86,587.12 L1280.83,587.42 L1280.78,587.72 L1280.70,588.01 L1280.60,588.31 L1280.48,588.61 L1280.33,588.90 L1280.16,589.19 L1279.97,589.48 L1279.76,589.77 L1279.52,590.05 L1279.27,590.32 L1279.00,590.59 L1278.71,590.86 L1278.40,591.12 L1278.08,591.38 L1277.75,591.63 L1277.41,591.88 L1277.05,592.12 L1276.68,592.37 L1276.31,592.60 L1275.93,592.84 L1275.55,593.08 L1275.16,593.31 L1274.78,593.54 L1274.39,593.78 L1274.01,594.01 L1273.63,594.25 L1273.26,594.49 L1272.90,594.73 L1272.54,594.97 L1272.20,595.22 L1271.86,595.47 L1271.55,595.72 L1271.24,595.98 L1270.95,596.24 L1270.68,596.51 L1270.43,596.78 L1270.20,597.05 L1269.98,597.33 L1269.79,597.61 L1269.62,597.90 L1269.47,598.18 L1269.34,598.47 L1269.24,598.75 L1269.16,599.04 L1269.10,599.32 L1269.06,599.61 L1269.05,599.88 L1269.06,600.16 L1269.10,600.43 L1269.16,600.69 L1269.24,600.94 L1269.34,601.19 L1269.46,601.43 L1269.61,601.65 L1269.77,601.86 L1269.96,602.06 L1270.16,602.25 L1270.39,602.42 L1270.63,602.58 L1270.88,602.72 L1271.16,602.84 L1271.45,602.95 L1271.75,603.03 L1272.07,603.11 L1272.40,603.16 L1272.74,603.19 L1273.09,603.21 L1273.46,603.21 L1273.83,603.20 L1274.21,603.17 L1274.61,603.12 L1275.00,603.06 L1275.41,602.99 L1275.82,602.90 L1276.23,602.80 L1276.65,602.70 L1277.08,602.58 L1277.50,602.46 L1277.93,602.33 L1278.36,602.20 L1278.79,602.07 L1279.22,601.94 L1279.65,601.80 L1280.08,601.68 L1280.51,601.55 L1280.94,601.44 L1281.36,601.33 L1281.78,601.23 L1282.19,601.14 L1282.60,601.06 L1283.00,601.00 L1283.40,600.95 L1283.79,600.92 L1284.17,600.90 L1284.54,600.91 L1284.90,600.93 L1285.25,600.96 L1285.58,601.02 L1285.91,601.09 L1286.22,601.19 L1286.52,601.30 L1286.80,601.43 L1287.07,601.58 L1287.32,601.74 L1287.55,601.92 L1287.76,602.12 L1287.96,602.33 L1288.13,602.56 L1288.29,602.79 L1288.42,603.04 L1288.53,603.30 L1288.62,603.57 L1288.68,603.84 L1288.72,604.12 L1288.74,604.41 L1288.73,604.70 L1288.70,604.99 L1288.65,605.28 L1288.57,605.58 L1288.46,605.87 L1288.34,606.16 L1288.19,606.45 L1288.01,606.73 L1287.82,607.01 L1287.60,607.28 L1287.37,607.55 L1287.11,607.81 L1286.83,608.07 L1286.54,608.32 L1286.23,608.57 L1285.90,608.81 L1285.56,609.05 L1285.21,609.28 L1284.85,609.50 L1284.47,609.72 L1284.09,609.94 L1283.70,610.15 L1283.31,610.37 L1282.91,610.58 L1282.51,610.79 L1282.11,610.99 L1281.71,611.20 L1281.32,611.42 L1280.93,611.63 L1280.54,611.84 L1280.17,612.06 L1279.80,612.29 L1279.45,612.51 L1279.10,612.74 L1278.77,612.98 L1278.46,613.22 L1278.16,613.47 L1277.88,613.72 L1277.62,613.98 L1277.38,614.24 L1277.15,614.50 L1276.95,614.77 L1276.77,615.04 L1276.61,615.32 L1276.48,615.60 L1276.36,615.88 L1276.27,616.16 L1276.20,616.44 L1276.16,616.72 L1276.14,616.99 L1276.14,617.27 L1276.17,617.54 L1276.22,617.80 L1276.29,618.06 L1276.39,618.31 L1276.50,618.55 L1276.64,618.77 L1276.80,618.99 L1276.98,619.20 L1277.18,619.39 L1277.40,619.57 L1277.64,619.74 L1277.89,619.89 L1278.16,620.02 L1278.45,620.14 L1278.75,620.24 L1279.07,620.33 L1279.40,620.39 L1279.74,620.44 L1280.10,620.48 L1280.47,620.50 L1280.85,620.50 L1281.23,620.49 L1281.63,620.46 L1282.03,620.42 L1282.44,620.36 L1282.86,620.30 L1283.28,620.22 L1283.71,620.14 L1284.14,620.05 L1284.58,619.95 L1285.01,619.85 L1285.45,619.75 L1285.89,619.64 L1286.33,619.53 L1286.76,619.43 L1287.20,619.33 L1287.63,619.24 L1288.06,619.15 L1288.49,619.07 L1288.91,619.00 L1289.33,618.94 L1289.74,618.89 L1290.14,618.86 L1290.54,618.84 L1290.92,618.84 L1291.30,618.85 L1291.66,618.88 L1292.02,618.93 L1292.36,619.00 L1292.69,619.08 L1293.01,619.18 L1293.31,619.30 L1293.59,619.43 L1293.86,619.59 L1294.11,619.76 L1294.34,619.94 L1294.56,620.14 L1294.75,620.36 L1294.92,620.58 L1295.08,620.82 L1295.21,621.07 L1295.32,621.33 L1295.40,621.60 L1295.46,621.88 L1295.50,622.16 L1295.52,622.44 L1295.51,622.73 L1295.48,623.02 L1295.42,623.31 L1295.34,623.59 L1295.23,623.88 L1295.10,624.16 L1294.95,624.44 L1294.78,624.72 L1294.58,624.99 L1294.36,625.26 L1294.12,625.51 L1293.86,625.76 L1293.58,626.01 L1293.28,626.25 L1292.97,626.48 L1292.64,626.70 L1292.29,626.92 L1291.93,627.13 L1291.56,627.34 L1291.18,627.54 L1290.79,627.73 L1290.39,627.93 L1289.99,628.11 L1289.58,628.30 L1289.17,628.49 L1288.76,628.67 L1288.35,628.86 L1287.94,629.04 L1287.53,629.23 L1287.13,629.42 L1286.74,629.61 L1286.36,629.81 L1285.98,630.01 L1285.62,630.22 L1285.26,630.43 L1284.93,630.64 L1284.60,630.87 L1284.30,631.10 L1284.01,631.33 L1283.74,631.57 L1283.48,631.82 L1283.25,632.08 L1283.04,632.33 L1282.85,632.60 L1282.68,632.86 L1282.54,633.13 L1282.42,633.41 L1282.32,633.68 L1282.24,633.96 L1282.19,634.23 L1282.16,634.51 L1282.15,634.78 L1282.17,635.05 L1282.21,635.31 L1282.28,635.57 L1282.37,635.82 L1282.48,636.07 L1282.61,636.30 L1282.76,636.53 L1282.93,636.74 L1283.13,636.94 L1283.34,637.13 L1283.57,637.30 L1283.83,637.46 L1284.09,637.61 L1284.38,637.74 L1284.68,637.85 L1285.00,637.95 L1285.33,638.03 L1285.68,638.10 L1286.03,638.15 L1286.40,638.18 L1286.78,638.20 L1287.17,638.21 L1287.57,638.20 L1287.98,638.18 L1288.40,638.15 L1288.82,638.11 L1289.25,638.06 L1289.68,638.00 L1290.12,637.93 L1290.56,637.86 L1291.00,637.78 L1291.45,637.70 L1291.89,637.62 L1292.33,637.55 L1292.78,637.47 L1293.22,637.40 L1293.65,637.33 L1294.09,637.28 L1294.52,637.22 L1294.94,637.18 L1295.36,637.16 L1295.77,637.14 L1296.17,637.14 L1296.56,637.15 L1296.94,637.17 L1297.31,637.22 L1297.67,637.27 L1298.02,637.35 L1298.35,637.44 L1298.67,637.55 L1298.97,637.68 L1299.26,637.82 L1299.53,637.98 L1299.78,638.15 L1300.01,638.34 L1300.23,638.55 L1300.42,638.77 L1300.59,639.00 L1300.74,639.24 L1300.87,639.49 L1300.98,639.75 L1301.07,640.02 L1301.13,640.29 L1301.16,640.57 L1301.18,640.86 L1301.17,641.14 L1301.13,641.43 L1301.07,641.71 L1300.99,642.00 L1300.88,642.28 L1300.75,642.56 L1300.59,642.83 L1300.42,643.10 L1300.22,643.36 L1300.00,643.62 L1299.75,643.86 L1299.49,644.10 L1299.21,644.34 L1298.91,644.56 L1298.59,644.78 L1298.26,644.99 L1297.91,645.19 L1297.55,645.38 L1297.17,645.57 L1296.78,645.75 L1296.39,645.92 L1295.99,646.09 L1295.57,646.26 L1295.16,646.42 L1294.74,646.58 L1294.32,646.74 L1293.89,646.90 L1293.47,647.06 L1293.05,647.22 L1292.64,647.38 L1292.23,647.55 L1291.83,647.72 L1291.44,647.89 L1291.05,648.07 L1290.68,648.26 L1290.32,648.45 L1289.97,648.65 L1289.64,648.85 L1289.33,649.07 L1289.03,649.29 L1288.75,649.51 L1288.49,649.75 L1288.25,649.99 L1288.03,650.23 L1287.84,650.49 L1287.66,650.75 L1287.51,651.01 L1287.38,651.27 L1287.27,651.54 L1287.18,651.81 L1287.12,652.09 L1287.09,652.36 L1287.07,652.63 L1287.08,652.90 L1287.12,653.16 L1287.17,653.42 L1287.25,653.68 L1287.35,653.92 L1287.48,654.16 L1287.63,654.39 L1287.79,654.61 L1287.98,654.82 L1288.19,655.02 L1288.42,655.20 L1288.67,655.37 L1288.93,655.53 L1289.22,655.67 L1289.52,655.80 L1289.83,655.91 L1290.16,656.01 L1290.51,656.09 L1290.87,656.16 L1291.24,656.21 L1291.62,656.25 L1292.01,656.27 L1292.42,656.29 L1292.83,656.29 L1293.25,656.28 L1293.67,656.26 L1294.11,656.23 L1294.54,656.19 L1294.99,656.15 L1295.43,656.11 L1295.88,656.06 L1296.33,656.00 L1296.77,655.95 L1297.22,655.90 L1297.67,655.86 L1298.11,655.81 L1298.55,655.78 L1298.98,655.75 L1299.41,655.73 L1299.84,655.72 L1300.25,655.72 L1300.66,655.73 L1301.05,655.76 L1301.44,655.80 L1301.82,655.85 L1302.18,655.92 L1302.53,656.01 L1302.87,656.11 L1303.19,656.23 L1303.49,656.36 L1303.78,656.51 L1304.05,656.68 L1304.30,656.86 L1304.54,657.06 L1304.75,657.26 L1304.95,657.49 L1305.12,657.72 L1305.27,657.96 L1305.40,658.22 L1305.50,658.48 L1305.59,658.75 L1305.65,659.02 L1305.68,659.30 L1305.69,659.58 L1305.68,659.87 L1305.64,660.15 L1305.58,660.44 L1305.50,660.72 L1305.39,660.99 L1305.25,661.27 L1305.10,661.53 L1304.92,661.80 L1304.72,662.05 L1304.49,662.30 L1304.25,662.53 L1303.99,662.76 L1303.70,662.98 L1303.40,663.20 L1303.08,663.40 L1302.74,663.59 L1302.39,663.78 L1302.03,663.95 L1301.65,664.12 L1301.26,664.28 L1300.86,664.43 L1300.45,664.58 L1300.03,664.72 L1299.61,664.86 L1299.19,665.00 L1298.76,665.13 L1298.33,665.27 L1297.89,665.40 L1297.46,665.53 L1297.04,665.67 L1296.62,665.81 L1296.20,665.95 L1295.79,666.09 L1295.39,666.25 L1295.00,666.40 L1294.62,666.57 L1294.26,666.74 L1293.90,666.92 L1293.57,667.11 L1293.24,667.30 L1292.94,667.51 L1292.65,667.72 L1292.39,667.94 L1292.14,668.17 L1291.91,668.40 L1291.71,668.65 L1291.52,668.90 L1291.36,669.15 L1291.22,669.41 L1291.11,669.67 L1291.02,669.94 L1290.95,670.21 L1290.90,670.48 L1290.88,670.75 L1290.88,671.01 L1290.91,671.28 L1290.96,671.54 L1291.03,671.80 L1291.12,672.05 L1291.24,672.29 L1291.38,672.53 L1291.54,672.75 L1291.72,672.97 L1291.93,673.18 L1292.15,673.37 L1292.40,673.55 L1292.66,673.72 L1292.94,673.87 L1293.23,674.01 L1293.55,674.14 L1293.88,674.25 L1294.22,674.35 L1294.58,674.43 L1294.95,674.50 L1295.34,674.56 L1295.73,674.61 L1296.14,674.64 L1296.55,674.66 L1296.97,674.68 L1297.40,674.68 L1297.84,674.68 L1298.28,674.66 L1298.72,674.65 L1299.17,674.63 L1299.62,674.61 L1300.07,674.58 L1300.52,674.56 L1300.97,674.54 L1301.42,674.52 L1301.86,674.51 L1302.30,674.50 L1302.73,674.50 L1303.16,674.51 L1303.58,674.53 L1303.99,674.56 L1304.39,674.60 L1304.78,674.66 L1305.16,674.73 L1305.53,674.81 L1305.88,674.91 L1306.22,675.02 L1306.54,675.15 L1306.85,675.29 L1307.14,675.45 L1307.42,675.62 L1307.67,675.81 L1307.90,676.01 L1308.12,676.22 L1308.31,676.45 L1308.48,676.68 L1308.63,676.93 L1308.76,677.19 L1308.87,677.45 L1308.95,677.72 L1309.00,678.00 L1309.04,678.28 L1309.05,678.56 L1309.03,678.84 L1308.99,679.12 L1308.93,679.40 L1308.84,679.68 L1308.73,679.95 L1308.60,680.22 L1308.44,680.48 L1308.26,680.74 L1308.06,680.99 L1307.83,681.22 L1307.59,681.45 L1307.32,681.67 L1307.04,681.88 L1306.74,682.08 L1306.41,682.27 L1306.08,682.45 L1305.73,682.62 L1305.36,682.77 L1304.98,682.92 L1304.59,683.07 L1304.18,683.20 L1303.77,683.33 L1303.35,683.45 L1302.93,683.56 L1302.49,683.67 L1302.06,683.78 L1301.62,683.89 L1301.18,683.99 L1300.74,684.10 L1300.31,684.21 L1299.88,684.32 L1299.45,684.43 L1299.03,684.55 L1298.61,684.67 L1298.21,684.80 L1297.81,684.94 L1297.43,685.08 L1297.06,685.23 L1296.70,685.39 L1296.35,685.56 L1296.03,685.74 L1295.72,685.93 L1295.43,686.13 L1295.15,686.34 L1294.90,686.55 L1294.67,686.78 L1294.45,687.01 L1294.26,687.25 L1294.09,687.49 L1293.95,687.75 L1293.82,688.00 L1293.72,688.26 L1293.64,688.53 L1293.59,688.80 L1293.56,689.06 L1293.55,689.33 L1293.57,689.60 L1293.61,689.86 L1293.68,690.12 L1293.76,690.37 L1293.87,690.62 L1294.01,690.86 L1294.16,691.09 L1294.34,691.32 L1294.54,691.53 L1294.76,691.73 L1295.00,691.93 L1295.25,692.11 L1295.53,692.27 L1295.82,692.43 L1296.14,692.57 L1296.46,692.70 L1296.81,692.81 L1297.16,692.91 L1297.54,693.00 L1297.92,693.08 L1298.31,693.14 L1298.72,693.20 L1299.14,693.24 L1299.56,693.28 L1299.99,693.30 L1300.43,693.32 L1300.87,693.34 L1301.32,693.35 L1301.76,693.36 L1302.21,693.36 L1302.67,693.36 L1303.12,693.37 L1303.57,693.38 L1304.01,693.39 L1304.45,693.40 L1304.89,693.43 L1305.32,693.46 L1305.74,693.50 L1306.16,693.54 L1306.56,693.60 L1306.96,693.67 L1307.34,693.76 L1307.71,693.86 L1308.06,693.97 L1308.41,694.09 L1308.73,694.23 L1309.04,694.38 L1309.33,694.55 L1309.61,694.73 L1309.86,694.92 L1310.10,695.13 L1310.31,695.35 L1310.50,695.58 L1310.67,695.82 L1310.82,696.07 L1310.95,696.33 L1311.05,696.59 L1311.13,696.86 L1311.19,697.14 L1311.22,697.42 L1311.23,697.70 L1311.21,697.98 L1311.17,698.26 L1311.11,698.54 L1311.02,698.82 L1310.91,699.09 L1310.77,699.35 L1310.61,699.61 L1310.43,699.86 L1310.23,700.10 L1310.00,700.33 L1309.76,700.55 L1309.49,700.76 L1309.21,700.95 L1308.90,701.14 L1308.58,701.32 L1308.24,701.48 L1307.89,701.64 L1307.52,701.78 L1307.14,701.91 L1306.75,702.03 L1306.35,702.15 L1305.93,702.25 L1305.51,702.35 L1305.08,702.45 L1304.65,702.53 L1304.21,702.62 L1303.77,702.70 L1303.32,702.78 L1302.88,702.85 L1302.44,702.93 L1302.00,703.01 L1301.56,703.10 L1301.13,703.19 L1300.70,703.28 L1300.28,703.38 L1299.87,703.49 L1299.47,703.60 L1299.09,703.72 L1298.71,703.86 L1298.35,704.00 L1298.00,704.15 L1297.67,704.31 L1297.35,704.48 L1297.06,704.67 L1296.78,704.86 L1296.52,705.06 L1296.28,705.28 L1296.06,705.50 L1295.86,705.73 L1295.68,705.97 L1295.53,706.21 L1295.40,706.46 L1295.29,706.72 L1295.21,706.98 L1295.14,707.24 L1295.11,707.51 L1295.09,707.78 L1295.10,708.04 L1295.13,708.31 L1295.19,708.57 L1295.27,708.83 L1295.37,709.08 L1295.50,709.32 L1295.65,709.56 L1295.82,709.80 L1296.01,710.02 L1296.22,710.23 L1296.46,710.43 L1296.71,710.62 L1296.98,710.80 L1297.27,710.97 L1297.58,711.13 L1297.91,711.27 L1298.25,711.40 L1298.60,711.52 L1298.97,711.63 L1299.36,711.72 L1299.75,711.81 L1300.16,711.89 L1300.57,711.95 L1301.00,712.01 L1301.43,712.06 L1301.86,712.11 L1302.31,712.15 L1302.75,712.18 L1303.20,712.22 L1303.65,712.25 L1304.10,712.28 L1304.55,712.31 L1304.99,712.35 L1305.44,712.39 L1305.88,712.44 L1306.31,712.49 L1306.73,712.55 L1307.15,712.61 L1307.56,712.69 L1307.95,712.78 L1308.34,712.88 L1308.71,712.99 L1309.07,713.11 L1309.41,713.25 L1309.74,713.40 L1310.05,713.56 L1310.34,713.74 L1310.62,713.93 L1310.87,714.13 L1311.11,714.34 L1311.32,714.57 L1311.51,714.80 L1311.68,715.05 L1311.83,715.30 L1311.96,715.56 L1312.06,715.83 L1312.14,716.11 L1312.19,716.38 L1312.22,716.66 L1312.23,716.94 L1312.21,717.22 L1312.17,717.50 L1312.10,717.78 L1312.01,718.05 L1311.90,718.32 L1311.76,718.58 L1311.60,718.83 L1311.42,719.07 L1311.22,719.31 L1310.99,719.53 L1310.75,719.74 L1310.48,719.94 L1310.19,720.13 L1309.89,720.31 L1309.57,720.47 L1309.23,720.62 L1308.88,720.76 L1308.52,720.89 L1308.14,721.01 L1307.74,721.11 L1307.34,721.21 L1306.93,721.29 L1306.51,721.37 L1306.08,721.44 L1305.64,721.50 L1305.20,721.56 L1304.76,721.62 L1304.31,721.67 L1303.86,721.72 L1303.41,721.77 L1302.97,721.82 L1302.52,721.88 L1302.08,721.94 L1301.65,722.00 L1301.22,722.07 L1300.80,722.15 L1300.39,722.23 L1299.98,722.32 L1299.59,722.43 L1299.21,722.54Z" fill="none" stroke="#9c9c9c" stroke-width="4.6" stroke-linejoin="round"/>
<circle cx="996.5" cy="723.5" r="291" fill="#ffffff" stroke="#110e18" stroke-width="1.3"/>
<rect x="760.0" y="529.2" width="259.4" height="139.0" rx="69.5" ry="69.5" fill="#c9caca" stroke="#3f3f3f" stroke-width="1.7"/>
<circle cx="827.7" cy="599.0" r="61.6" fill="#ffffff"/>
<path d="M766.1,599.0 A61.6,61.6 0 0 1 889.3,599.0 Z" fill="#c6da86"/>
<line x1="766.1" y1="599.0" x2="889.3" y2="599.0" stroke="#232a16" stroke-width="1.5"/>
<circle cx="827.7" cy="599.0" r="61.6" fill="none" stroke="#232a16" stroke-width="1.4"/>
<circle cx="827.7" cy="599.0" r="23.6" fill="#9e9d9e" stroke="#232a16" stroke-width="1.7"/>
<circle cx="950.9" cy="599.0" r="61.6" fill="#c6da86" stroke="#232a16" stroke-width="1.4"/>
<circle cx="950.9" cy="599.0" r="23.6" fill="#9e9d9e" stroke="#232a16" stroke-width="1.7"/>
<rect x="1048.0" y="482.5" width="139.1" height="258.7" rx="69.5" ry="69.5" fill="#c9caca" stroke="#3f3f3f" stroke-width="1.7"/>
<circle cx="1117.7" cy="550.0" r="61.6" fill="#ebb75d" stroke="#33281a" stroke-width="1.4"/>
<circle cx="1117.7" cy="550.0" r="23.6" fill="#9e9d9e" stroke="#33281a" stroke-width="1.7"/>
<circle cx="1117.7" cy="673.3" r="61.6" fill="#ffffff"/>
<path d="M1117.7,611.7 A61.6,61.6 0 0 0 1117.7,734.9 Z" fill="#ebb75d"/>
<line x1="1117.7" y1="611.7" x2="1117.7" y2="734.9" stroke="#33281a" stroke-width="1.5"/>
<circle cx="1117.7" cy="673.3" r="61.6" fill="none" stroke="#33281a" stroke-width="1.4"/>
<circle cx="1117.7" cy="673.3" r="23.6" fill="#9e9d9e" stroke="#33281a" stroke-width="1.7"/>
<rect x="805.6" y="696.4" width="139.1" height="258.8" rx="69.5" ry="69.5" fill="#c9caca" stroke="#3f3f3f" stroke-width="1.7"/>
<circle cx="875.1" cy="764.3" r="61.6" fill="#a6d0e2" stroke="#1c2a30" stroke-width="1.4"/>
<circle cx="875.1" cy="764.3" r="23.6" fill="#9e9d9e" stroke="#1c2a30" stroke-width="1.7"/>
<circle cx="875.1" cy="886.7" r="61.6" fill="#ffffff"/>
<path d="M875.1,825.1 A61.6,61.6 0 0 0 875.1,948.3 Z" fill="#a6d0e2"/>
<line x1="875.1" y1="825.1" x2="875.1" y2="948.3" stroke="#1c2a30" stroke-width="1.5"/>
<circle cx="875.1" cy="886.7" r="61.6" fill="none" stroke="#1c2a30" stroke-width="1.4"/>
<circle cx="875.1" cy="886.7" r="23.6" fill="#9e9d9e" stroke="#1c2a30" stroke-width="1.7"/>
<rect x="974.9" y="770.4" width="259.0" height="138.6" rx="69.3" ry="69.3" fill="#c9caca" stroke="#3f3f3f" stroke-width="1.7"/>
<circle cx="1042.6" cy="840.0" r="61.6" fill="#ffffff"/>
<path d="M981.0,840.0 A61.6,61.6 0 0 1 1104.2,840.0 Z" fill="#b9a089"/>
<line x1="981.0" y1="840.0" x2="1104.2" y2="840.0" stroke="#2e261e" stroke-width="1.5"/>
<circle cx="1042.6" cy="840.0" r="61.6" fill="none" stroke="#2e261e" stroke-width="1.4"/>
<circle cx="1042.6" cy="840.0" r="23.6" fill="#9e9d9e" stroke="#2e261e" stroke-width="1.7"/>
<circle cx="1165.8" cy="840.0" r="61.6" fill="#b9a089" stroke="#2e261e" stroke-width="1.4"/>
<circle cx="1165.8" cy="840.0" r="23.6" fill="#9e9d9e" stroke="#2e261e" stroke-width="1.7"/>
<polyline points="516.8,466 600.8,466 663,518.5" stroke="#000" stroke-width="2.2" fill="none" stroke-linejoin="round"/>
<polyline points="516.8,596 600.8,596 663,647.9" stroke="#000" stroke-width="2.2" fill="none" stroke-linejoin="round"/>
<polyline points="505,722 698.5,722" stroke="#000" stroke-width="2.2" fill="none" stroke-linejoin="round"/>
<polyline points="591.6,981 678.3,981 805.4,892.6" stroke="#000" stroke-width="2.2" fill="none" stroke-linejoin="round"/>
<polyline points="1421.3,467 1336.8,467 1188,595.5" stroke="#000" stroke-width="2.2" fill="none" stroke-linejoin="round"/>
<polyline points="1500,721 1415.5,721 1118,673" stroke="#000" stroke-width="2.2" fill="none" stroke-linejoin="round"/>
<polyline points="1047,885.5 1084.5,982.4 1439.4,982.4" stroke="#000" stroke-width="2.2" fill="none" stroke-linejoin="round"/>
<polyline points="1163.4,885.5 1195,982.4" stroke="#000" stroke-width="2.2" fill="none" stroke-linejoin="round"/>
<text x="431.8" y="458.9" font-size="23" font-weight="700" text-anchor="middle" fill="#000" textLength="151.0" lengthAdjust="spacingAndGlyphs" stroke="#000" stroke-width="0.45">Außenmantel</text>
<text x="431.8" y="487.7" font-size="23" font-weight="400" text-anchor="middle" fill="#000" textLength="132.0" lengthAdjust="spacingAndGlyphs">Outer jacket</text>
<text x="431.8" y="588.8" font-size="23" font-weight="700" text-anchor="middle" fill="#000" textLength="139.0" lengthAdjust="spacingAndGlyphs" stroke="#000" stroke-width="0.45">Innenmantel</text>
<text x="432.2" y="617.4" font-size="23" font-weight="400" text-anchor="middle" fill="#000" textLength="128.0" lengthAdjust="spacingAndGlyphs">Inner jacket</text>
<text x="388.7" y="716.7" font-size="23" font-weight="700" text-anchor="middle" fill="#000" textLength="212.0" lengthAdjust="spacingAndGlyphs" stroke="#000" stroke-width="0.45">Geflechtschirmung</text>
<text x="388.1" y="745.5" font-size="23" font-weight="400" text-anchor="middle" fill="#000" textLength="129.0" lengthAdjust="spacingAndGlyphs">Braid shield</text>
<text x="483.4" y="975.9" font-size="23" font-weight="700" text-anchor="middle" fill="#000" textLength="194.0" lengthAdjust="spacingAndGlyphs" stroke="#000" stroke-width="0.45">Paarabschirmung</text>
<text x="482.8" y="1005.1" font-size="23" font-weight="400" text-anchor="middle" fill="#000" textLength="115.0" lengthAdjust="spacingAndGlyphs">Pairscreen</text>
<text x="1511.3" y="458.9" font-size="23" font-weight="700" text-anchor="middle" fill="#000" textLength="162.0" lengthAdjust="spacingAndGlyphs" stroke="#000" stroke-width="0.45">Aderisolierung</text>
<text x="1511.1" y="487.7" font-size="23" font-weight="400" text-anchor="middle" fill="#000" textLength="93.0" lengthAdjust="spacingAndGlyphs">Isulation</text>
<text x="1559.5" y="716.7" font-size="23" font-weight="700" text-anchor="middle" fill="#000" textLength="98.0" lengthAdjust="spacingAndGlyphs" stroke="#000" stroke-width="0.45">Cu-Draht</text>
<text x="1559.0" y="745.5" font-size="23" font-weight="400" text-anchor="middle" fill="#000" textLength="82.0" lengthAdjust="spacingAndGlyphs">Cu-Wire</text>
<text x="1513.5" y="974.6" font-size="23" font-weight="700" text-anchor="middle" fill="#000" textLength="128.0" lengthAdjust="spacingAndGlyphs" stroke="#000" stroke-width="0.45">Adernpaare</text>
<text x="1514.0" y="1003.4" font-size="23" font-weight="400" text-anchor="middle" fill="#000" textLength="129.0" lengthAdjust="spacingAndGlyphs">Twisted pair</text>
<text x="110" y="215.6" font-size="37" font-weight="700" fill="#3b9aa6" stroke="#3b9aa6" stroke-width="0.6" textLength="292" lengthAdjust="spacingAndGlyphs">DK-1741-VH-5-OD</text>
<path d="M423,221.5 L437.5,193 M441,221.5 L455.5,193" stroke="#111" stroke-width="2.3" fill="none"/>
<text x="477" y="216.2" font-size="33.4" font-weight="400" fill="#111" textLength="840" lengthAdjust="spacingAndGlyphs">CAT 7 S/FTP Burial Installation Cable, 500 m, Simplex, PE</text>
<rect x="109" y="226.8" width="1769" height="1.6" fill="#4a4a4a"/>
<text x="107" y="302.9" font-size="33" font-weight="700" fill="#000" stroke="#000" stroke-width="0.6" textLength="254" lengthAdjust="spacingAndGlyphs">Kabelquerschnitt</text>
<rect x="106" y="311.4" width="295" height="1.6" fill="#555"/>
<text x="106" y="342.6" font-size="32.5" font-weight="700" fill="#8a8a8a" stroke="#8a8a8a" stroke-width="0.8" textLength="294" lengthAdjust="spacingAndGlyphs">Cable cross section</text>
<polygon points="1681.5,109.6 1889,109.6 1877.5,177.5 1685,177.5" fill="#fff" stroke="#000" stroke-width="3.2"/>
<text x="1700" y="161" font-family="Liberation Serif" style="font-family:'Liberation Serif',serif" font-size="52" font-weight="700" fill="#000" textLength="157" lengthAdjust="spacingAndGlyphs">DIGITUS</text>
<circle cx="1867.2" cy="125" r="5.8" fill="none" stroke="#000" stroke-width="1.3"/>
<text x="1867.2" y="128.6" font-size="9" font-weight="700" text-anchor="middle" fill="#000">R</text>
<rect x="1415.2" y="239.0" width="57.6" height="57.5" rx="4.5" fill="#3798a4"/>
<path d="M1419.7,239.0 H1461.2 Q1427.2,253.0 1415.2,289.0 V243.5 Q1415.2,239.0 1419.7,239.0 Z" fill="#ffffff" fill-opacity="0.07"/>
<rect x="1483.0" y="239.0" width="57.6" height="57.5" rx="4.5" fill="#3798a4"/>
<path d="M1487.5,239.0 H1529.0 Q1495.0,253.0 1483.0,289.0 V243.5 Q1483.0,239.0 1487.5,239.0 Z" fill="#ffffff" fill-opacity="0.07"/>
<rect x="1550.8" y="239.0" width="57.6" height="57.5" rx="4.5" fill="#3798a4"/>
<path d="M1555.3,239.0 H1596.8 Q1562.8,253.0 1550.8,289.0 V243.5 Q1550.8,239.0 1555.3,239.0 Z" fill="#ffffff" fill-opacity="0.07"/>
<rect x="1618.1" y="239.0" width="57.6" height="57.5" rx="4.5" fill="#3798a4"/>
<path d="M1622.6,239.0 H1664.1 Q1630.1,253.0 1618.1,289.0 V243.5 Q1618.1,239.0 1622.6,239.0 Z" fill="#ffffff" fill-opacity="0.07"/>
<rect x="1685.9" y="239.0" width="57.6" height="57.5" rx="4.5" fill="#3798a4"/>
<path d="M1690.4,239.0 H1731.9 Q1697.9,253.0 1685.9,289.0 V243.5 Q1685.9,239.0 1690.4,239.0 Z" fill="#ffffff" fill-opacity="0.07"/>
<rect x="1753.1" y="239.0" width="57.6" height="57.5" rx="4.5" fill="#3798a4"/>
<path d="M1757.6,239.0 H1799.1 Q1765.1,253.0 1753.1,289.0 V243.5 Q1753.1,239.0 1757.6,239.0 Z" fill="#ffffff" fill-opacity="0.07"/>
<rect x="1821.1" y="239.0" width="57.6" height="57.5" rx="4.5" fill="#3798a4"/>
<path d="M1825.6,239.0 H1867.1 Q1833.1,253.0 1821.1,289.0 V243.5 Q1821.1,239.0 1825.6,239.0 Z" fill="#ffffff" fill-opacity="0.07"/>
<text x="1444.0" y="257.8" font-size="11.8" font-weight="400" text-anchor="middle" fill="#fff" textLength="49.0" lengthAdjust="spacingAndGlyphs" stroke="#fff" stroke-width="0.20">-50°/+60°</text>
<rect x="1420.2" y="265.3" width="47.6" height="1" fill="#9fd6db"/>
<rect x="1441.4" y="267.5" width="5.6" height="19" rx="2.8" fill="#fff"/>
<rect x="1443.6" y="270" width="1.2" height="13" fill="#3a99a5"/>
<circle cx="1444.2" cy="286.4" r="7" fill="#fff"/><circle cx="1444.2" cy="286.4" r="2.3" fill="#3a99a5"/>
<path d="M1424.5,289.5 a2.6,2.6 0 0 1 0.3,-5.2 a3.6,3.6 0 0 1 6.8,-0.6 a2.8,2.8 0 0 1 1.4,5.8 z" fill="none" stroke="#fff" stroke-width="1.1"/>
<path d="M1426,291.5 v1.2 M1428.5,291.5 v1.2 M1431,291.5 v1.2" stroke="#fff" stroke-width="0.9"/>
<path d="M1451,271 l3,3 M1451,274 l3,-3 M1452.5,269 v6.5 M1450.5,272.5 h4" stroke="#fff" stroke-width="0.9" fill="none"/>
<path d="M1454.5,279 a2.6,2.6 0 0 1 0.5,-5.2 a3.8,3.8 0 0 1 7.2,-0.4 a2.8,2.8 0 0 1 1.3,5.6 z" fill="none" stroke="#fff" stroke-width="1.1"/>
<circle cx="1511.8" cy="258.8" r="14.1" fill="none" stroke="#fff" stroke-width="3.6"/>
<path d="M1510.3,268 c-4.5,-2 -5.5,-7.5 -2.5,-12 c0.2,2.5 1.5,3.5 2.8,4 c-1.2,-4.5 1.2,-9 4.2,-11 c-0.5,4 3.5,6.5 3.5,11 c0.8,-1 1,-2.5 0.8,-4 c2,3 2.5,7 -0.5,10 c-2,1.8 -5,2.5 -8.3,2z" fill="#fff"/>
<path d="M1511.3,267.5 c-1.5,-2 -1,-4.5 0.8,-6 c0.5,1.8 1.8,2.5 2.5,3 c0.3,-2 1.2,-3 2,-3.8 c0.5,2.5 1,4.5 -0.5,6.5z" fill="#3a99a5"/>
<line x1="1502.0" y1="249" x2="1521.6" y2="268.6" stroke="#fff" stroke-width="3.4"/>
<rect x="1488.0" y="277.8" width="47.6" height="1" fill="#9fd6db"/>
<text x="1511.8" y="290.6" font-size="13" font-weight="700" text-anchor="middle" fill="#fff" textLength="33.0" lengthAdjust="spacingAndGlyphs">LSZH</text>
<text x="1571.3" y="266.8" font-size="26.5" font-weight="700" text-anchor="middle" fill="#fff" textLength="15.0" lengthAdjust="spacingAndGlyphs">E</text>
<text x="1588.4" y="272.2" font-size="15" font-weight="700" text-anchor="middle" fill="#fff" textLength="16.5" lengthAdjust="spacingAndGlyphs">ca</text>
<rect x="1554.8" y="277.0" width="48.6" height="1" fill="#9fd6db"/>
<text x="1579.6" y="288.5" font-size="10.5" font-weight="700" text-anchor="middle" fill="#fff" textLength="48.0" lengthAdjust="spacingAndGlyphs">CPR class</text>
<text x="1646.9" y="262.9" font-size="19.3" font-weight="400" text-anchor="middle" fill="#fff" textLength="44.0" lengthAdjust="spacingAndGlyphs" stroke="#fff" stroke-width="0.60">AWG</text>
<rect x="1623.1" y="268.2" width="47.6" height="1" fill="#9fd6db"/>
<text x="1646.9" y="286.7" font-size="19.3" font-weight="400" text-anchor="middle" fill="#fff" textLength="38.0" lengthAdjust="spacingAndGlyphs" stroke="#fff" stroke-width="0.60">23/1</text>
<text x="1714.7" y="258.0" font-size="16.3" font-weight="400" text-anchor="middle" fill="#fff" textLength="41.0" lengthAdjust="spacingAndGlyphs" stroke="#fff" stroke-width="0.55">1 200</text>
<text x="1714.7" y="270.6" font-size="12.5" font-weight="700" text-anchor="middle" fill="#fff" textLength="30.0" lengthAdjust="spacingAndGlyphs">MHz</text>
<rect x="1689.9" y="275.2" width="49.6" height="1" fill="#9fd6db"/>
<text x="1714.7" y="283.3" font-size="6.5" font-weight="700" text-anchor="middle" fill="#fff" textLength="41.0" lengthAdjust="spacingAndGlyphs">Transmission</text>
<text x="1714.7" y="290.3" font-size="6.5" font-weight="700" text-anchor="middle" fill="#fff" textLength="31.0" lengthAdjust="spacingAndGlyphs">frequency</text>
<text x="1781.9" y="258.7" font-size="17" font-weight="400" text-anchor="middle" fill="#fff" textLength="18.0" lengthAdjust="spacingAndGlyphs" stroke="#fff" stroke-width="0.55">10</text>
<text x="1781.9" y="270.6" font-size="12.8" font-weight="700" text-anchor="middle" fill="#fff" textLength="27.0" lengthAdjust="spacingAndGlyphs">Gbit</text>
<rect x="1757.1" y="275.2" width="48.6" height="1" fill="#9fd6db"/>
<text x="1781.9" y="287.7" font-size="10.5" font-weight="700" text-anchor="middle" fill="#fff" textLength="47.0" lengthAdjust="spacingAndGlyphs">Ethernet</text>
<text x="1849.9" y="260.1" font-size="19.5" font-weight="400" text-anchor="middle" fill="#fff" textLength="38.0" lengthAdjust="spacingAndGlyphs" stroke="#fff" stroke-width="0.60">CAT</text>
<text x="1849.9" y="273.4" font-size="14" font-weight="400" text-anchor="middle" fill="#fff" stroke="#fff" stroke-width="0.50">7</text>
<rect x="1825.1" y="278.4" width="49.6" height="1" fill="#9fd6db"/>
<text x="1849.9" y="288.8" font-size="6.5" font-weight="700" text-anchor="middle" fill="#fff" textLength="33.0" lengthAdjust="spacingAndGlyphs">1 200 MHz</text>
</svg></body></html>
